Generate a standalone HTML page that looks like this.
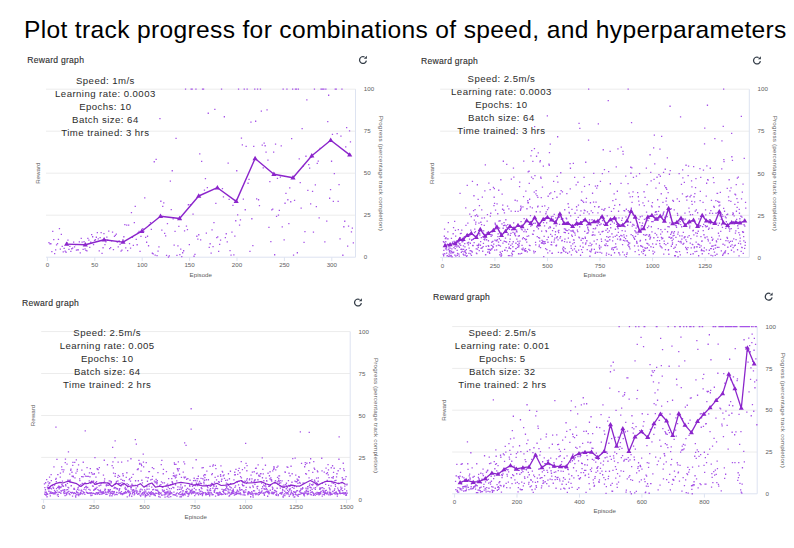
<!DOCTYPE html>
<html><head><meta charset="utf-8"><title>Plot track progress</title>
<style>
html,body{margin:0;padding:0;background:#fff;}
body{width:794px;height:548px;overflow:hidden;position:relative;}
svg{position:absolute;left:0;top:0;}
text{font-family:"Liberation Sans", Arial, sans-serif;}
.h1{font-size:24.6px;fill:#000;letter-spacing:0.33px;}
.ttl{font-size:8.6px;fill:#2f2f2f;letter-spacing:0.25px;stroke:#2f2f2f;stroke-width:0.12px;}
.tl{font-size:6.2px;fill:#606060;}
.ov{font-size:9.6px;fill:#2c2c2c;letter-spacing:0.45px;}
.grid{stroke:#ececec;stroke-width:1;fill:none;}
.axis{stroke:#dde3f1;stroke-width:1;fill:none;}
.dot{fill:#a653e8;}
.avg{fill:none;stroke:#8b25cb;stroke-linejoin:round;}
.tri{fill:#8b25cb;}
</style></head>
<body>
<svg width="794" height="548" viewBox="0 0 794 548">
<text x="24.0" y="37.7" class="h1">Plot track progress for combinations of speed, and hyperparameters</text>
<text x="27.2" y="63.1" class="ttl">Reward graph</text>
<path d="M366.40 60.60A3.45 3.45 0 1 1 364.62 56.95" fill="none" stroke="#333c47" stroke-width="1.25"/>
<path d="M366.90 55.70V58.80H363.80z" fill="#333c47"/>
<path d="M46 89.2H355.5" class="grid"/>
<path d="M46 131.2H355.5" class="grid"/>
<path d="M46 173.2H355.5" class="grid"/>
<path d="M46 215.2H355.5" class="grid"/>
<path d="M46 257.2H355.5M355.5 89.2V257.2" class="axis"/>
<text x="47.4" y="267.3" class="tl" text-anchor="middle">0</text>
<text x="94.8" y="267.3" class="tl" text-anchor="middle">50</text>
<text x="142.2" y="267.3" class="tl" text-anchor="middle">100</text>
<text x="189.6" y="267.3" class="tl" text-anchor="middle">150</text>
<text x="237.0" y="267.3" class="tl" text-anchor="middle">200</text>
<text x="284.4" y="267.3" class="tl" text-anchor="middle">250</text>
<text x="331.8" y="267.3" class="tl" text-anchor="middle">300</text>
<path d="M47.4 257.2v3.8M94.8 257.2v3.8M142.2 257.2v3.8M189.6 257.2v3.8M237.0 257.2v3.8M284.4 257.2v3.8M331.8 257.2v3.8" class="axis"/>
<text x="363.8" y="259.4" class="tl">0</text>
<text x="363.8" y="217.4" class="tl">25</text>
<text x="363.8" y="175.4" class="tl">50</text>
<text x="363.8" y="133.4" class="tl">75</text>
<text x="363.8" y="91.4" class="tl">100</text>
<text transform="translate(39.7 173.2) rotate(-90)" class="tl" text-anchor="middle">Reward</text>
<text transform="translate(379.3 173.2) rotate(90)" class="tl" text-anchor="middle" textLength="115" lengthAdjust="spacing">Progress (percentage track completion)</text>
<text x="200.8" y="276.8" class="tl" text-anchor="middle">Episode</text>
<path d="M48.3 241.9h1.3v1.3h-1.3zM49.3 243.2h1.3v1.3h-1.3zM50.2 243.1h1.3v1.3h-1.3zM51.2 250.9h1.3v1.3h-1.3zM52.1 230.8h1.3v1.3h-1.3zM53.1 239.0h1.3v1.3h-1.3zM54.0 252.9h1.3v1.3h-1.3zM55.0 249.2h1.3v1.3h-1.3zM55.9 244.2h1.3v1.3h-1.3zM56.9 243.0h1.3v1.3h-1.3zM57.8 238.7h1.3v1.3h-1.3zM58.8 228.0h1.3v1.3h-1.3zM59.7 248.5h1.3v1.3h-1.3zM60.7 233.8h1.3v1.3h-1.3zM61.6 245.7h1.3v1.3h-1.3zM62.6 251.3h1.3v1.3h-1.3zM63.5 247.8h1.3v1.3h-1.3zM64.5 250.4h1.3v1.3h-1.3zM65.4 251.6h1.3v1.3h-1.3zM66.4 241.9h1.3v1.3h-1.3zM67.3 239.4h1.3v1.3h-1.3zM68.3 248.8h1.3v1.3h-1.3zM69.2 245.7h1.3v1.3h-1.3zM70.2 250.8h1.3v1.3h-1.3zM71.1 248.1h1.3v1.3h-1.3zM72.0 247.5h1.3v1.3h-1.3zM73.0 241.5h1.3v1.3h-1.3zM73.9 246.2h1.3v1.3h-1.3zM74.9 244.0h1.3v1.3h-1.3zM75.8 249.4h1.3v1.3h-1.3zM76.8 249.3h1.3v1.3h-1.3zM77.7 249.2h1.3v1.3h-1.3zM78.7 241.2h1.3v1.3h-1.3zM79.6 252.2h1.3v1.3h-1.3zM80.6 237.7h1.3v1.3h-1.3zM81.5 241.5h1.3v1.3h-1.3zM82.5 248.8h1.3v1.3h-1.3zM83.4 241.1h1.3v1.3h-1.3zM84.4 248.2h1.3v1.3h-1.3zM85.3 249.7h1.3v1.3h-1.3zM86.3 250.3h1.3v1.3h-1.3zM87.2 237.8h1.3v1.3h-1.3zM88.2 239.5h1.3v1.3h-1.3zM89.1 246.7h1.3v1.3h-1.3zM90.1 241.6h1.3v1.3h-1.3zM91.0 233.9h1.3v1.3h-1.3zM92.0 236.1h1.3v1.3h-1.3zM92.9 244.0h1.3v1.3h-1.3zM93.9 239.7h1.3v1.3h-1.3zM94.8 239.1h1.3v1.3h-1.3zM95.7 236.6h1.3v1.3h-1.3zM96.7 231.9h1.3v1.3h-1.3zM97.6 238.2h1.3v1.3h-1.3zM98.6 250.3h1.3v1.3h-1.3zM99.5 236.9h1.3v1.3h-1.3zM100.5 232.0h1.3v1.3h-1.3zM101.4 252.7h1.3v1.3h-1.3zM102.4 247.1h1.3v1.3h-1.3zM103.3 232.9h1.3v1.3h-1.3zM104.3 243.9h1.3v1.3h-1.3zM105.2 241.3h1.3v1.3h-1.3zM106.2 236.4h1.3v1.3h-1.3zM107.1 239.6h1.3v1.3h-1.3zM108.1 230.5h1.3v1.3h-1.3zM109.0 248.0h1.3v1.3h-1.3zM110.0 247.0h1.3v1.3h-1.3zM110.9 240.1h1.3v1.3h-1.3zM111.9 231.4h1.3v1.3h-1.3zM112.8 248.9h1.3v1.3h-1.3zM113.8 235.7h1.3v1.3h-1.3zM114.7 234.7h1.3v1.3h-1.3zM115.7 233.5h1.3v1.3h-1.3zM116.6 241.4h1.3v1.3h-1.3zM117.6 246.2h1.3v1.3h-1.3zM118.5 240.3h1.3v1.3h-1.3zM119.4 243.7h1.3v1.3h-1.3zM120.4 250.4h1.3v1.3h-1.3zM121.3 249.4h1.3v1.3h-1.3zM122.3 239.3h1.3v1.3h-1.3zM123.2 236.1h1.3v1.3h-1.3zM124.2 224.0h1.3v1.3h-1.3zM125.1 247.2h1.3v1.3h-1.3zM126.1 224.4h1.3v1.3h-1.3zM127.0 249.9h1.3v1.3h-1.3zM128.0 224.4h1.3v1.3h-1.3zM128.9 242.9h1.3v1.3h-1.3zM129.9 247.5h1.3v1.3h-1.3zM130.8 211.9h1.3v1.3h-1.3zM131.8 236.6h1.3v1.3h-1.3zM132.7 244.8h1.3v1.3h-1.3zM133.7 221.9h1.3v1.3h-1.3zM134.6 205.8h1.3v1.3h-1.3zM135.6 238.7h1.3v1.3h-1.3zM136.5 244.1h1.3v1.3h-1.3zM137.5 231.9h1.3v1.3h-1.3zM138.4 230.7h1.3v1.3h-1.3zM139.4 250.8h1.3v1.3h-1.3zM140.3 235.8h1.3v1.3h-1.3zM141.3 231.3h1.3v1.3h-1.3zM142.2 228.1h1.3v1.3h-1.3zM143.1 230.8h1.3v1.3h-1.3zM144.1 197.3h1.3v1.3h-1.3zM145.0 236.8h1.3v1.3h-1.3zM146.0 241.6h1.3v1.3h-1.3zM146.9 235.6h1.3v1.3h-1.3zM147.9 245.1h1.3v1.3h-1.3zM148.8 224.2h1.3v1.3h-1.3zM149.8 222.1h1.3v1.3h-1.3zM150.7 228.7h1.3v1.3h-1.3zM151.7 252.6h1.3v1.3h-1.3zM152.6 253.3h1.3v1.3h-1.3zM153.6 161.1h1.3v1.3h-1.3zM154.5 254.4h1.3v1.3h-1.3zM155.5 158.8h1.3v1.3h-1.3zM156.4 255.0h1.3v1.3h-1.3zM157.4 250.4h1.3v1.3h-1.3zM158.3 246.3h1.3v1.3h-1.3zM159.3 117.9h1.3v1.3h-1.3zM160.2 200.6h1.3v1.3h-1.3zM161.2 229.4h1.3v1.3h-1.3zM162.1 205.7h1.3v1.3h-1.3zM163.1 202.2h1.3v1.3h-1.3zM164.0 232.7h1.3v1.3h-1.3zM165.0 235.2h1.3v1.3h-1.3zM165.9 254.7h1.3v1.3h-1.3zM166.8 223.0h1.3v1.3h-1.3zM167.8 256.4h1.3v1.3h-1.3zM168.7 255.2h1.3v1.3h-1.3zM169.7 180.4h1.3v1.3h-1.3zM170.6 208.9h1.3v1.3h-1.3zM171.6 170.1h1.3v1.3h-1.3zM172.5 218.3h1.3v1.3h-1.3zM173.5 244.4h1.3v1.3h-1.3zM174.4 230.7h1.3v1.3h-1.3zM175.4 137.8h1.3v1.3h-1.3zM176.3 254.7h1.3v1.3h-1.3zM177.3 245.2h1.3v1.3h-1.3zM178.2 225.7h1.3v1.3h-1.3zM179.2 253.9h1.3v1.3h-1.3zM180.1 248.4h1.3v1.3h-1.3zM181.1 255.9h1.3v1.3h-1.3zM182.0 252.1h1.3v1.3h-1.3zM183.0 250.1h1.3v1.3h-1.3zM183.9 230.3h1.3v1.3h-1.3zM184.9 88.5h1.3v1.3h-1.3zM185.8 225.5h1.3v1.3h-1.3zM186.8 229.0h1.3v1.3h-1.3zM187.7 204.1h1.3v1.3h-1.3zM188.7 243.9h1.3v1.3h-1.3zM189.6 204.0h1.3v1.3h-1.3zM190.5 88.5h1.3v1.3h-1.3zM191.5 88.5h1.3v1.3h-1.3zM192.4 213.4h1.3v1.3h-1.3zM193.4 255.6h1.3v1.3h-1.3zM194.3 253.8h1.3v1.3h-1.3zM195.3 88.5h1.3v1.3h-1.3zM196.2 235.6h1.3v1.3h-1.3zM197.2 238.4h1.3v1.3h-1.3zM198.1 234.1h1.3v1.3h-1.3zM199.1 153.2h1.3v1.3h-1.3zM200.0 239.2h1.3v1.3h-1.3zM201.0 160.7h1.3v1.3h-1.3zM201.9 88.5h1.3v1.3h-1.3zM202.9 88.5h1.3v1.3h-1.3zM203.8 189.5h1.3v1.3h-1.3zM204.8 178.0h1.3v1.3h-1.3zM205.7 232.5h1.3v1.3h-1.3zM206.7 187.0h1.3v1.3h-1.3zM207.6 112.6h1.3v1.3h-1.3zM208.6 246.8h1.3v1.3h-1.3zM209.5 243.1h1.3v1.3h-1.3zM210.5 252.5h1.3v1.3h-1.3zM211.4 229.3h1.3v1.3h-1.3zM212.4 245.9h1.3v1.3h-1.3zM213.3 222.0h1.3v1.3h-1.3zM214.2 108.8h1.3v1.3h-1.3zM215.2 202.8h1.3v1.3h-1.3zM216.1 237.0h1.3v1.3h-1.3zM217.1 236.2h1.3v1.3h-1.3zM218.0 250.7h1.3v1.3h-1.3zM219.0 243.7h1.3v1.3h-1.3zM219.9 239.5h1.3v1.3h-1.3zM220.9 88.5h1.3v1.3h-1.3zM221.8 187.9h1.3v1.3h-1.3zM222.8 196.2h1.3v1.3h-1.3zM223.7 116.1h1.3v1.3h-1.3zM224.7 237.0h1.3v1.3h-1.3zM225.6 233.1h1.3v1.3h-1.3zM226.6 241.2h1.3v1.3h-1.3zM227.5 162.5h1.3v1.3h-1.3zM228.5 198.7h1.3v1.3h-1.3zM229.4 249.9h1.3v1.3h-1.3zM230.4 254.5h1.3v1.3h-1.3zM231.3 231.4h1.3v1.3h-1.3zM232.3 204.7h1.3v1.3h-1.3zM233.2 254.3h1.3v1.3h-1.3zM234.2 235.4h1.3v1.3h-1.3zM235.1 220.1h1.3v1.3h-1.3zM236.1 170.1h1.3v1.3h-1.3zM237.0 214.2h1.3v1.3h-1.3zM237.9 88.5h1.3v1.3h-1.3zM238.9 224.5h1.3v1.3h-1.3zM239.8 219.3h1.3v1.3h-1.3zM240.8 137.4h1.3v1.3h-1.3zM241.7 144.3h1.3v1.3h-1.3zM242.7 198.4h1.3v1.3h-1.3zM243.6 88.5h1.3v1.3h-1.3zM244.6 209.1h1.3v1.3h-1.3zM245.5 145.8h1.3v1.3h-1.3zM246.5 88.5h1.3v1.3h-1.3zM247.4 182.6h1.3v1.3h-1.3zM248.4 178.8h1.3v1.3h-1.3zM249.3 250.8h1.3v1.3h-1.3zM250.3 121.5h1.3v1.3h-1.3zM251.2 218.1h1.3v1.3h-1.3zM252.2 245.0h1.3v1.3h-1.3zM253.1 145.8h1.3v1.3h-1.3zM254.1 88.5h1.3v1.3h-1.3zM255.0 120.6h1.3v1.3h-1.3zM256.0 198.2h1.3v1.3h-1.3zM256.9 88.5h1.3v1.3h-1.3zM257.9 199.1h1.3v1.3h-1.3zM258.8 204.9h1.3v1.3h-1.3zM259.8 88.5h1.3v1.3h-1.3zM260.7 110.4h1.3v1.3h-1.3zM261.6 144.5h1.3v1.3h-1.3zM262.6 167.2h1.3v1.3h-1.3zM263.5 142.4h1.3v1.3h-1.3zM264.5 145.1h1.3v1.3h-1.3zM265.4 151.5h1.3v1.3h-1.3zM266.4 109.3h1.3v1.3h-1.3zM267.3 159.5h1.3v1.3h-1.3zM268.3 226.8h1.3v1.3h-1.3zM269.2 181.0h1.3v1.3h-1.3zM270.2 240.9h1.3v1.3h-1.3zM271.1 209.3h1.3v1.3h-1.3zM272.1 208.5h1.3v1.3h-1.3zM273.0 151.5h1.3v1.3h-1.3zM274.0 254.1h1.3v1.3h-1.3zM274.9 143.5h1.3v1.3h-1.3zM275.9 215.8h1.3v1.3h-1.3zM276.8 177.7h1.3v1.3h-1.3zM277.8 214.4h1.3v1.3h-1.3zM278.7 209.7h1.3v1.3h-1.3zM279.7 176.5h1.3v1.3h-1.3zM280.6 145.3h1.3v1.3h-1.3zM281.6 226.2h1.3v1.3h-1.3zM282.5 88.5h1.3v1.3h-1.3zM283.5 239.3h1.3v1.3h-1.3zM284.4 202.6h1.3v1.3h-1.3zM285.3 192.7h1.3v1.3h-1.3zM286.3 88.5h1.3v1.3h-1.3zM287.2 199.1h1.3v1.3h-1.3zM288.2 223.0h1.3v1.3h-1.3zM289.1 187.2h1.3v1.3h-1.3zM290.1 201.1h1.3v1.3h-1.3zM291.0 137.9h1.3v1.3h-1.3zM292.0 88.5h1.3v1.3h-1.3zM292.9 254.4h1.3v1.3h-1.3zM293.9 199.8h1.3v1.3h-1.3zM294.8 88.5h1.3v1.3h-1.3zM295.8 88.5h1.3v1.3h-1.3zM296.7 252.1h1.3v1.3h-1.3zM297.7 88.5h1.3v1.3h-1.3zM298.6 158.3h1.3v1.3h-1.3zM299.6 182.0h1.3v1.3h-1.3zM300.5 207.5h1.3v1.3h-1.3zM301.5 127.9h1.3v1.3h-1.3zM302.4 165.8h1.3v1.3h-1.3zM303.4 241.7h1.3v1.3h-1.3zM304.3 231.0h1.3v1.3h-1.3zM305.3 155.6h1.3v1.3h-1.3zM306.2 99.2h1.3v1.3h-1.3zM307.2 189.7h1.3v1.3h-1.3zM308.1 163.9h1.3v1.3h-1.3zM309.0 167.5h1.3v1.3h-1.3zM310.0 203.3h1.3v1.3h-1.3zM310.9 156.4h1.3v1.3h-1.3zM311.9 190.7h1.3v1.3h-1.3zM312.8 231.5h1.3v1.3h-1.3zM313.8 88.5h1.3v1.3h-1.3zM314.7 184.2h1.3v1.3h-1.3zM315.7 205.9h1.3v1.3h-1.3zM316.6 162.7h1.3v1.3h-1.3zM317.6 160.5h1.3v1.3h-1.3zM318.5 217.3h1.3v1.3h-1.3zM319.5 147.7h1.3v1.3h-1.3zM320.4 88.5h1.3v1.3h-1.3zM321.4 88.5h1.3v1.3h-1.3zM322.3 88.5h1.3v1.3h-1.3zM323.3 88.5h1.3v1.3h-1.3zM324.2 241.3h1.3v1.3h-1.3zM325.2 88.5h1.3v1.3h-1.3zM326.1 220.5h1.3v1.3h-1.3zM327.1 121.0h1.3v1.3h-1.3zM328.0 94.6h1.3v1.3h-1.3zM329.0 197.6h1.3v1.3h-1.3zM329.9 189.0h1.3v1.3h-1.3zM330.9 160.6h1.3v1.3h-1.3zM331.8 133.8h1.3v1.3h-1.3zM332.7 200.7h1.3v1.3h-1.3zM333.7 173.0h1.3v1.3h-1.3zM334.6 88.5h1.3v1.3h-1.3zM335.6 88.5h1.3v1.3h-1.3zM336.5 133.0h1.3v1.3h-1.3zM337.5 200.8h1.3v1.3h-1.3zM338.4 183.9h1.3v1.3h-1.3zM339.4 238.3h1.3v1.3h-1.3zM340.3 135.5h1.3v1.3h-1.3zM341.3 88.5h1.3v1.3h-1.3zM342.2 254.6h1.3v1.3h-1.3zM343.2 226.1h1.3v1.3h-1.3zM344.1 220.6h1.3v1.3h-1.3zM345.1 146.3h1.3v1.3h-1.3zM346.0 127.0h1.3v1.3h-1.3zM347.0 245.4h1.3v1.3h-1.3zM347.9 225.4h1.3v1.3h-1.3zM348.9 130.3h1.3v1.3h-1.3zM349.8 141.2h1.3v1.3h-1.3zM350.8 231.2h1.3v1.3h-1.3zM351.7 227.4h1.3v1.3h-1.3zM352.7 242.2h1.3v1.3h-1.3z" class="dot"/>
<polyline points="66.6,244.1 85.3,244.7 104.1,239.8 123.0,242.1 141.8,231.2 160.5,216.3 179.6,218.5 198.7,196.0 217.4,187.7 236.2,201.4 255.1,158.5 273.9,174.2 293.0,177.8 311.8,155.8 330.7,140.3 349.7,154.9" class="avg" stroke-width="1.4"/>
<path d="M66.6 241.4l2.60 4.42h-5.20zM85.3 242.0l2.60 4.42h-5.20zM104.1 237.1l2.60 4.42h-5.20zM123.0 239.4l2.60 4.42h-5.20zM141.8 228.5l2.60 4.42h-5.20zM160.5 213.6l2.60 4.42h-5.20zM179.6 215.8l2.60 4.42h-5.20zM198.7 193.3l2.60 4.42h-5.20zM217.4 185.0l2.60 4.42h-5.20zM236.2 198.7l2.60 4.42h-5.20zM255.1 155.8l2.60 4.42h-5.20zM273.9 171.5l2.60 4.42h-5.20zM293.0 175.1l2.60 4.42h-5.20zM311.8 153.1l2.60 4.42h-5.20zM330.7 137.6l2.60 4.42h-5.20zM349.7 152.2l2.60 4.42h-5.20z" class="tri"/>
<text x="105.4" y="84.1" class="ov" text-anchor="middle">Speed: 1m/s</text>
<text x="105.4" y="97.0" class="ov" text-anchor="middle">Learning rate: 0.0003</text>
<text x="105.4" y="110.0" class="ov" text-anchor="middle">Epochs: 10</text>
<text x="105.4" y="122.9" class="ov" text-anchor="middle">Batch size: 64</text>
<text x="105.4" y="135.9" class="ov" text-anchor="middle">Time trained: 3 hrs</text>
<text x="421.1" y="63.5" class="ttl">Reward graph</text>
<path d="M760.40 61.10A3.45 3.45 0 1 1 758.62 57.45" fill="none" stroke="#333c47" stroke-width="1.25"/>
<path d="M760.90 56.20V59.30H757.80z" fill="#333c47"/>
<path d="M440.2 89.2H749.3" class="grid"/>
<path d="M440.2 131.2H749.3" class="grid"/>
<path d="M440.2 173.3H749.3" class="grid"/>
<path d="M440.2 215.3H749.3" class="grid"/>
<path d="M440.2 257.4H749.3M749.3 89.2V257.4" class="axis"/>
<text x="442.4" y="267.5" class="tl" text-anchor="middle">0</text>
<text x="494.9" y="267.5" class="tl" text-anchor="middle">250</text>
<text x="547.5" y="267.5" class="tl" text-anchor="middle">500</text>
<text x="600.0" y="267.5" class="tl" text-anchor="middle">750</text>
<text x="652.6" y="267.5" class="tl" text-anchor="middle">1000</text>
<text x="705.1" y="267.5" class="tl" text-anchor="middle">1250</text>
<path d="M442.4 257.4v3.8M494.9 257.4v3.8M547.5 257.4v3.8M600.0 257.4v3.8M652.6 257.4v3.8M705.1 257.4v3.8" class="axis"/>
<text x="757.6" y="259.6" class="tl">0</text>
<text x="757.6" y="217.5" class="tl">25</text>
<text x="757.6" y="175.5" class="tl">50</text>
<text x="757.6" y="133.4" class="tl">75</text>
<text x="757.6" y="91.4" class="tl">100</text>
<text transform="translate(433.9 173.3) rotate(-90)" class="tl" text-anchor="middle">Reward</text>
<text transform="translate(773.1 173.3) rotate(90)" class="tl" text-anchor="middle" textLength="115" lengthAdjust="spacing">Progress (percentage track completion)</text>
<text x="594.8" y="277" class="tl" text-anchor="middle">Episode</text>
<path d="M442.6 253.6h1.3v1.3h-1.3zM442.8 240.9h1.3v1.3h-1.3zM443.0 255.1h1.3v1.3h-1.3zM443.2 249.7h1.3v1.3h-1.3zM443.5 241.7h1.3v1.3h-1.3zM443.7 235.6h1.3v1.3h-1.3zM443.9 228.4h1.3v1.3h-1.3zM444.1 253.1h1.3v1.3h-1.3zM444.3 243.6h1.3v1.3h-1.3zM444.5 244.5h1.3v1.3h-1.3zM444.7 237.9h1.3v1.3h-1.3zM444.9 248.2h1.3v1.3h-1.3zM445.1 241.1h1.3v1.3h-1.3zM445.3 237.1h1.3v1.3h-1.3zM445.6 246.7h1.3v1.3h-1.3zM445.8 247.5h1.3v1.3h-1.3zM446.0 252.5h1.3v1.3h-1.3zM446.2 249.2h1.3v1.3h-1.3zM446.4 255.3h1.3v1.3h-1.3zM446.6 238.2h1.3v1.3h-1.3zM446.8 255.0h1.3v1.3h-1.3zM447.0 243.5h1.3v1.3h-1.3zM447.2 231.2h1.3v1.3h-1.3zM447.4 238.2h1.3v1.3h-1.3zM447.7 222.0h1.3v1.3h-1.3zM447.9 255.8h1.3v1.3h-1.3zM448.1 248.6h1.3v1.3h-1.3zM448.3 246.1h1.3v1.3h-1.3zM448.5 253.4h1.3v1.3h-1.3zM448.7 250.1h1.3v1.3h-1.3zM448.9 251.5h1.3v1.3h-1.3zM449.1 255.2h1.3v1.3h-1.3zM449.3 255.4h1.3v1.3h-1.3zM449.5 247.4h1.3v1.3h-1.3zM449.8 245.0h1.3v1.3h-1.3zM450.0 250.2h1.3v1.3h-1.3zM450.2 252.5h1.3v1.3h-1.3zM450.4 254.7h1.3v1.3h-1.3zM450.6 255.1h1.3v1.3h-1.3zM450.8 237.8h1.3v1.3h-1.3zM451.0 250.8h1.3v1.3h-1.3zM451.2 248.2h1.3v1.3h-1.3zM451.4 256.1h1.3v1.3h-1.3zM451.6 252.0h1.3v1.3h-1.3zM451.9 241.4h1.3v1.3h-1.3zM452.1 242.8h1.3v1.3h-1.3zM452.3 252.3h1.3v1.3h-1.3zM452.5 233.1h1.3v1.3h-1.3zM452.7 251.6h1.3v1.3h-1.3zM452.9 227.0h1.3v1.3h-1.3zM453.1 251.5h1.3v1.3h-1.3zM453.3 246.9h1.3v1.3h-1.3zM453.5 240.7h1.3v1.3h-1.3zM453.8 241.9h1.3v1.3h-1.3zM454.0 220.7h1.3v1.3h-1.3zM454.2 254.4h1.3v1.3h-1.3zM454.4 245.8h1.3v1.3h-1.3zM454.6 248.0h1.3v1.3h-1.3zM454.8 229.7h1.3v1.3h-1.3zM455.0 235.4h1.3v1.3h-1.3zM455.2 255.5h1.3v1.3h-1.3zM455.4 244.4h1.3v1.3h-1.3zM455.6 243.1h1.3v1.3h-1.3zM455.9 240.3h1.3v1.3h-1.3zM456.1 246.2h1.3v1.3h-1.3zM456.3 241.1h1.3v1.3h-1.3zM456.5 249.7h1.3v1.3h-1.3zM456.7 254.6h1.3v1.3h-1.3zM456.9 252.8h1.3v1.3h-1.3zM457.1 240.7h1.3v1.3h-1.3zM457.3 245.2h1.3v1.3h-1.3zM457.5 242.2h1.3v1.3h-1.3zM457.7 229.0h1.3v1.3h-1.3zM458.0 245.4h1.3v1.3h-1.3zM458.2 253.4h1.3v1.3h-1.3zM458.4 241.0h1.3v1.3h-1.3zM458.6 255.4h1.3v1.3h-1.3zM458.8 246.8h1.3v1.3h-1.3zM459.0 243.5h1.3v1.3h-1.3zM459.2 243.0h1.3v1.3h-1.3zM459.4 192.8h1.3v1.3h-1.3zM459.6 237.1h1.3v1.3h-1.3zM459.8 232.9h1.3v1.3h-1.3zM460.1 244.7h1.3v1.3h-1.3zM460.3 248.8h1.3v1.3h-1.3zM460.5 232.7h1.3v1.3h-1.3zM460.7 251.8h1.3v1.3h-1.3zM460.9 248.6h1.3v1.3h-1.3zM461.1 229.4h1.3v1.3h-1.3zM461.3 241.3h1.3v1.3h-1.3zM461.5 250.8h1.3v1.3h-1.3zM461.7 239.8h1.3v1.3h-1.3zM461.9 238.6h1.3v1.3h-1.3zM462.2 240.9h1.3v1.3h-1.3zM462.4 248.8h1.3v1.3h-1.3zM462.6 253.6h1.3v1.3h-1.3zM462.8 245.3h1.3v1.3h-1.3zM463.0 248.7h1.3v1.3h-1.3zM463.2 254.5h1.3v1.3h-1.3zM463.4 251.1h1.3v1.3h-1.3zM463.6 237.7h1.3v1.3h-1.3zM463.8 236.0h1.3v1.3h-1.3zM464.1 242.9h1.3v1.3h-1.3zM464.3 246.3h1.3v1.3h-1.3zM464.5 250.1h1.3v1.3h-1.3zM464.7 254.4h1.3v1.3h-1.3zM464.9 251.8h1.3v1.3h-1.3zM465.1 207.2h1.3v1.3h-1.3zM465.3 224.8h1.3v1.3h-1.3zM465.5 252.7h1.3v1.3h-1.3zM465.7 249.0h1.3v1.3h-1.3zM465.9 255.7h1.3v1.3h-1.3zM466.2 234.2h1.3v1.3h-1.3zM466.4 254.9h1.3v1.3h-1.3zM466.6 184.8h1.3v1.3h-1.3zM466.8 242.5h1.3v1.3h-1.3zM467.0 242.2h1.3v1.3h-1.3zM467.2 222.5h1.3v1.3h-1.3zM467.4 235.6h1.3v1.3h-1.3zM467.6 242.3h1.3v1.3h-1.3zM467.8 244.3h1.3v1.3h-1.3zM468.0 241.7h1.3v1.3h-1.3zM468.3 252.8h1.3v1.3h-1.3zM468.5 247.4h1.3v1.3h-1.3zM468.7 234.7h1.3v1.3h-1.3zM468.9 238.4h1.3v1.3h-1.3zM469.1 213.5h1.3v1.3h-1.3zM469.3 234.4h1.3v1.3h-1.3zM469.5 250.0h1.3v1.3h-1.3zM469.7 242.6h1.3v1.3h-1.3zM469.9 253.2h1.3v1.3h-1.3zM470.1 229.4h1.3v1.3h-1.3zM470.4 250.3h1.3v1.3h-1.3zM470.6 216.0h1.3v1.3h-1.3zM470.8 254.7h1.3v1.3h-1.3zM471.0 239.6h1.3v1.3h-1.3zM471.2 250.8h1.3v1.3h-1.3zM471.4 239.0h1.3v1.3h-1.3zM471.6 251.5h1.3v1.3h-1.3zM471.8 180.8h1.3v1.3h-1.3zM472.0 244.9h1.3v1.3h-1.3zM472.2 244.7h1.3v1.3h-1.3zM472.5 244.9h1.3v1.3h-1.3zM472.7 238.6h1.3v1.3h-1.3zM472.9 209.9h1.3v1.3h-1.3zM473.1 238.0h1.3v1.3h-1.3zM473.3 195.1h1.3v1.3h-1.3zM473.5 241.9h1.3v1.3h-1.3zM473.7 219.4h1.3v1.3h-1.3zM473.9 231.9h1.3v1.3h-1.3zM474.1 228.5h1.3v1.3h-1.3zM474.4 209.0h1.3v1.3h-1.3zM474.6 215.1h1.3v1.3h-1.3zM474.8 231.0h1.3v1.3h-1.3zM475.0 223.5h1.3v1.3h-1.3zM475.2 221.4h1.3v1.3h-1.3zM475.4 237.7h1.3v1.3h-1.3zM475.6 248.3h1.3v1.3h-1.3zM475.8 252.5h1.3v1.3h-1.3zM476.0 214.2h1.3v1.3h-1.3zM476.2 252.9h1.3v1.3h-1.3zM476.5 244.8h1.3v1.3h-1.3zM476.7 184.1h1.3v1.3h-1.3zM476.9 248.5h1.3v1.3h-1.3zM477.1 215.6h1.3v1.3h-1.3zM477.3 244.9h1.3v1.3h-1.3zM477.5 198.7h1.3v1.3h-1.3zM477.7 246.7h1.3v1.3h-1.3zM477.9 244.7h1.3v1.3h-1.3zM478.1 243.6h1.3v1.3h-1.3zM478.3 222.5h1.3v1.3h-1.3zM478.6 249.9h1.3v1.3h-1.3zM478.8 205.0h1.3v1.3h-1.3zM479.0 232.9h1.3v1.3h-1.3zM479.2 234.4h1.3v1.3h-1.3zM479.4 230.3h1.3v1.3h-1.3zM479.6 228.4h1.3v1.3h-1.3zM479.8 244.6h1.3v1.3h-1.3zM480.0 240.9h1.3v1.3h-1.3zM480.2 221.6h1.3v1.3h-1.3zM480.4 247.7h1.3v1.3h-1.3zM480.7 236.9h1.3v1.3h-1.3zM480.9 223.9h1.3v1.3h-1.3zM481.1 209.2h1.3v1.3h-1.3zM481.3 217.5h1.3v1.3h-1.3zM481.5 247.1h1.3v1.3h-1.3zM481.7 196.4h1.3v1.3h-1.3zM481.9 232.2h1.3v1.3h-1.3zM482.1 250.6h1.3v1.3h-1.3zM482.3 235.9h1.3v1.3h-1.3zM482.5 245.9h1.3v1.3h-1.3zM482.8 242.8h1.3v1.3h-1.3zM483.0 230.2h1.3v1.3h-1.3zM483.2 233.8h1.3v1.3h-1.3zM483.4 238.8h1.3v1.3h-1.3zM483.6 224.7h1.3v1.3h-1.3zM483.8 217.3h1.3v1.3h-1.3zM484.0 239.1h1.3v1.3h-1.3zM484.2 190.3h1.3v1.3h-1.3zM484.4 237.4h1.3v1.3h-1.3zM484.7 164.2h1.3v1.3h-1.3zM484.9 254.1h1.3v1.3h-1.3zM485.1 254.0h1.3v1.3h-1.3zM485.3 234.6h1.3v1.3h-1.3zM485.5 245.8h1.3v1.3h-1.3zM485.7 235.9h1.3v1.3h-1.3zM485.9 239.1h1.3v1.3h-1.3zM486.1 234.2h1.3v1.3h-1.3zM486.3 232.3h1.3v1.3h-1.3zM486.5 220.5h1.3v1.3h-1.3zM486.8 214.0h1.3v1.3h-1.3zM487.0 251.5h1.3v1.3h-1.3zM487.2 231.7h1.3v1.3h-1.3zM487.4 248.8h1.3v1.3h-1.3zM487.6 245.0h1.3v1.3h-1.3zM487.8 240.1h1.3v1.3h-1.3zM488.0 245.6h1.3v1.3h-1.3zM488.2 182.4h1.3v1.3h-1.3zM488.4 249.0h1.3v1.3h-1.3zM488.6 251.2h1.3v1.3h-1.3zM488.9 252.6h1.3v1.3h-1.3zM489.1 252.5h1.3v1.3h-1.3zM489.3 248.8h1.3v1.3h-1.3zM489.5 189.0h1.3v1.3h-1.3zM489.7 215.5h1.3v1.3h-1.3zM489.9 249.6h1.3v1.3h-1.3zM490.1 212.6h1.3v1.3h-1.3zM490.3 233.9h1.3v1.3h-1.3zM490.5 235.8h1.3v1.3h-1.3zM490.7 244.8h1.3v1.3h-1.3zM491.0 248.4h1.3v1.3h-1.3zM491.2 241.6h1.3v1.3h-1.3zM491.4 248.0h1.3v1.3h-1.3zM491.6 234.4h1.3v1.3h-1.3zM491.8 231.3h1.3v1.3h-1.3zM492.0 245.5h1.3v1.3h-1.3zM492.2 240.7h1.3v1.3h-1.3zM492.4 246.7h1.3v1.3h-1.3zM492.6 246.2h1.3v1.3h-1.3zM492.8 186.8h1.3v1.3h-1.3zM493.1 243.5h1.3v1.3h-1.3zM493.3 205.0h1.3v1.3h-1.3zM493.5 196.6h1.3v1.3h-1.3zM493.7 188.0h1.3v1.3h-1.3zM493.9 202.8h1.3v1.3h-1.3zM494.1 249.5h1.3v1.3h-1.3zM494.3 239.4h1.3v1.3h-1.3zM494.5 222.4h1.3v1.3h-1.3zM494.7 223.6h1.3v1.3h-1.3zM494.9 209.4h1.3v1.3h-1.3zM495.2 225.3h1.3v1.3h-1.3zM495.4 228.2h1.3v1.3h-1.3zM495.6 240.3h1.3v1.3h-1.3zM495.8 245.2h1.3v1.3h-1.3zM496.0 249.3h1.3v1.3h-1.3zM496.2 240.1h1.3v1.3h-1.3zM496.4 203.2h1.3v1.3h-1.3zM496.6 238.9h1.3v1.3h-1.3zM496.8 226.3h1.3v1.3h-1.3zM497.1 213.1h1.3v1.3h-1.3zM497.3 235.9h1.3v1.3h-1.3zM497.5 233.3h1.3v1.3h-1.3zM497.7 244.5h1.3v1.3h-1.3zM497.9 241.4h1.3v1.3h-1.3zM498.1 189.6h1.3v1.3h-1.3zM498.3 220.5h1.3v1.3h-1.3zM498.5 244.7h1.3v1.3h-1.3zM498.7 238.1h1.3v1.3h-1.3zM498.9 227.4h1.3v1.3h-1.3zM499.2 254.1h1.3v1.3h-1.3zM499.4 220.1h1.3v1.3h-1.3zM499.6 251.6h1.3v1.3h-1.3zM499.8 245.4h1.3v1.3h-1.3zM500.0 239.8h1.3v1.3h-1.3zM500.2 179.1h1.3v1.3h-1.3zM500.4 255.6h1.3v1.3h-1.3zM500.6 253.0h1.3v1.3h-1.3zM500.8 232.4h1.3v1.3h-1.3zM501.0 254.5h1.3v1.3h-1.3zM501.3 223.3h1.3v1.3h-1.3zM501.5 193.5h1.3v1.3h-1.3zM501.7 250.8h1.3v1.3h-1.3zM501.9 208.6h1.3v1.3h-1.3zM502.1 204.5h1.3v1.3h-1.3zM502.3 242.5h1.3v1.3h-1.3zM502.5 227.6h1.3v1.3h-1.3zM502.7 160.6h1.3v1.3h-1.3zM502.9 225.0h1.3v1.3h-1.3zM503.1 209.6h1.3v1.3h-1.3zM503.4 221.9h1.3v1.3h-1.3zM503.6 240.6h1.3v1.3h-1.3zM503.8 212.2h1.3v1.3h-1.3zM504.0 249.6h1.3v1.3h-1.3zM504.2 224.6h1.3v1.3h-1.3zM504.4 249.6h1.3v1.3h-1.3zM504.6 231.8h1.3v1.3h-1.3zM504.8 237.4h1.3v1.3h-1.3zM505.0 241.0h1.3v1.3h-1.3zM505.2 219.1h1.3v1.3h-1.3zM505.5 246.9h1.3v1.3h-1.3zM505.7 225.3h1.3v1.3h-1.3zM505.9 241.5h1.3v1.3h-1.3zM506.1 163.8h1.3v1.3h-1.3zM506.3 227.0h1.3v1.3h-1.3zM506.5 227.2h1.3v1.3h-1.3zM506.7 250.2h1.3v1.3h-1.3zM506.9 205.5h1.3v1.3h-1.3zM507.1 224.0h1.3v1.3h-1.3zM507.4 234.1h1.3v1.3h-1.3zM507.6 233.3h1.3v1.3h-1.3zM507.8 254.9h1.3v1.3h-1.3zM508.0 243.4h1.3v1.3h-1.3zM508.2 208.3h1.3v1.3h-1.3zM508.4 247.7h1.3v1.3h-1.3zM508.6 246.6h1.3v1.3h-1.3zM508.8 228.6h1.3v1.3h-1.3zM509.0 241.0h1.3v1.3h-1.3zM509.2 255.0h1.3v1.3h-1.3zM509.5 238.4h1.3v1.3h-1.3zM509.7 234.8h1.3v1.3h-1.3zM509.9 247.9h1.3v1.3h-1.3zM510.1 244.8h1.3v1.3h-1.3zM510.3 232.7h1.3v1.3h-1.3zM510.5 210.4h1.3v1.3h-1.3zM510.7 178.4h1.3v1.3h-1.3zM510.9 229.1h1.3v1.3h-1.3zM511.1 252.5h1.3v1.3h-1.3zM511.3 255.2h1.3v1.3h-1.3zM511.6 243.2h1.3v1.3h-1.3zM511.8 253.7h1.3v1.3h-1.3zM512.0 250.6h1.3v1.3h-1.3zM512.2 246.1h1.3v1.3h-1.3zM512.4 231.8h1.3v1.3h-1.3zM512.6 241.1h1.3v1.3h-1.3zM512.8 167.5h1.3v1.3h-1.3zM513.0 222.3h1.3v1.3h-1.3zM513.2 176.5h1.3v1.3h-1.3zM513.4 250.8h1.3v1.3h-1.3zM513.7 133.5h1.3v1.3h-1.3zM513.9 232.7h1.3v1.3h-1.3zM514.1 233.9h1.3v1.3h-1.3zM514.3 232.4h1.3v1.3h-1.3zM514.5 199.6h1.3v1.3h-1.3zM514.7 210.8h1.3v1.3h-1.3zM514.9 235.1h1.3v1.3h-1.3zM515.1 248.0h1.3v1.3h-1.3zM515.3 242.6h1.3v1.3h-1.3zM515.5 248.0h1.3v1.3h-1.3zM515.8 230.9h1.3v1.3h-1.3zM516.0 229.4h1.3v1.3h-1.3zM516.2 238.5h1.3v1.3h-1.3zM516.4 231.3h1.3v1.3h-1.3zM516.6 200.3h1.3v1.3h-1.3zM516.8 246.8h1.3v1.3h-1.3zM517.0 244.0h1.3v1.3h-1.3zM517.2 240.8h1.3v1.3h-1.3zM517.4 210.8h1.3v1.3h-1.3zM517.7 235.5h1.3v1.3h-1.3zM517.9 253.1h1.3v1.3h-1.3zM518.1 246.1h1.3v1.3h-1.3zM518.3 244.6h1.3v1.3h-1.3zM518.5 242.6h1.3v1.3h-1.3zM518.7 235.1h1.3v1.3h-1.3zM518.9 186.0h1.3v1.3h-1.3zM519.1 181.5h1.3v1.3h-1.3zM519.3 240.4h1.3v1.3h-1.3zM519.5 253.3h1.3v1.3h-1.3zM519.8 209.7h1.3v1.3h-1.3zM520.0 208.6h1.3v1.3h-1.3zM520.2 205.6h1.3v1.3h-1.3zM520.4 221.0h1.3v1.3h-1.3zM520.6 207.3h1.3v1.3h-1.3zM520.8 228.5h1.3v1.3h-1.3zM521.0 252.7h1.3v1.3h-1.3zM521.2 248.4h1.3v1.3h-1.3zM521.4 244.8h1.3v1.3h-1.3zM521.6 229.2h1.3v1.3h-1.3zM521.9 238.2h1.3v1.3h-1.3zM522.1 249.1h1.3v1.3h-1.3zM522.3 206.3h1.3v1.3h-1.3zM522.5 247.5h1.3v1.3h-1.3zM522.7 237.0h1.3v1.3h-1.3zM522.9 196.0h1.3v1.3h-1.3zM523.1 160.4h1.3v1.3h-1.3zM523.3 231.0h1.3v1.3h-1.3zM523.5 217.9h1.3v1.3h-1.3zM523.7 249.3h1.3v1.3h-1.3zM524.0 237.9h1.3v1.3h-1.3zM524.2 250.1h1.3v1.3h-1.3zM524.4 229.3h1.3v1.3h-1.3zM524.6 250.6h1.3v1.3h-1.3zM524.8 248.0h1.3v1.3h-1.3zM525.0 239.3h1.3v1.3h-1.3zM525.2 190.4h1.3v1.3h-1.3zM525.4 249.9h1.3v1.3h-1.3zM525.6 231.1h1.3v1.3h-1.3zM525.8 238.7h1.3v1.3h-1.3zM526.1 241.4h1.3v1.3h-1.3zM526.3 208.1h1.3v1.3h-1.3zM526.5 235.7h1.3v1.3h-1.3zM526.7 251.2h1.3v1.3h-1.3zM526.9 228.7h1.3v1.3h-1.3zM527.1 200.1h1.3v1.3h-1.3zM527.3 202.1h1.3v1.3h-1.3zM527.5 171.3h1.3v1.3h-1.3zM527.7 202.1h1.3v1.3h-1.3zM528.0 235.2h1.3v1.3h-1.3zM528.2 248.8h1.3v1.3h-1.3zM528.4 170.6h1.3v1.3h-1.3zM528.6 182.7h1.3v1.3h-1.3zM528.8 244.8h1.3v1.3h-1.3zM529.0 198.6h1.3v1.3h-1.3zM529.2 249.7h1.3v1.3h-1.3zM529.4 244.9h1.3v1.3h-1.3zM529.6 206.3h1.3v1.3h-1.3zM529.8 214.9h1.3v1.3h-1.3zM530.1 225.4h1.3v1.3h-1.3zM530.3 155.2h1.3v1.3h-1.3zM530.5 223.2h1.3v1.3h-1.3zM530.7 221.0h1.3v1.3h-1.3zM530.9 176.5h1.3v1.3h-1.3zM531.1 149.9h1.3v1.3h-1.3zM531.3 224.6h1.3v1.3h-1.3zM531.5 220.9h1.3v1.3h-1.3zM531.7 207.3h1.3v1.3h-1.3zM531.9 233.4h1.3v1.3h-1.3zM532.2 160.7h1.3v1.3h-1.3zM532.4 177.9h1.3v1.3h-1.3zM532.6 233.8h1.3v1.3h-1.3zM532.8 222.8h1.3v1.3h-1.3zM533.0 250.5h1.3v1.3h-1.3zM533.2 230.1h1.3v1.3h-1.3zM533.4 252.2h1.3v1.3h-1.3zM533.6 191.5h1.3v1.3h-1.3zM533.8 148.0h1.3v1.3h-1.3zM534.0 126.0h1.3v1.3h-1.3zM534.3 174.9h1.3v1.3h-1.3zM534.5 222.6h1.3v1.3h-1.3zM534.7 250.9h1.3v1.3h-1.3zM534.9 241.8h1.3v1.3h-1.3zM535.1 244.3h1.3v1.3h-1.3zM535.3 193.3h1.3v1.3h-1.3zM535.5 189.9h1.3v1.3h-1.3zM535.7 211.1h1.3v1.3h-1.3zM535.9 155.6h1.3v1.3h-1.3zM536.1 226.1h1.3v1.3h-1.3zM536.4 195.0h1.3v1.3h-1.3zM536.6 235.9h1.3v1.3h-1.3zM536.8 226.5h1.3v1.3h-1.3zM537.0 206.2h1.3v1.3h-1.3zM537.2 196.8h1.3v1.3h-1.3zM537.4 205.4h1.3v1.3h-1.3zM537.6 152.2h1.3v1.3h-1.3zM537.8 228.1h1.3v1.3h-1.3zM538.0 237.0h1.3v1.3h-1.3zM538.3 225.4h1.3v1.3h-1.3zM538.5 245.9h1.3v1.3h-1.3zM538.7 244.4h1.3v1.3h-1.3zM538.9 237.5h1.3v1.3h-1.3zM539.1 240.5h1.3v1.3h-1.3zM539.3 161.2h1.3v1.3h-1.3zM539.5 211.2h1.3v1.3h-1.3zM539.7 159.9h1.3v1.3h-1.3zM539.9 246.9h1.3v1.3h-1.3zM540.1 176.5h1.3v1.3h-1.3zM540.4 177.7h1.3v1.3h-1.3zM540.6 196.9h1.3v1.3h-1.3zM540.8 242.5h1.3v1.3h-1.3zM541.0 230.5h1.3v1.3h-1.3zM541.2 241.9h1.3v1.3h-1.3zM541.4 239.8h1.3v1.3h-1.3zM541.6 205.7h1.3v1.3h-1.3zM541.8 186.4h1.3v1.3h-1.3zM542.0 241.2h1.3v1.3h-1.3zM542.2 242.8h1.3v1.3h-1.3zM542.5 240.8h1.3v1.3h-1.3zM542.7 165.4h1.3v1.3h-1.3zM542.9 222.0h1.3v1.3h-1.3zM543.1 256.0h1.3v1.3h-1.3zM543.3 243.3h1.3v1.3h-1.3zM543.5 235.7h1.3v1.3h-1.3zM543.7 241.3h1.3v1.3h-1.3zM543.9 225.3h1.3v1.3h-1.3zM544.1 205.2h1.3v1.3h-1.3zM544.3 241.0h1.3v1.3h-1.3zM544.6 242.8h1.3v1.3h-1.3zM544.8 218.7h1.3v1.3h-1.3zM545.0 247.9h1.3v1.3h-1.3zM545.2 213.1h1.3v1.3h-1.3zM545.4 229.9h1.3v1.3h-1.3zM545.6 211.3h1.3v1.3h-1.3zM545.8 231.0h1.3v1.3h-1.3zM546.0 222.3h1.3v1.3h-1.3zM546.2 248.9h1.3v1.3h-1.3zM546.4 238.9h1.3v1.3h-1.3zM546.7 115.3h1.3v1.3h-1.3zM546.9 209.0h1.3v1.3h-1.3zM547.1 252.3h1.3v1.3h-1.3zM547.3 241.6h1.3v1.3h-1.3zM547.5 195.6h1.3v1.3h-1.3zM547.7 236.6h1.3v1.3h-1.3zM547.9 207.2h1.3v1.3h-1.3zM548.1 227.4h1.3v1.3h-1.3zM548.3 163.4h1.3v1.3h-1.3zM548.6 164.6h1.3v1.3h-1.3zM548.8 152.0h1.3v1.3h-1.3zM549.0 193.3h1.3v1.3h-1.3zM549.2 250.3h1.3v1.3h-1.3zM549.4 226.1h1.3v1.3h-1.3zM549.6 143.5h1.3v1.3h-1.3zM549.8 226.9h1.3v1.3h-1.3zM550.0 233.8h1.3v1.3h-1.3zM550.2 192.3h1.3v1.3h-1.3zM550.4 243.9h1.3v1.3h-1.3zM550.7 216.3h1.3v1.3h-1.3zM550.9 241.6h1.3v1.3h-1.3zM551.1 244.2h1.3v1.3h-1.3zM551.3 252.7h1.3v1.3h-1.3zM551.5 235.6h1.3v1.3h-1.3zM551.7 252.4h1.3v1.3h-1.3zM551.9 230.0h1.3v1.3h-1.3zM552.1 197.9h1.3v1.3h-1.3zM552.3 215.7h1.3v1.3h-1.3zM552.5 218.7h1.3v1.3h-1.3zM552.8 220.6h1.3v1.3h-1.3zM553.0 180.7h1.3v1.3h-1.3zM553.2 227.7h1.3v1.3h-1.3zM553.4 241.4h1.3v1.3h-1.3zM553.6 213.7h1.3v1.3h-1.3zM553.8 239.2h1.3v1.3h-1.3zM554.0 190.9h1.3v1.3h-1.3zM554.2 237.5h1.3v1.3h-1.3zM554.4 220.8h1.3v1.3h-1.3zM554.6 233.9h1.3v1.3h-1.3zM554.9 231.1h1.3v1.3h-1.3zM555.1 217.2h1.3v1.3h-1.3zM555.3 244.9h1.3v1.3h-1.3zM555.5 225.3h1.3v1.3h-1.3zM555.7 245.1h1.3v1.3h-1.3zM555.9 244.5h1.3v1.3h-1.3zM556.1 237.1h1.3v1.3h-1.3zM556.3 196.6h1.3v1.3h-1.3zM556.5 175.7h1.3v1.3h-1.3zM556.7 236.0h1.3v1.3h-1.3zM557.0 136.1h1.3v1.3h-1.3zM557.2 181.4h1.3v1.3h-1.3zM557.4 239.2h1.3v1.3h-1.3zM557.6 230.4h1.3v1.3h-1.3zM557.8 251.7h1.3v1.3h-1.3zM558.0 231.9h1.3v1.3h-1.3zM558.2 229.8h1.3v1.3h-1.3zM558.4 216.7h1.3v1.3h-1.3zM558.6 213.3h1.3v1.3h-1.3zM558.9 223.8h1.3v1.3h-1.3zM559.1 216.3h1.3v1.3h-1.3zM559.3 237.4h1.3v1.3h-1.3zM559.5 193.3h1.3v1.3h-1.3zM559.7 213.5h1.3v1.3h-1.3zM559.9 235.9h1.3v1.3h-1.3zM560.1 172.1h1.3v1.3h-1.3zM560.3 252.2h1.3v1.3h-1.3zM560.5 189.9h1.3v1.3h-1.3zM560.7 218.6h1.3v1.3h-1.3zM561.0 251.9h1.3v1.3h-1.3zM561.2 240.1h1.3v1.3h-1.3zM561.4 218.2h1.3v1.3h-1.3zM561.6 239.8h1.3v1.3h-1.3zM561.8 191.3h1.3v1.3h-1.3zM562.0 248.3h1.3v1.3h-1.3zM562.2 218.1h1.3v1.3h-1.3zM562.4 223.4h1.3v1.3h-1.3zM562.6 246.5h1.3v1.3h-1.3zM562.8 249.6h1.3v1.3h-1.3zM563.1 246.8h1.3v1.3h-1.3zM563.3 250.7h1.3v1.3h-1.3zM563.5 231.8h1.3v1.3h-1.3zM563.7 228.3h1.3v1.3h-1.3zM563.9 241.0h1.3v1.3h-1.3zM564.1 209.1h1.3v1.3h-1.3zM564.3 238.4h1.3v1.3h-1.3zM564.5 247.9h1.3v1.3h-1.3zM564.7 231.9h1.3v1.3h-1.3zM564.9 228.4h1.3v1.3h-1.3zM565.2 251.6h1.3v1.3h-1.3zM565.4 229.8h1.3v1.3h-1.3zM565.6 217.6h1.3v1.3h-1.3zM565.8 221.8h1.3v1.3h-1.3zM566.0 218.2h1.3v1.3h-1.3zM566.2 192.9h1.3v1.3h-1.3zM566.4 241.5h1.3v1.3h-1.3zM566.6 229.9h1.3v1.3h-1.3zM566.8 222.1h1.3v1.3h-1.3zM567.0 252.6h1.3v1.3h-1.3zM567.3 221.7h1.3v1.3h-1.3zM567.5 203.1h1.3v1.3h-1.3zM567.7 237.4h1.3v1.3h-1.3zM567.9 232.8h1.3v1.3h-1.3zM568.1 206.8h1.3v1.3h-1.3zM568.3 229.2h1.3v1.3h-1.3zM568.5 211.8h1.3v1.3h-1.3zM568.7 212.4h1.3v1.3h-1.3zM568.9 251.2h1.3v1.3h-1.3zM569.2 241.6h1.3v1.3h-1.3zM569.4 163.0h1.3v1.3h-1.3zM569.6 188.3h1.3v1.3h-1.3zM569.8 167.6h1.3v1.3h-1.3zM570.0 215.3h1.3v1.3h-1.3zM570.2 230.2h1.3v1.3h-1.3zM570.4 245.3h1.3v1.3h-1.3zM570.6 247.7h1.3v1.3h-1.3zM570.8 254.3h1.3v1.3h-1.3zM571.0 234.4h1.3v1.3h-1.3zM571.3 208.7h1.3v1.3h-1.3zM571.5 230.4h1.3v1.3h-1.3zM571.7 235.7h1.3v1.3h-1.3zM571.9 249.5h1.3v1.3h-1.3zM572.1 243.3h1.3v1.3h-1.3zM572.3 229.8h1.3v1.3h-1.3zM572.5 230.5h1.3v1.3h-1.3zM572.7 162.8h1.3v1.3h-1.3zM572.9 239.3h1.3v1.3h-1.3zM573.1 231.5h1.3v1.3h-1.3zM573.4 239.4h1.3v1.3h-1.3zM573.6 241.9h1.3v1.3h-1.3zM573.8 248.2h1.3v1.3h-1.3zM574.0 176.7h1.3v1.3h-1.3zM574.2 232.5h1.3v1.3h-1.3zM574.4 212.6h1.3v1.3h-1.3zM574.6 234.5h1.3v1.3h-1.3zM574.8 245.8h1.3v1.3h-1.3zM575.0 224.8h1.3v1.3h-1.3zM575.2 250.5h1.3v1.3h-1.3zM575.5 184.3h1.3v1.3h-1.3zM575.7 219.1h1.3v1.3h-1.3zM575.9 206.1h1.3v1.3h-1.3zM576.1 251.6h1.3v1.3h-1.3zM576.3 209.5h1.3v1.3h-1.3zM576.5 222.3h1.3v1.3h-1.3zM576.7 229.5h1.3v1.3h-1.3zM576.9 224.7h1.3v1.3h-1.3zM577.1 231.0h1.3v1.3h-1.3zM577.3 181.6h1.3v1.3h-1.3zM577.6 216.7h1.3v1.3h-1.3zM577.8 204.4h1.3v1.3h-1.3zM578.0 249.5h1.3v1.3h-1.3zM578.2 236.4h1.3v1.3h-1.3zM578.4 122.8h1.3v1.3h-1.3zM578.6 222.7h1.3v1.3h-1.3zM578.8 237.3h1.3v1.3h-1.3zM579.0 226.2h1.3v1.3h-1.3zM579.2 127.7h1.3v1.3h-1.3zM579.5 214.7h1.3v1.3h-1.3zM579.7 245.4h1.3v1.3h-1.3zM579.9 254.6h1.3v1.3h-1.3zM580.1 221.1h1.3v1.3h-1.3zM580.3 210.3h1.3v1.3h-1.3zM580.5 239.6h1.3v1.3h-1.3zM580.7 199.6h1.3v1.3h-1.3zM580.9 248.9h1.3v1.3h-1.3zM581.1 191.3h1.3v1.3h-1.3zM581.3 221.1h1.3v1.3h-1.3zM581.6 237.7h1.3v1.3h-1.3zM581.8 251.7h1.3v1.3h-1.3zM582.0 200.4h1.3v1.3h-1.3zM582.2 242.2h1.3v1.3h-1.3zM582.4 246.6h1.3v1.3h-1.3zM582.6 237.9h1.3v1.3h-1.3zM582.8 218.9h1.3v1.3h-1.3zM583.0 201.7h1.3v1.3h-1.3zM583.2 212.4h1.3v1.3h-1.3zM583.4 176.8h1.3v1.3h-1.3zM583.7 209.4h1.3v1.3h-1.3zM583.9 185.7h1.3v1.3h-1.3zM584.1 230.7h1.3v1.3h-1.3zM584.3 209.9h1.3v1.3h-1.3zM584.5 236.5h1.3v1.3h-1.3zM584.7 237.6h1.3v1.3h-1.3zM584.9 243.4h1.3v1.3h-1.3zM585.1 161.6h1.3v1.3h-1.3zM585.3 242.2h1.3v1.3h-1.3zM585.5 201.4h1.3v1.3h-1.3zM585.8 197.7h1.3v1.3h-1.3zM586.0 224.5h1.3v1.3h-1.3zM586.2 240.1h1.3v1.3h-1.3zM586.4 232.8h1.3v1.3h-1.3zM586.6 248.9h1.3v1.3h-1.3zM586.8 211.3h1.3v1.3h-1.3zM587.0 226.4h1.3v1.3h-1.3zM587.2 227.5h1.3v1.3h-1.3zM587.4 232.1h1.3v1.3h-1.3zM587.6 228.9h1.3v1.3h-1.3zM587.9 139.5h1.3v1.3h-1.3zM588.1 230.2h1.3v1.3h-1.3zM588.3 245.0h1.3v1.3h-1.3zM588.5 213.3h1.3v1.3h-1.3zM588.7 183.9h1.3v1.3h-1.3zM588.9 219.3h1.3v1.3h-1.3zM589.1 250.5h1.3v1.3h-1.3zM589.3 255.6h1.3v1.3h-1.3zM589.5 242.4h1.3v1.3h-1.3zM589.8 202.1h1.3v1.3h-1.3zM590.0 224.1h1.3v1.3h-1.3zM590.2 251.1h1.3v1.3h-1.3zM590.4 245.0h1.3v1.3h-1.3zM590.6 210.2h1.3v1.3h-1.3zM590.8 249.4h1.3v1.3h-1.3zM591.0 248.4h1.3v1.3h-1.3zM591.2 243.8h1.3v1.3h-1.3zM591.4 219.1h1.3v1.3h-1.3zM591.6 234.6h1.3v1.3h-1.3zM591.9 192.6h1.3v1.3h-1.3zM592.1 211.9h1.3v1.3h-1.3zM592.3 231.5h1.3v1.3h-1.3zM592.5 234.1h1.3v1.3h-1.3zM592.7 228.0h1.3v1.3h-1.3zM592.9 201.5h1.3v1.3h-1.3zM593.1 172.8h1.3v1.3h-1.3zM593.3 220.1h1.3v1.3h-1.3zM593.5 240.5h1.3v1.3h-1.3zM593.7 248.8h1.3v1.3h-1.3zM594.0 206.0h1.3v1.3h-1.3zM594.2 234.5h1.3v1.3h-1.3zM594.4 228.2h1.3v1.3h-1.3zM594.6 252.6h1.3v1.3h-1.3zM594.8 185.5h1.3v1.3h-1.3zM595.0 227.4h1.3v1.3h-1.3zM595.2 251.4h1.3v1.3h-1.3zM595.4 201.4h1.3v1.3h-1.3zM595.6 243.2h1.3v1.3h-1.3zM595.8 220.5h1.3v1.3h-1.3zM596.1 187.5h1.3v1.3h-1.3zM596.3 224.8h1.3v1.3h-1.3zM596.5 239.0h1.3v1.3h-1.3zM596.7 224.9h1.3v1.3h-1.3zM596.9 185.1h1.3v1.3h-1.3zM597.1 251.8h1.3v1.3h-1.3zM597.3 212.3h1.3v1.3h-1.3zM597.5 222.9h1.3v1.3h-1.3zM597.7 123.2h1.3v1.3h-1.3zM597.9 206.5h1.3v1.3h-1.3zM598.2 231.5h1.3v1.3h-1.3zM598.4 205.9h1.3v1.3h-1.3zM598.6 246.4h1.3v1.3h-1.3zM598.8 244.7h1.3v1.3h-1.3zM599.0 248.1h1.3v1.3h-1.3zM599.2 224.1h1.3v1.3h-1.3zM599.4 251.7h1.3v1.3h-1.3zM599.6 233.8h1.3v1.3h-1.3zM599.8 180.7h1.3v1.3h-1.3zM600.0 216.3h1.3v1.3h-1.3zM600.3 246.4h1.3v1.3h-1.3zM600.5 223.2h1.3v1.3h-1.3zM600.7 238.5h1.3v1.3h-1.3zM600.9 240.7h1.3v1.3h-1.3zM601.1 252.5h1.3v1.3h-1.3zM601.3 208.7h1.3v1.3h-1.3zM601.5 231.1h1.3v1.3h-1.3zM601.7 172.9h1.3v1.3h-1.3zM601.9 219.9h1.3v1.3h-1.3zM602.2 230.7h1.3v1.3h-1.3zM602.4 230.8h1.3v1.3h-1.3zM602.6 149.1h1.3v1.3h-1.3zM602.8 217.6h1.3v1.3h-1.3zM603.0 223.7h1.3v1.3h-1.3zM603.2 209.8h1.3v1.3h-1.3zM603.4 209.3h1.3v1.3h-1.3zM603.6 217.9h1.3v1.3h-1.3zM603.8 169.0h1.3v1.3h-1.3zM604.0 244.5h1.3v1.3h-1.3zM604.3 208.0h1.3v1.3h-1.3zM604.5 224.7h1.3v1.3h-1.3zM604.7 239.2h1.3v1.3h-1.3zM604.9 224.0h1.3v1.3h-1.3zM605.1 245.0h1.3v1.3h-1.3zM605.3 229.8h1.3v1.3h-1.3zM605.5 243.2h1.3v1.3h-1.3zM605.7 254.5h1.3v1.3h-1.3zM605.9 252.4h1.3v1.3h-1.3zM606.1 236.0h1.3v1.3h-1.3zM606.4 240.6h1.3v1.3h-1.3zM606.6 215.3h1.3v1.3h-1.3zM606.8 228.1h1.3v1.3h-1.3zM607.0 245.0h1.3v1.3h-1.3zM607.2 231.7h1.3v1.3h-1.3zM607.4 240.4h1.3v1.3h-1.3zM607.6 100.0h1.3v1.3h-1.3zM607.8 236.7h1.3v1.3h-1.3zM608.0 170.9h1.3v1.3h-1.3zM608.2 253.8h1.3v1.3h-1.3zM608.5 206.7h1.3v1.3h-1.3zM608.7 230.3h1.3v1.3h-1.3zM608.9 219.7h1.3v1.3h-1.3zM609.1 239.1h1.3v1.3h-1.3zM609.3 235.9h1.3v1.3h-1.3zM609.5 150.7h1.3v1.3h-1.3zM609.7 183.1h1.3v1.3h-1.3zM609.9 223.7h1.3v1.3h-1.3zM610.1 227.1h1.3v1.3h-1.3zM610.3 219.8h1.3v1.3h-1.3zM610.6 254.6h1.3v1.3h-1.3zM610.8 210.8h1.3v1.3h-1.3zM611.0 248.5h1.3v1.3h-1.3zM611.2 233.2h1.3v1.3h-1.3zM611.4 233.2h1.3v1.3h-1.3zM611.6 247.3h1.3v1.3h-1.3zM611.8 221.3h1.3v1.3h-1.3zM612.0 240.3h1.3v1.3h-1.3zM612.2 200.0h1.3v1.3h-1.3zM612.5 236.4h1.3v1.3h-1.3zM612.7 249.1h1.3v1.3h-1.3zM612.9 217.7h1.3v1.3h-1.3zM613.1 207.9h1.3v1.3h-1.3zM613.3 247.0h1.3v1.3h-1.3zM613.5 193.3h1.3v1.3h-1.3zM613.7 222.5h1.3v1.3h-1.3zM613.9 252.1h1.3v1.3h-1.3zM614.1 204.7h1.3v1.3h-1.3zM614.3 246.7h1.3v1.3h-1.3zM614.6 235.7h1.3v1.3h-1.3zM614.8 228.6h1.3v1.3h-1.3zM615.0 243.2h1.3v1.3h-1.3zM615.2 198.7h1.3v1.3h-1.3zM615.4 246.2h1.3v1.3h-1.3zM615.6 166.3h1.3v1.3h-1.3zM615.8 217.4h1.3v1.3h-1.3zM616.0 223.8h1.3v1.3h-1.3zM616.2 234.6h1.3v1.3h-1.3zM616.4 248.4h1.3v1.3h-1.3zM616.7 190.6h1.3v1.3h-1.3zM616.9 238.5h1.3v1.3h-1.3zM617.1 226.8h1.3v1.3h-1.3zM617.3 148.2h1.3v1.3h-1.3zM617.5 228.0h1.3v1.3h-1.3zM617.7 231.8h1.3v1.3h-1.3zM617.9 210.6h1.3v1.3h-1.3zM618.1 252.0h1.3v1.3h-1.3zM618.3 217.3h1.3v1.3h-1.3zM618.5 252.4h1.3v1.3h-1.3zM618.8 236.0h1.3v1.3h-1.3zM619.0 204.1h1.3v1.3h-1.3zM619.2 254.2h1.3v1.3h-1.3zM619.4 239.3h1.3v1.3h-1.3zM619.6 225.7h1.3v1.3h-1.3zM619.8 238.3h1.3v1.3h-1.3zM620.0 239.1h1.3v1.3h-1.3zM620.2 234.8h1.3v1.3h-1.3zM620.4 182.7h1.3v1.3h-1.3zM620.6 146.5h1.3v1.3h-1.3zM620.9 224.4h1.3v1.3h-1.3zM621.1 219.7h1.3v1.3h-1.3zM621.3 235.2h1.3v1.3h-1.3zM621.5 229.9h1.3v1.3h-1.3zM621.7 217.5h1.3v1.3h-1.3zM621.9 244.0h1.3v1.3h-1.3zM622.1 251.5h1.3v1.3h-1.3zM622.3 150.8h1.3v1.3h-1.3zM622.5 153.4h1.3v1.3h-1.3zM622.8 239.8h1.3v1.3h-1.3zM623.0 225.2h1.3v1.3h-1.3zM623.2 234.3h1.3v1.3h-1.3zM623.4 209.9h1.3v1.3h-1.3zM623.6 236.6h1.3v1.3h-1.3zM623.8 254.3h1.3v1.3h-1.3zM624.0 210.2h1.3v1.3h-1.3zM624.2 240.2h1.3v1.3h-1.3zM624.4 225.9h1.3v1.3h-1.3zM624.6 230.4h1.3v1.3h-1.3zM624.9 238.0h1.3v1.3h-1.3zM625.1 175.5h1.3v1.3h-1.3zM625.3 216.3h1.3v1.3h-1.3zM625.5 256.0h1.3v1.3h-1.3zM625.7 208.6h1.3v1.3h-1.3zM625.9 235.2h1.3v1.3h-1.3zM626.1 253.8h1.3v1.3h-1.3zM626.3 240.1h1.3v1.3h-1.3zM626.5 252.3h1.3v1.3h-1.3zM626.7 240.5h1.3v1.3h-1.3zM627.0 224.6h1.3v1.3h-1.3zM627.2 244.4h1.3v1.3h-1.3zM627.4 183.0h1.3v1.3h-1.3zM627.6 209.9h1.3v1.3h-1.3zM627.8 241.7h1.3v1.3h-1.3zM628.0 243.4h1.3v1.3h-1.3zM628.2 245.7h1.3v1.3h-1.3zM628.4 192.4h1.3v1.3h-1.3zM628.6 211.3h1.3v1.3h-1.3zM628.8 246.4h1.3v1.3h-1.3zM629.1 242.5h1.3v1.3h-1.3zM629.3 248.3h1.3v1.3h-1.3zM629.5 196.3h1.3v1.3h-1.3zM629.7 211.8h1.3v1.3h-1.3zM629.9 221.6h1.3v1.3h-1.3zM630.1 166.6h1.3v1.3h-1.3zM630.3 172.6h1.3v1.3h-1.3zM630.5 233.9h1.3v1.3h-1.3zM630.7 207.6h1.3v1.3h-1.3zM630.9 121.9h1.3v1.3h-1.3zM631.2 167.3h1.3v1.3h-1.3zM631.4 201.8h1.3v1.3h-1.3zM631.6 225.5h1.3v1.3h-1.3zM631.8 196.0h1.3v1.3h-1.3zM632.0 234.9h1.3v1.3h-1.3zM632.2 223.7h1.3v1.3h-1.3zM632.4 191.3h1.3v1.3h-1.3zM632.6 214.1h1.3v1.3h-1.3zM632.8 176.7h1.3v1.3h-1.3zM633.1 236.6h1.3v1.3h-1.3zM633.3 224.6h1.3v1.3h-1.3zM633.5 216.8h1.3v1.3h-1.3zM633.7 238.0h1.3v1.3h-1.3zM633.9 245.3h1.3v1.3h-1.3zM634.1 238.8h1.3v1.3h-1.3zM634.3 230.1h1.3v1.3h-1.3zM634.5 251.0h1.3v1.3h-1.3zM634.7 215.6h1.3v1.3h-1.3zM634.9 235.8h1.3v1.3h-1.3zM635.2 231.2h1.3v1.3h-1.3zM635.4 227.5h1.3v1.3h-1.3zM635.6 232.2h1.3v1.3h-1.3zM635.8 175.4h1.3v1.3h-1.3zM636.0 240.8h1.3v1.3h-1.3zM636.2 242.1h1.3v1.3h-1.3zM636.4 242.7h1.3v1.3h-1.3zM636.6 225.0h1.3v1.3h-1.3zM636.8 226.1h1.3v1.3h-1.3zM637.0 192.0h1.3v1.3h-1.3zM637.3 233.4h1.3v1.3h-1.3zM637.5 245.4h1.3v1.3h-1.3zM637.7 196.1h1.3v1.3h-1.3zM637.9 249.5h1.3v1.3h-1.3zM638.1 200.4h1.3v1.3h-1.3zM638.3 218.8h1.3v1.3h-1.3zM638.5 254.0h1.3v1.3h-1.3zM638.7 204.3h1.3v1.3h-1.3zM638.9 172.9h1.3v1.3h-1.3zM639.1 222.0h1.3v1.3h-1.3zM639.4 240.4h1.3v1.3h-1.3zM639.6 216.1h1.3v1.3h-1.3zM639.8 239.8h1.3v1.3h-1.3zM640.0 245.3h1.3v1.3h-1.3zM640.2 244.9h1.3v1.3h-1.3zM640.4 231.1h1.3v1.3h-1.3zM640.6 227.6h1.3v1.3h-1.3zM640.8 225.3h1.3v1.3h-1.3zM641.0 251.3h1.3v1.3h-1.3zM641.2 245.7h1.3v1.3h-1.3zM641.5 215.4h1.3v1.3h-1.3zM641.7 225.0h1.3v1.3h-1.3zM641.9 222.5h1.3v1.3h-1.3zM642.1 246.5h1.3v1.3h-1.3zM642.3 202.2h1.3v1.3h-1.3zM642.5 253.0h1.3v1.3h-1.3zM642.7 249.3h1.3v1.3h-1.3zM642.9 234.0h1.3v1.3h-1.3zM643.1 250.7h1.3v1.3h-1.3zM643.4 191.1h1.3v1.3h-1.3zM643.6 205.0h1.3v1.3h-1.3zM643.8 218.8h1.3v1.3h-1.3zM644.0 249.7h1.3v1.3h-1.3zM644.2 247.2h1.3v1.3h-1.3zM644.4 196.8h1.3v1.3h-1.3zM644.6 234.6h1.3v1.3h-1.3zM644.8 254.6h1.3v1.3h-1.3zM645.0 239.1h1.3v1.3h-1.3zM645.2 247.8h1.3v1.3h-1.3zM645.5 218.5h1.3v1.3h-1.3zM645.7 167.5h1.3v1.3h-1.3zM645.9 211.4h1.3v1.3h-1.3zM646.1 234.1h1.3v1.3h-1.3zM646.3 242.7h1.3v1.3h-1.3zM646.5 184.0h1.3v1.3h-1.3zM646.7 247.1h1.3v1.3h-1.3zM646.9 227.0h1.3v1.3h-1.3zM647.1 243.1h1.3v1.3h-1.3zM647.3 220.0h1.3v1.3h-1.3zM647.6 215.6h1.3v1.3h-1.3zM647.8 200.4h1.3v1.3h-1.3zM648.0 225.4h1.3v1.3h-1.3zM648.2 235.6h1.3v1.3h-1.3zM648.4 244.4h1.3v1.3h-1.3zM648.6 249.8h1.3v1.3h-1.3zM648.8 233.9h1.3v1.3h-1.3zM649.0 234.5h1.3v1.3h-1.3zM649.2 238.4h1.3v1.3h-1.3zM649.4 154.1h1.3v1.3h-1.3zM649.7 237.1h1.3v1.3h-1.3zM649.9 236.4h1.3v1.3h-1.3zM650.1 171.8h1.3v1.3h-1.3zM650.3 246.1h1.3v1.3h-1.3zM650.5 180.3h1.3v1.3h-1.3zM650.7 226.1h1.3v1.3h-1.3zM650.9 205.3h1.3v1.3h-1.3zM651.1 220.9h1.3v1.3h-1.3zM651.3 231.3h1.3v1.3h-1.3zM651.5 206.2h1.3v1.3h-1.3zM651.8 202.0h1.3v1.3h-1.3zM652.0 243.2h1.3v1.3h-1.3zM652.2 250.4h1.3v1.3h-1.3zM652.4 220.9h1.3v1.3h-1.3zM652.6 253.1h1.3v1.3h-1.3zM652.8 246.7h1.3v1.3h-1.3zM653.0 147.2h1.3v1.3h-1.3zM653.2 237.1h1.3v1.3h-1.3zM653.4 178.8h1.3v1.3h-1.3zM653.7 134.5h1.3v1.3h-1.3zM653.9 251.4h1.3v1.3h-1.3zM654.1 163.3h1.3v1.3h-1.3zM654.3 214.2h1.3v1.3h-1.3zM654.5 232.8h1.3v1.3h-1.3zM654.7 211.7h1.3v1.3h-1.3zM654.9 218.5h1.3v1.3h-1.3zM655.1 211.1h1.3v1.3h-1.3zM655.3 187.5h1.3v1.3h-1.3zM655.5 243.6h1.3v1.3h-1.3zM655.8 211.1h1.3v1.3h-1.3zM656.0 234.2h1.3v1.3h-1.3zM656.2 213.7h1.3v1.3h-1.3zM656.4 176.6h1.3v1.3h-1.3zM656.6 239.9h1.3v1.3h-1.3zM656.8 218.6h1.3v1.3h-1.3zM657.0 199.1h1.3v1.3h-1.3zM657.2 236.8h1.3v1.3h-1.3zM657.4 219.5h1.3v1.3h-1.3zM657.6 227.9h1.3v1.3h-1.3zM657.9 210.7h1.3v1.3h-1.3zM658.1 218.1h1.3v1.3h-1.3zM658.3 173.9h1.3v1.3h-1.3zM658.5 206.1h1.3v1.3h-1.3zM658.7 182.5h1.3v1.3h-1.3zM658.9 239.9h1.3v1.3h-1.3zM659.1 242.9h1.3v1.3h-1.3zM659.3 148.4h1.3v1.3h-1.3zM659.5 245.3h1.3v1.3h-1.3zM659.7 175.6h1.3v1.3h-1.3zM660.0 233.5h1.3v1.3h-1.3zM660.2 228.9h1.3v1.3h-1.3zM660.4 246.1h1.3v1.3h-1.3zM660.6 193.1h1.3v1.3h-1.3zM660.8 236.7h1.3v1.3h-1.3zM661.0 135.7h1.3v1.3h-1.3zM661.2 238.3h1.3v1.3h-1.3zM661.4 247.2h1.3v1.3h-1.3zM661.6 231.2h1.3v1.3h-1.3zM661.8 215.3h1.3v1.3h-1.3zM662.1 237.6h1.3v1.3h-1.3zM662.3 201.8h1.3v1.3h-1.3zM662.5 214.0h1.3v1.3h-1.3zM662.7 212.6h1.3v1.3h-1.3zM662.9 171.8h1.3v1.3h-1.3zM663.1 253.5h1.3v1.3h-1.3zM663.3 211.3h1.3v1.3h-1.3zM663.5 240.4h1.3v1.3h-1.3zM663.7 243.0h1.3v1.3h-1.3zM664.0 185.3h1.3v1.3h-1.3zM664.2 216.6h1.3v1.3h-1.3zM664.4 228.7h1.3v1.3h-1.3zM664.6 168.6h1.3v1.3h-1.3zM664.8 249.0h1.3v1.3h-1.3zM665.0 186.9h1.3v1.3h-1.3zM665.2 244.0h1.3v1.3h-1.3zM665.4 200.5h1.3v1.3h-1.3zM665.6 187.3h1.3v1.3h-1.3zM665.8 197.6h1.3v1.3h-1.3zM666.1 188.7h1.3v1.3h-1.3zM666.3 204.2h1.3v1.3h-1.3zM666.5 216.0h1.3v1.3h-1.3zM666.7 157.2h1.3v1.3h-1.3zM666.9 231.1h1.3v1.3h-1.3zM667.1 242.7h1.3v1.3h-1.3zM667.3 226.0h1.3v1.3h-1.3zM667.5 191.9h1.3v1.3h-1.3zM667.7 249.4h1.3v1.3h-1.3zM667.9 249.0h1.3v1.3h-1.3zM668.2 253.6h1.3v1.3h-1.3zM668.4 236.6h1.3v1.3h-1.3zM668.6 226.3h1.3v1.3h-1.3zM668.8 173.6h1.3v1.3h-1.3zM669.0 236.6h1.3v1.3h-1.3zM669.2 222.3h1.3v1.3h-1.3zM669.4 105.6h1.3v1.3h-1.3zM669.6 170.0h1.3v1.3h-1.3zM669.8 216.4h1.3v1.3h-1.3zM670.0 233.7h1.3v1.3h-1.3zM670.3 237.8h1.3v1.3h-1.3zM670.5 208.1h1.3v1.3h-1.3zM670.7 245.6h1.3v1.3h-1.3zM670.9 232.2h1.3v1.3h-1.3zM671.1 236.9h1.3v1.3h-1.3zM671.3 231.1h1.3v1.3h-1.3zM671.5 239.9h1.3v1.3h-1.3zM671.7 243.8h1.3v1.3h-1.3zM671.9 242.2h1.3v1.3h-1.3zM672.1 199.8h1.3v1.3h-1.3zM672.4 235.3h1.3v1.3h-1.3zM672.6 238.5h1.3v1.3h-1.3zM672.8 200.6h1.3v1.3h-1.3zM673.0 232.5h1.3v1.3h-1.3zM673.2 247.7h1.3v1.3h-1.3zM673.4 234.8h1.3v1.3h-1.3zM673.6 209.2h1.3v1.3h-1.3zM673.8 230.9h1.3v1.3h-1.3zM674.0 255.0h1.3v1.3h-1.3zM674.3 255.1h1.3v1.3h-1.3zM674.5 246.6h1.3v1.3h-1.3zM674.7 255.1h1.3v1.3h-1.3zM674.9 224.4h1.3v1.3h-1.3zM675.1 250.9h1.3v1.3h-1.3zM675.3 236.7h1.3v1.3h-1.3zM675.5 225.1h1.3v1.3h-1.3zM675.7 244.2h1.3v1.3h-1.3zM675.9 226.7h1.3v1.3h-1.3zM676.1 222.6h1.3v1.3h-1.3zM676.4 251.4h1.3v1.3h-1.3zM676.6 198.2h1.3v1.3h-1.3zM676.8 212.8h1.3v1.3h-1.3zM677.0 214.6h1.3v1.3h-1.3zM677.2 233.4h1.3v1.3h-1.3zM677.4 256.1h1.3v1.3h-1.3zM677.6 231.5h1.3v1.3h-1.3zM677.8 240.7h1.3v1.3h-1.3zM678.0 222.4h1.3v1.3h-1.3zM678.2 223.5h1.3v1.3h-1.3zM678.5 172.9h1.3v1.3h-1.3zM678.7 200.7h1.3v1.3h-1.3zM678.9 251.0h1.3v1.3h-1.3zM679.1 235.3h1.3v1.3h-1.3zM679.3 241.2h1.3v1.3h-1.3zM679.5 221.0h1.3v1.3h-1.3zM679.7 254.2h1.3v1.3h-1.3zM679.9 116.2h1.3v1.3h-1.3zM680.1 224.0h1.3v1.3h-1.3zM680.3 240.7h1.3v1.3h-1.3zM680.6 242.2h1.3v1.3h-1.3zM680.8 183.8h1.3v1.3h-1.3zM681.0 226.1h1.3v1.3h-1.3zM681.2 238.5h1.3v1.3h-1.3zM681.4 235.3h1.3v1.3h-1.3zM681.6 219.6h1.3v1.3h-1.3zM681.8 193.3h1.3v1.3h-1.3zM682.0 169.2h1.3v1.3h-1.3zM682.2 177.2h1.3v1.3h-1.3zM682.4 243.6h1.3v1.3h-1.3zM682.7 231.7h1.3v1.3h-1.3zM682.9 218.2h1.3v1.3h-1.3zM683.1 242.7h1.3v1.3h-1.3zM683.3 219.5h1.3v1.3h-1.3zM683.5 237.3h1.3v1.3h-1.3zM683.7 181.8h1.3v1.3h-1.3zM683.9 236.2h1.3v1.3h-1.3zM684.1 223.5h1.3v1.3h-1.3zM684.3 212.5h1.3v1.3h-1.3zM684.6 236.2h1.3v1.3h-1.3zM684.8 218.4h1.3v1.3h-1.3zM685.0 246.8h1.3v1.3h-1.3zM685.2 239.3h1.3v1.3h-1.3zM685.4 164.6h1.3v1.3h-1.3zM685.6 196.1h1.3v1.3h-1.3zM685.8 248.1h1.3v1.3h-1.3zM686.0 240.9h1.3v1.3h-1.3zM686.2 199.4h1.3v1.3h-1.3zM686.4 248.9h1.3v1.3h-1.3zM686.7 251.9h1.3v1.3h-1.3zM686.9 195.5h1.3v1.3h-1.3zM687.1 236.4h1.3v1.3h-1.3zM687.3 247.0h1.3v1.3h-1.3zM687.5 174.9h1.3v1.3h-1.3zM687.7 221.2h1.3v1.3h-1.3zM687.9 165.5h1.3v1.3h-1.3zM688.1 223.1h1.3v1.3h-1.3zM688.3 207.5h1.3v1.3h-1.3zM688.5 235.0h1.3v1.3h-1.3zM688.8 211.2h1.3v1.3h-1.3zM689.0 227.2h1.3v1.3h-1.3zM689.2 225.4h1.3v1.3h-1.3zM689.4 196.1h1.3v1.3h-1.3zM689.6 242.5h1.3v1.3h-1.3zM689.8 214.1h1.3v1.3h-1.3zM690.0 253.7h1.3v1.3h-1.3zM690.2 237.9h1.3v1.3h-1.3zM690.4 194.7h1.3v1.3h-1.3zM690.6 247.2h1.3v1.3h-1.3zM690.9 180.3h1.3v1.3h-1.3zM691.1 200.8h1.3v1.3h-1.3zM691.3 186.3h1.3v1.3h-1.3zM691.5 203.8h1.3v1.3h-1.3zM691.7 243.8h1.3v1.3h-1.3zM691.9 213.9h1.3v1.3h-1.3zM692.1 243.9h1.3v1.3h-1.3zM692.3 230.1h1.3v1.3h-1.3zM692.5 253.1h1.3v1.3h-1.3zM692.7 229.8h1.3v1.3h-1.3zM693.0 165.9h1.3v1.3h-1.3zM693.2 234.3h1.3v1.3h-1.3zM693.4 196.1h1.3v1.3h-1.3zM693.6 247.2h1.3v1.3h-1.3zM693.8 246.2h1.3v1.3h-1.3zM694.0 201.2h1.3v1.3h-1.3zM694.2 192.9h1.3v1.3h-1.3zM694.4 250.9h1.3v1.3h-1.3zM694.6 210.5h1.3v1.3h-1.3zM694.9 187.0h1.3v1.3h-1.3zM695.1 232.2h1.3v1.3h-1.3zM695.3 178.0h1.3v1.3h-1.3zM695.5 241.5h1.3v1.3h-1.3zM695.7 209.2h1.3v1.3h-1.3zM695.9 246.3h1.3v1.3h-1.3zM696.1 250.8h1.3v1.3h-1.3zM696.3 235.4h1.3v1.3h-1.3zM696.5 246.2h1.3v1.3h-1.3zM696.7 232.8h1.3v1.3h-1.3zM697.0 212.1h1.3v1.3h-1.3zM697.2 224.7h1.3v1.3h-1.3zM697.4 243.6h1.3v1.3h-1.3zM697.6 230.6h1.3v1.3h-1.3zM697.8 243.6h1.3v1.3h-1.3zM698.0 255.1h1.3v1.3h-1.3zM698.2 218.2h1.3v1.3h-1.3zM698.4 224.6h1.3v1.3h-1.3zM698.6 225.4h1.3v1.3h-1.3zM698.8 244.3h1.3v1.3h-1.3zM699.1 246.8h1.3v1.3h-1.3zM699.3 168.0h1.3v1.3h-1.3zM699.5 200.0h1.3v1.3h-1.3zM699.7 190.7h1.3v1.3h-1.3zM699.9 225.1h1.3v1.3h-1.3zM700.1 176.7h1.3v1.3h-1.3zM700.3 235.9h1.3v1.3h-1.3zM700.5 245.2h1.3v1.3h-1.3zM700.7 249.9h1.3v1.3h-1.3zM700.9 248.8h1.3v1.3h-1.3zM701.2 240.6h1.3v1.3h-1.3zM701.4 240.3h1.3v1.3h-1.3zM701.6 253.1h1.3v1.3h-1.3zM701.8 214.9h1.3v1.3h-1.3zM702.0 226.0h1.3v1.3h-1.3zM702.2 249.9h1.3v1.3h-1.3zM702.4 201.7h1.3v1.3h-1.3zM702.6 229.9h1.3v1.3h-1.3zM702.8 169.4h1.3v1.3h-1.3zM703.0 223.8h1.3v1.3h-1.3zM703.3 234.1h1.3v1.3h-1.3zM703.5 250.4h1.3v1.3h-1.3zM703.7 247.2h1.3v1.3h-1.3zM703.9 143.3h1.3v1.3h-1.3zM704.1 127.4h1.3v1.3h-1.3zM704.3 236.8h1.3v1.3h-1.3zM704.5 237.3h1.3v1.3h-1.3zM704.7 225.0h1.3v1.3h-1.3zM704.9 209.3h1.3v1.3h-1.3zM705.1 214.2h1.3v1.3h-1.3zM705.4 226.1h1.3v1.3h-1.3zM705.6 195.4h1.3v1.3h-1.3zM705.8 249.2h1.3v1.3h-1.3zM706.0 182.6h1.3v1.3h-1.3zM706.2 165.3h1.3v1.3h-1.3zM706.4 236.2h1.3v1.3h-1.3zM706.6 225.6h1.3v1.3h-1.3zM706.8 104.6h1.3v1.3h-1.3zM707.0 179.0h1.3v1.3h-1.3zM707.3 238.8h1.3v1.3h-1.3zM707.5 179.4h1.3v1.3h-1.3zM707.7 240.2h1.3v1.3h-1.3zM707.9 228.8h1.3v1.3h-1.3zM708.1 252.9h1.3v1.3h-1.3zM708.3 220.7h1.3v1.3h-1.3zM708.5 227.5h1.3v1.3h-1.3zM708.7 249.6h1.3v1.3h-1.3zM708.9 219.0h1.3v1.3h-1.3zM709.1 212.6h1.3v1.3h-1.3zM709.4 242.4h1.3v1.3h-1.3zM709.6 167.6h1.3v1.3h-1.3zM709.8 222.9h1.3v1.3h-1.3zM710.0 248.0h1.3v1.3h-1.3zM710.2 209.9h1.3v1.3h-1.3zM710.4 254.7h1.3v1.3h-1.3zM710.6 247.9h1.3v1.3h-1.3zM710.8 199.7h1.3v1.3h-1.3zM711.0 236.8h1.3v1.3h-1.3zM711.2 245.6h1.3v1.3h-1.3zM711.5 227.7h1.3v1.3h-1.3zM711.7 239.6h1.3v1.3h-1.3zM711.9 212.7h1.3v1.3h-1.3zM712.1 255.3h1.3v1.3h-1.3zM712.3 238.5h1.3v1.3h-1.3zM712.5 245.2h1.3v1.3h-1.3zM712.7 176.9h1.3v1.3h-1.3zM712.9 248.6h1.3v1.3h-1.3zM713.1 205.7h1.3v1.3h-1.3zM713.3 182.0h1.3v1.3h-1.3zM713.6 206.6h1.3v1.3h-1.3zM713.8 251.5h1.3v1.3h-1.3zM714.0 223.7h1.3v1.3h-1.3zM714.2 137.9h1.3v1.3h-1.3zM714.4 244.8h1.3v1.3h-1.3zM714.6 254.8h1.3v1.3h-1.3zM714.8 247.5h1.3v1.3h-1.3zM715.0 244.5h1.3v1.3h-1.3zM715.2 199.9h1.3v1.3h-1.3zM715.4 212.6h1.3v1.3h-1.3zM715.7 240.2h1.3v1.3h-1.3zM715.9 241.1h1.3v1.3h-1.3zM716.1 222.4h1.3v1.3h-1.3zM716.3 253.6h1.3v1.3h-1.3zM716.5 192.7h1.3v1.3h-1.3zM716.7 246.7h1.3v1.3h-1.3zM716.9 192.7h1.3v1.3h-1.3zM717.1 200.8h1.3v1.3h-1.3zM717.3 238.5h1.3v1.3h-1.3zM717.6 224.8h1.3v1.3h-1.3zM717.8 232.6h1.3v1.3h-1.3zM718.0 201.4h1.3v1.3h-1.3zM718.2 246.7h1.3v1.3h-1.3zM718.4 205.2h1.3v1.3h-1.3zM718.6 235.2h1.3v1.3h-1.3zM718.8 222.6h1.3v1.3h-1.3zM719.0 201.4h1.3v1.3h-1.3zM719.2 204.5h1.3v1.3h-1.3zM719.4 215.1h1.3v1.3h-1.3zM719.7 191.8h1.3v1.3h-1.3zM719.9 238.7h1.3v1.3h-1.3zM720.1 230.8h1.3v1.3h-1.3zM720.3 213.0h1.3v1.3h-1.3zM720.5 218.7h1.3v1.3h-1.3zM720.7 250.3h1.3v1.3h-1.3zM720.9 224.2h1.3v1.3h-1.3zM721.1 168.2h1.3v1.3h-1.3zM721.3 140.2h1.3v1.3h-1.3zM721.5 214.0h1.3v1.3h-1.3zM721.8 226.8h1.3v1.3h-1.3zM722.0 254.6h1.3v1.3h-1.3zM722.2 215.7h1.3v1.3h-1.3zM722.4 243.6h1.3v1.3h-1.3zM722.6 125.7h1.3v1.3h-1.3zM722.8 253.2h1.3v1.3h-1.3zM723.0 207.8h1.3v1.3h-1.3zM723.2 158.9h1.3v1.3h-1.3zM723.4 160.9h1.3v1.3h-1.3zM723.6 252.2h1.3v1.3h-1.3zM723.9 210.6h1.3v1.3h-1.3zM724.1 244.4h1.3v1.3h-1.3zM724.3 251.2h1.3v1.3h-1.3zM724.5 252.2h1.3v1.3h-1.3zM724.7 216.3h1.3v1.3h-1.3zM724.9 250.2h1.3v1.3h-1.3zM725.1 227.7h1.3v1.3h-1.3zM725.3 240.0h1.3v1.3h-1.3zM725.5 217.2h1.3v1.3h-1.3zM725.7 221.1h1.3v1.3h-1.3zM726.0 226.0h1.3v1.3h-1.3zM726.2 213.9h1.3v1.3h-1.3zM726.4 236.7h1.3v1.3h-1.3zM726.6 187.8h1.3v1.3h-1.3zM726.8 237.6h1.3v1.3h-1.3zM727.0 213.6h1.3v1.3h-1.3zM727.2 246.6h1.3v1.3h-1.3zM727.4 240.3h1.3v1.3h-1.3zM727.6 253.0h1.3v1.3h-1.3zM727.9 196.2h1.3v1.3h-1.3zM728.1 227.1h1.3v1.3h-1.3zM728.3 199.9h1.3v1.3h-1.3zM728.5 179.1h1.3v1.3h-1.3zM728.7 241.9h1.3v1.3h-1.3zM728.9 230.5h1.3v1.3h-1.3zM729.1 228.4h1.3v1.3h-1.3zM729.3 190.3h1.3v1.3h-1.3zM729.5 222.2h1.3v1.3h-1.3zM729.7 240.8h1.3v1.3h-1.3zM730.0 245.6h1.3v1.3h-1.3zM730.2 200.7h1.3v1.3h-1.3zM730.4 187.3h1.3v1.3h-1.3zM730.6 228.0h1.3v1.3h-1.3zM730.8 249.6h1.3v1.3h-1.3zM731.0 132.8h1.3v1.3h-1.3zM731.2 156.1h1.3v1.3h-1.3zM731.4 244.3h1.3v1.3h-1.3zM731.6 240.6h1.3v1.3h-1.3zM731.8 159.8h1.3v1.3h-1.3zM732.1 214.0h1.3v1.3h-1.3zM732.3 212.2h1.3v1.3h-1.3zM732.5 246.9h1.3v1.3h-1.3zM732.7 213.3h1.3v1.3h-1.3zM732.9 221.3h1.3v1.3h-1.3zM733.1 238.2h1.3v1.3h-1.3zM733.3 251.2h1.3v1.3h-1.3zM733.5 215.3h1.3v1.3h-1.3zM733.7 245.2h1.3v1.3h-1.3zM733.9 223.2h1.3v1.3h-1.3zM734.2 203.8h1.3v1.3h-1.3zM734.4 193.6h1.3v1.3h-1.3zM734.6 244.6h1.3v1.3h-1.3zM734.8 232.5h1.3v1.3h-1.3zM735.0 194.2h1.3v1.3h-1.3zM735.2 230.2h1.3v1.3h-1.3zM735.4 239.0h1.3v1.3h-1.3zM735.6 183.9h1.3v1.3h-1.3zM735.8 210.6h1.3v1.3h-1.3zM736.0 218.7h1.3v1.3h-1.3zM736.3 197.9h1.3v1.3h-1.3zM736.5 206.8h1.3v1.3h-1.3zM736.7 177.5h1.3v1.3h-1.3zM736.9 249.1h1.3v1.3h-1.3zM737.1 225.1h1.3v1.3h-1.3zM737.3 201.8h1.3v1.3h-1.3zM737.5 227.8h1.3v1.3h-1.3zM737.7 176.4h1.3v1.3h-1.3zM737.9 242.7h1.3v1.3h-1.3zM738.2 231.9h1.3v1.3h-1.3zM738.4 255.2h1.3v1.3h-1.3zM738.6 208.8h1.3v1.3h-1.3zM738.8 212.6h1.3v1.3h-1.3zM739.0 234.2h1.3v1.3h-1.3zM739.2 218.1h1.3v1.3h-1.3zM739.4 240.5h1.3v1.3h-1.3zM739.6 237.4h1.3v1.3h-1.3zM739.8 222.4h1.3v1.3h-1.3zM740.0 243.3h1.3v1.3h-1.3zM740.3 215.6h1.3v1.3h-1.3zM740.5 250.7h1.3v1.3h-1.3zM740.7 115.7h1.3v1.3h-1.3zM740.9 198.3h1.3v1.3h-1.3zM741.1 246.8h1.3v1.3h-1.3zM741.3 216.4h1.3v1.3h-1.3zM741.5 246.9h1.3v1.3h-1.3zM741.7 191.5h1.3v1.3h-1.3zM741.9 230.9h1.3v1.3h-1.3zM742.1 231.5h1.3v1.3h-1.3zM742.4 183.5h1.3v1.3h-1.3zM742.6 252.7h1.3v1.3h-1.3zM742.8 231.6h1.3v1.3h-1.3zM743.0 236.0h1.3v1.3h-1.3zM743.2 240.2h1.3v1.3h-1.3zM743.4 224.1h1.3v1.3h-1.3zM743.6 157.8h1.3v1.3h-1.3zM743.8 218.8h1.3v1.3h-1.3zM744.0 247.7h1.3v1.3h-1.3zM744.2 225.5h1.3v1.3h-1.3zM744.5 244.7h1.3v1.3h-1.3zM744.7 241.8h1.3v1.3h-1.3zM744.9 201.7h1.3v1.3h-1.3zM745.1 207.5h1.3v1.3h-1.3zM627.5 88.5h1.3v1.3h-1.3zM723.0 88.5h1.3v1.3h-1.3zM588.0 88.5h1.3v1.3h-1.3z" class="dot"/>
<polyline points="445.1,245.4 450.1,244.4 455.2,243.4 459.6,239.4 463.2,239.4 467.2,235.3 471.3,233.3 476.3,237.4 480.3,229.3 485.0,235.9 488.4,233.3 493.4,230.3 496.9,226.9 501.5,235.3 505.5,231.3 510.0,226.3 514.0,228.7 518.0,225.3 522.1,226.7 526.7,220.6 530.7,223.2 534.7,217.6 538.8,224.7 543.2,219.2 547.4,217.2 551.5,219.8 555.5,222.6 559.9,213.8 564.0,223.2 568.0,223.2 572.6,226.3 576.7,223.2 580.7,223.2 585.1,219.8 589.2,223.7 594.2,221.6 597.9,221.2 602.1,216.6 606.2,224.3 610.4,219.5 614.5,218.1 618.7,225.3 622.8,224.9 627.0,220.8 631.1,211.2 635.3,217.0 639.5,230.9 643.6,228.4 647.8,217.0 651.9,215.4 656.1,219.1 660.2,216.0 664.4,221.2 668.6,208.3 672.7,223.7 676.9,222.2 681.0,218.1 685.2,225.3 689.3,221.6 693.5,220.1 697.6,226.4 702.2,215.4 706.4,220.8 710.5,221.6 714.7,223.3 719.3,211.4 723.4,222.8 727.6,225.3 731.7,222.4 735.9,222.2 740.0,222.8 744.8,220.8" class="avg" stroke-width="1.4"/>
<path d="M445.1 242.9l2.50 4.25h-5.00zM450.1 241.9l2.50 4.25h-5.00zM455.2 240.9l2.50 4.25h-5.00zM459.6 236.8l2.50 4.25h-5.00zM463.2 236.8l2.50 4.25h-5.00zM467.2 232.8l2.50 4.25h-5.00zM471.3 230.8l2.50 4.25h-5.00zM476.3 234.8l2.50 4.25h-5.00zM480.3 226.7l2.50 4.25h-5.00zM485.0 233.4l2.50 4.25h-5.00zM488.4 230.8l2.50 4.25h-5.00zM493.4 227.8l2.50 4.25h-5.00zM496.9 224.3l2.50 4.25h-5.00zM501.5 232.8l2.50 4.25h-5.00zM505.5 228.8l2.50 4.25h-5.00zM510.0 223.7l2.50 4.25h-5.00zM514.0 226.1l2.50 4.25h-5.00zM518.0 222.7l2.50 4.25h-5.00zM522.1 224.1l2.50 4.25h-5.00zM526.7 218.1l2.50 4.25h-5.00zM530.7 220.7l2.50 4.25h-5.00zM534.7 215.1l2.50 4.25h-5.00zM538.8 222.1l2.50 4.25h-5.00zM543.2 216.7l2.50 4.25h-5.00zM547.4 214.7l2.50 4.25h-5.00zM551.5 217.3l2.50 4.25h-5.00zM555.5 220.1l2.50 4.25h-5.00zM559.9 211.2l2.50 4.25h-5.00zM564.0 220.7l2.50 4.25h-5.00zM568.0 220.7l2.50 4.25h-5.00zM572.6 223.7l2.50 4.25h-5.00zM576.7 220.7l2.50 4.25h-5.00zM580.7 220.7l2.50 4.25h-5.00zM585.1 217.3l2.50 4.25h-5.00zM589.2 221.1l2.50 4.25h-5.00zM594.2 219.0l2.50 4.25h-5.00zM597.9 218.6l2.50 4.25h-5.00zM602.1 214.1l2.50 4.25h-5.00zM606.2 221.7l2.50 4.25h-5.00zM610.4 217.0l2.50 4.25h-5.00zM614.5 215.5l2.50 4.25h-5.00zM618.7 222.8l2.50 4.25h-5.00zM622.8 222.4l2.50 4.25h-5.00zM627.0 218.2l2.50 4.25h-5.00zM631.1 208.6l2.50 4.25h-5.00zM635.3 214.5l2.50 4.25h-5.00zM639.5 228.4l2.50 4.25h-5.00zM643.6 225.9l2.50 4.25h-5.00zM647.8 214.5l2.50 4.25h-5.00zM651.9 212.8l2.50 4.25h-5.00zM656.1 216.5l2.50 4.25h-5.00zM660.2 213.4l2.50 4.25h-5.00zM664.4 218.6l2.50 4.25h-5.00zM668.6 205.7l2.50 4.25h-5.00zM672.7 221.1l2.50 4.25h-5.00zM676.9 219.7l2.50 4.25h-5.00zM681.0 215.5l2.50 4.25h-5.00zM685.2 222.8l2.50 4.25h-5.00zM689.3 219.0l2.50 4.25h-5.00zM693.5 217.6l2.50 4.25h-5.00zM697.6 223.8l2.50 4.25h-5.00zM702.2 212.8l2.50 4.25h-5.00zM706.4 218.2l2.50 4.25h-5.00zM710.5 219.0l2.50 4.25h-5.00zM714.7 220.7l2.50 4.25h-5.00zM719.3 208.9l2.50 4.25h-5.00zM723.4 220.3l2.50 4.25h-5.00zM727.6 222.8l2.50 4.25h-5.00zM731.7 219.9l2.50 4.25h-5.00zM735.9 219.7l2.50 4.25h-5.00zM740.0 220.3l2.50 4.25h-5.00zM744.8 218.2l2.50 4.25h-5.00z" class="tri"/>
<text x="501.4" y="81.9" class="ov" text-anchor="middle">Speed: 2.5m/s</text>
<text x="501.4" y="94.9" class="ov" text-anchor="middle">Learning rate: 0.0003</text>
<text x="501.4" y="107.8" class="ov" text-anchor="middle">Epochs: 10</text>
<text x="501.4" y="120.8" class="ov" text-anchor="middle">Batch size: 64</text>
<text x="501.4" y="133.7" class="ov" text-anchor="middle">Time trained: 3 hrs</text>
<text x="22.1" y="305.8" class="ttl">Reward graph</text>
<path d="M361.40 303.10A3.45 3.45 0 1 1 359.62 299.45" fill="none" stroke="#333c47" stroke-width="1.25"/>
<path d="M361.90 298.20V301.30H358.80z" fill="#333c47"/>
<path d="M41.2 331.6H350.2" class="grid"/>
<path d="M41.2 373.5H350.2" class="grid"/>
<path d="M41.2 415.5H350.2" class="grid"/>
<path d="M41.2 457.4H350.2" class="grid"/>
<path d="M41.2 499.3H350.2M350.2 331.6V499.3" class="axis"/>
<text x="43.6" y="509.4" class="tl" text-anchor="middle">0</text>
<text x="94.1" y="509.4" class="tl" text-anchor="middle">250</text>
<text x="144.6" y="509.4" class="tl" text-anchor="middle">500</text>
<text x="195.1" y="509.4" class="tl" text-anchor="middle">750</text>
<text x="245.6" y="509.4" class="tl" text-anchor="middle">1000</text>
<text x="296.1" y="509.4" class="tl" text-anchor="middle">1250</text>
<text x="346.6" y="509.4" class="tl" text-anchor="middle">1500</text>
<path d="M43.6 499.3v3.8M94.1 499.3v3.8M144.6 499.3v3.8M195.1 499.3v3.8M245.6 499.3v3.8M296.1 499.3v3.8M346.6 499.3v3.8" class="axis"/>
<text x="358.5" y="501.5" class="tl">0</text>
<text x="358.5" y="459.6" class="tl">25</text>
<text x="358.5" y="417.7" class="tl">50</text>
<text x="358.5" y="375.7" class="tl">75</text>
<text x="358.5" y="333.8" class="tl">100</text>
<text transform="translate(34.9 415.5) rotate(-90)" class="tl" text-anchor="middle">Reward</text>
<text transform="translate(374 415.5) rotate(90)" class="tl" text-anchor="middle" textLength="115" lengthAdjust="spacing">Progress (percentage track completion)</text>
<text x="195.7" y="518.9" class="tl" text-anchor="middle">Episode</text>
<path d="M43.8 483.2h1.3v1.3h-1.3zM44.0 493.5h1.3v1.3h-1.3zM44.2 486.9h1.3v1.3h-1.3zM44.4 491.5h1.3v1.3h-1.3zM44.6 493.8h1.3v1.3h-1.3zM44.8 489.1h1.3v1.3h-1.3zM45.0 482.1h1.3v1.3h-1.3zM45.2 491.8h1.3v1.3h-1.3zM45.4 494.7h1.3v1.3h-1.3zM45.6 491.6h1.3v1.3h-1.3zM45.8 493.5h1.3v1.3h-1.3zM46.0 479.0h1.3v1.3h-1.3zM46.2 492.7h1.3v1.3h-1.3zM46.4 496.1h1.3v1.3h-1.3zM46.6 493.3h1.3v1.3h-1.3zM46.8 486.6h1.3v1.3h-1.3zM47.0 493.6h1.3v1.3h-1.3zM47.2 486.5h1.3v1.3h-1.3zM47.4 481.2h1.3v1.3h-1.3zM47.6 484.8h1.3v1.3h-1.3zM47.8 487.1h1.3v1.3h-1.3zM48.0 487.5h1.3v1.3h-1.3zM48.2 490.6h1.3v1.3h-1.3zM48.4 483.0h1.3v1.3h-1.3zM48.7 488.0h1.3v1.3h-1.3zM48.9 476.4h1.3v1.3h-1.3zM49.1 482.1h1.3v1.3h-1.3zM49.3 492.9h1.3v1.3h-1.3zM49.5 491.5h1.3v1.3h-1.3zM49.7 495.2h1.3v1.3h-1.3zM49.9 487.4h1.3v1.3h-1.3zM50.1 492.5h1.3v1.3h-1.3zM50.3 491.3h1.3v1.3h-1.3zM50.5 473.9h1.3v1.3h-1.3zM50.7 480.0h1.3v1.3h-1.3zM50.9 488.3h1.3v1.3h-1.3zM51.1 492.7h1.3v1.3h-1.3zM51.3 492.4h1.3v1.3h-1.3zM51.5 492.4h1.3v1.3h-1.3zM51.7 484.6h1.3v1.3h-1.3zM51.9 492.0h1.3v1.3h-1.3zM52.1 492.3h1.3v1.3h-1.3zM52.3 486.5h1.3v1.3h-1.3zM52.5 492.2h1.3v1.3h-1.3zM52.7 493.2h1.3v1.3h-1.3zM52.9 487.6h1.3v1.3h-1.3zM53.1 492.6h1.3v1.3h-1.3zM53.3 466.3h1.3v1.3h-1.3zM53.5 493.2h1.3v1.3h-1.3zM53.7 484.5h1.3v1.3h-1.3zM53.9 489.8h1.3v1.3h-1.3zM54.1 483.9h1.3v1.3h-1.3zM54.3 491.7h1.3v1.3h-1.3zM54.5 493.1h1.3v1.3h-1.3zM54.7 491.1h1.3v1.3h-1.3zM54.9 492.0h1.3v1.3h-1.3zM55.1 478.8h1.3v1.3h-1.3zM55.3 426.5h1.3v1.3h-1.3zM55.5 477.8h1.3v1.3h-1.3zM55.7 481.0h1.3v1.3h-1.3zM55.9 488.0h1.3v1.3h-1.3zM56.1 491.9h1.3v1.3h-1.3zM56.3 458.7h1.3v1.3h-1.3zM56.5 490.3h1.3v1.3h-1.3zM56.7 494.2h1.3v1.3h-1.3zM56.9 486.8h1.3v1.3h-1.3zM57.1 474.0h1.3v1.3h-1.3zM57.3 473.9h1.3v1.3h-1.3zM57.5 493.8h1.3v1.3h-1.3zM57.7 495.7h1.3v1.3h-1.3zM57.9 486.6h1.3v1.3h-1.3zM58.1 485.4h1.3v1.3h-1.3zM58.3 491.6h1.3v1.3h-1.3zM58.5 488.1h1.3v1.3h-1.3zM58.8 485.9h1.3v1.3h-1.3zM59.0 491.8h1.3v1.3h-1.3zM59.2 486.8h1.3v1.3h-1.3zM59.4 486.4h1.3v1.3h-1.3zM59.6 476.5h1.3v1.3h-1.3zM59.8 472.4h1.3v1.3h-1.3zM60.0 487.0h1.3v1.3h-1.3zM60.2 492.6h1.3v1.3h-1.3zM60.4 489.9h1.3v1.3h-1.3zM60.6 486.3h1.3v1.3h-1.3zM60.8 490.5h1.3v1.3h-1.3zM61.0 466.3h1.3v1.3h-1.3zM61.2 483.8h1.3v1.3h-1.3zM61.4 468.9h1.3v1.3h-1.3zM61.6 484.5h1.3v1.3h-1.3zM61.8 480.5h1.3v1.3h-1.3zM62.0 485.2h1.3v1.3h-1.3zM62.2 489.7h1.3v1.3h-1.3zM62.4 489.6h1.3v1.3h-1.3zM62.6 471.3h1.3v1.3h-1.3zM62.8 485.6h1.3v1.3h-1.3zM63.0 491.4h1.3v1.3h-1.3zM63.2 469.3h1.3v1.3h-1.3zM63.4 493.0h1.3v1.3h-1.3zM63.6 492.8h1.3v1.3h-1.3zM63.8 489.1h1.3v1.3h-1.3zM64.0 490.7h1.3v1.3h-1.3zM64.2 492.4h1.3v1.3h-1.3zM64.4 494.9h1.3v1.3h-1.3zM64.6 462.0h1.3v1.3h-1.3zM64.8 458.4h1.3v1.3h-1.3zM65.0 484.1h1.3v1.3h-1.3zM65.2 485.3h1.3v1.3h-1.3zM65.4 492.5h1.3v1.3h-1.3zM65.6 489.3h1.3v1.3h-1.3zM65.8 494.2h1.3v1.3h-1.3zM66.0 492.9h1.3v1.3h-1.3zM66.2 493.1h1.3v1.3h-1.3zM66.4 463.5h1.3v1.3h-1.3zM66.6 491.8h1.3v1.3h-1.3zM66.8 482.7h1.3v1.3h-1.3zM67.0 489.0h1.3v1.3h-1.3zM67.2 479.4h1.3v1.3h-1.3zM67.4 486.8h1.3v1.3h-1.3zM67.6 491.2h1.3v1.3h-1.3zM67.8 451.3h1.3v1.3h-1.3zM68.0 487.3h1.3v1.3h-1.3zM68.2 490.8h1.3v1.3h-1.3zM68.4 492.9h1.3v1.3h-1.3zM68.6 479.8h1.3v1.3h-1.3zM68.8 493.2h1.3v1.3h-1.3zM69.1 473.5h1.3v1.3h-1.3zM69.3 493.9h1.3v1.3h-1.3zM69.5 481.4h1.3v1.3h-1.3zM69.7 479.4h1.3v1.3h-1.3zM69.9 491.8h1.3v1.3h-1.3zM70.1 469.7h1.3v1.3h-1.3zM70.3 468.5h1.3v1.3h-1.3zM70.5 485.2h1.3v1.3h-1.3zM70.7 485.0h1.3v1.3h-1.3zM70.9 492.1h1.3v1.3h-1.3zM71.1 492.5h1.3v1.3h-1.3zM71.3 471.6h1.3v1.3h-1.3zM71.5 475.6h1.3v1.3h-1.3zM71.7 491.7h1.3v1.3h-1.3zM71.9 495.5h1.3v1.3h-1.3zM72.1 464.8h1.3v1.3h-1.3zM72.3 461.8h1.3v1.3h-1.3zM72.5 475.6h1.3v1.3h-1.3zM72.7 476.1h1.3v1.3h-1.3zM72.9 492.9h1.3v1.3h-1.3zM73.1 488.5h1.3v1.3h-1.3zM73.3 491.9h1.3v1.3h-1.3zM73.5 487.7h1.3v1.3h-1.3zM73.7 492.3h1.3v1.3h-1.3zM73.9 488.8h1.3v1.3h-1.3zM74.1 461.8h1.3v1.3h-1.3zM74.3 477.2h1.3v1.3h-1.3zM74.5 492.7h1.3v1.3h-1.3zM74.7 492.7h1.3v1.3h-1.3zM74.9 495.2h1.3v1.3h-1.3zM75.1 496.5h1.3v1.3h-1.3zM75.3 472.5h1.3v1.3h-1.3zM75.5 493.5h1.3v1.3h-1.3zM75.7 459.2h1.3v1.3h-1.3zM75.9 490.4h1.3v1.3h-1.3zM76.1 491.6h1.3v1.3h-1.3zM76.3 494.2h1.3v1.3h-1.3zM76.5 470.4h1.3v1.3h-1.3zM76.7 468.7h1.3v1.3h-1.3zM76.9 488.7h1.3v1.3h-1.3zM77.1 492.3h1.3v1.3h-1.3zM77.3 492.1h1.3v1.3h-1.3zM77.5 487.1h1.3v1.3h-1.3zM77.7 493.8h1.3v1.3h-1.3zM77.9 464.3h1.3v1.3h-1.3zM78.1 494.9h1.3v1.3h-1.3zM78.3 489.4h1.3v1.3h-1.3zM78.5 485.6h1.3v1.3h-1.3zM78.7 493.4h1.3v1.3h-1.3zM79.0 478.3h1.3v1.3h-1.3zM79.2 480.0h1.3v1.3h-1.3zM79.4 493.6h1.3v1.3h-1.3zM79.6 493.3h1.3v1.3h-1.3zM79.8 492.1h1.3v1.3h-1.3zM80.0 492.9h1.3v1.3h-1.3zM80.2 484.0h1.3v1.3h-1.3zM80.4 490.3h1.3v1.3h-1.3zM80.6 492.4h1.3v1.3h-1.3zM80.8 489.6h1.3v1.3h-1.3zM81.0 476.0h1.3v1.3h-1.3zM81.2 469.4h1.3v1.3h-1.3zM81.4 490.5h1.3v1.3h-1.3zM81.6 482.7h1.3v1.3h-1.3zM81.8 493.2h1.3v1.3h-1.3zM82.0 493.2h1.3v1.3h-1.3zM82.2 482.9h1.3v1.3h-1.3zM82.4 476.1h1.3v1.3h-1.3zM82.6 461.6h1.3v1.3h-1.3zM82.8 491.2h1.3v1.3h-1.3zM83.0 492.1h1.3v1.3h-1.3zM83.2 492.0h1.3v1.3h-1.3zM83.4 488.7h1.3v1.3h-1.3zM83.6 492.0h1.3v1.3h-1.3zM83.8 473.6h1.3v1.3h-1.3zM84.0 486.9h1.3v1.3h-1.3zM84.2 493.7h1.3v1.3h-1.3zM84.4 482.3h1.3v1.3h-1.3zM84.6 430.3h1.3v1.3h-1.3zM84.8 475.5h1.3v1.3h-1.3zM85.0 486.3h1.3v1.3h-1.3zM85.2 489.3h1.3v1.3h-1.3zM85.4 482.9h1.3v1.3h-1.3zM85.6 485.8h1.3v1.3h-1.3zM85.8 491.6h1.3v1.3h-1.3zM86.0 487.2h1.3v1.3h-1.3zM86.2 475.7h1.3v1.3h-1.3zM86.4 466.9h1.3v1.3h-1.3zM86.6 492.0h1.3v1.3h-1.3zM86.8 492.8h1.3v1.3h-1.3zM87.0 486.7h1.3v1.3h-1.3zM87.2 492.7h1.3v1.3h-1.3zM87.4 492.6h1.3v1.3h-1.3zM87.6 475.7h1.3v1.3h-1.3zM87.8 492.5h1.3v1.3h-1.3zM88.0 492.5h1.3v1.3h-1.3zM88.2 488.8h1.3v1.3h-1.3zM88.4 492.6h1.3v1.3h-1.3zM88.6 480.2h1.3v1.3h-1.3zM88.8 472.3h1.3v1.3h-1.3zM89.1 492.2h1.3v1.3h-1.3zM89.3 476.1h1.3v1.3h-1.3zM89.5 489.5h1.3v1.3h-1.3zM89.7 467.9h1.3v1.3h-1.3zM89.9 493.1h1.3v1.3h-1.3zM90.1 482.7h1.3v1.3h-1.3zM90.3 494.9h1.3v1.3h-1.3zM90.5 492.0h1.3v1.3h-1.3zM90.7 492.5h1.3v1.3h-1.3zM90.9 472.0h1.3v1.3h-1.3zM91.1 480.5h1.3v1.3h-1.3zM91.3 482.0h1.3v1.3h-1.3zM91.5 494.5h1.3v1.3h-1.3zM91.7 473.5h1.3v1.3h-1.3zM91.9 485.2h1.3v1.3h-1.3zM92.1 492.8h1.3v1.3h-1.3zM92.3 492.6h1.3v1.3h-1.3zM92.5 485.6h1.3v1.3h-1.3zM92.7 492.8h1.3v1.3h-1.3zM92.9 480.6h1.3v1.3h-1.3zM93.1 489.8h1.3v1.3h-1.3zM93.3 473.6h1.3v1.3h-1.3zM93.5 489.1h1.3v1.3h-1.3zM93.7 472.9h1.3v1.3h-1.3zM93.9 483.7h1.3v1.3h-1.3zM94.1 493.1h1.3v1.3h-1.3zM94.3 456.9h1.3v1.3h-1.3zM94.5 487.8h1.3v1.3h-1.3zM94.7 488.6h1.3v1.3h-1.3zM94.9 481.9h1.3v1.3h-1.3zM95.1 493.6h1.3v1.3h-1.3zM95.3 476.4h1.3v1.3h-1.3zM95.5 487.9h1.3v1.3h-1.3zM95.7 492.1h1.3v1.3h-1.3zM95.9 481.1h1.3v1.3h-1.3zM96.1 483.1h1.3v1.3h-1.3zM96.3 486.7h1.3v1.3h-1.3zM96.5 468.1h1.3v1.3h-1.3zM96.7 492.2h1.3v1.3h-1.3zM96.9 493.5h1.3v1.3h-1.3zM97.1 468.8h1.3v1.3h-1.3zM97.3 489.0h1.3v1.3h-1.3zM97.5 469.0h1.3v1.3h-1.3zM97.7 492.0h1.3v1.3h-1.3zM97.9 492.8h1.3v1.3h-1.3zM98.1 472.2h1.3v1.3h-1.3zM98.3 490.0h1.3v1.3h-1.3zM98.5 485.1h1.3v1.3h-1.3zM98.7 467.0h1.3v1.3h-1.3zM98.9 493.7h1.3v1.3h-1.3zM99.2 482.5h1.3v1.3h-1.3zM99.4 491.8h1.3v1.3h-1.3zM99.6 491.1h1.3v1.3h-1.3zM99.8 489.6h1.3v1.3h-1.3zM100.0 484.5h1.3v1.3h-1.3zM100.2 484.4h1.3v1.3h-1.3zM100.4 493.4h1.3v1.3h-1.3zM100.6 482.2h1.3v1.3h-1.3zM100.8 482.5h1.3v1.3h-1.3zM101.0 491.6h1.3v1.3h-1.3zM101.2 491.2h1.3v1.3h-1.3zM101.4 493.3h1.3v1.3h-1.3zM101.6 493.3h1.3v1.3h-1.3zM101.8 492.2h1.3v1.3h-1.3zM102.0 492.9h1.3v1.3h-1.3zM102.2 491.9h1.3v1.3h-1.3zM102.4 492.4h1.3v1.3h-1.3zM102.6 490.9h1.3v1.3h-1.3zM102.8 474.5h1.3v1.3h-1.3zM103.0 492.3h1.3v1.3h-1.3zM103.2 492.4h1.3v1.3h-1.3zM103.4 492.8h1.3v1.3h-1.3zM103.6 459.6h1.3v1.3h-1.3zM103.8 480.4h1.3v1.3h-1.3zM104.0 478.2h1.3v1.3h-1.3zM104.2 489.7h1.3v1.3h-1.3zM104.4 488.5h1.3v1.3h-1.3zM104.6 491.2h1.3v1.3h-1.3zM104.8 488.7h1.3v1.3h-1.3zM105.0 491.5h1.3v1.3h-1.3zM105.2 493.6h1.3v1.3h-1.3zM105.4 491.7h1.3v1.3h-1.3zM105.6 484.6h1.3v1.3h-1.3zM105.8 485.2h1.3v1.3h-1.3zM106.0 493.6h1.3v1.3h-1.3zM106.2 484.0h1.3v1.3h-1.3zM106.4 493.7h1.3v1.3h-1.3zM106.6 484.7h1.3v1.3h-1.3zM106.8 464.1h1.3v1.3h-1.3zM107.0 491.5h1.3v1.3h-1.3zM107.2 482.3h1.3v1.3h-1.3zM107.4 491.2h1.3v1.3h-1.3zM107.6 489.0h1.3v1.3h-1.3zM107.8 490.2h1.3v1.3h-1.3zM108.0 484.7h1.3v1.3h-1.3zM108.2 492.2h1.3v1.3h-1.3zM108.4 489.5h1.3v1.3h-1.3zM108.6 480.2h1.3v1.3h-1.3zM108.8 490.8h1.3v1.3h-1.3zM109.0 482.8h1.3v1.3h-1.3zM109.2 495.1h1.3v1.3h-1.3zM109.5 493.5h1.3v1.3h-1.3zM109.7 489.1h1.3v1.3h-1.3zM109.9 480.5h1.3v1.3h-1.3zM110.1 492.1h1.3v1.3h-1.3zM110.3 491.2h1.3v1.3h-1.3zM110.5 482.2h1.3v1.3h-1.3zM110.7 481.1h1.3v1.3h-1.3zM110.9 492.8h1.3v1.3h-1.3zM111.1 492.8h1.3v1.3h-1.3zM111.3 495.1h1.3v1.3h-1.3zM111.5 465.0h1.3v1.3h-1.3zM111.7 490.8h1.3v1.3h-1.3zM111.9 492.6h1.3v1.3h-1.3zM112.1 493.6h1.3v1.3h-1.3zM112.3 461.2h1.3v1.3h-1.3zM112.5 492.6h1.3v1.3h-1.3zM112.7 467.2h1.3v1.3h-1.3zM112.9 472.5h1.3v1.3h-1.3zM113.1 491.0h1.3v1.3h-1.3zM113.3 492.4h1.3v1.3h-1.3zM113.5 487.6h1.3v1.3h-1.3zM113.7 491.1h1.3v1.3h-1.3zM113.9 486.8h1.3v1.3h-1.3zM114.1 494.3h1.3v1.3h-1.3zM114.3 456.9h1.3v1.3h-1.3zM114.5 475.6h1.3v1.3h-1.3zM114.7 472.9h1.3v1.3h-1.3zM114.9 483.6h1.3v1.3h-1.3zM115.1 487.0h1.3v1.3h-1.3zM115.3 493.7h1.3v1.3h-1.3zM115.5 487.9h1.3v1.3h-1.3zM115.7 481.2h1.3v1.3h-1.3zM115.9 491.8h1.3v1.3h-1.3zM116.1 480.7h1.3v1.3h-1.3zM116.3 491.9h1.3v1.3h-1.3zM116.5 493.9h1.3v1.3h-1.3zM116.7 488.5h1.3v1.3h-1.3zM116.9 487.9h1.3v1.3h-1.3zM117.1 476.8h1.3v1.3h-1.3zM117.3 480.3h1.3v1.3h-1.3zM117.5 461.5h1.3v1.3h-1.3zM117.7 474.7h1.3v1.3h-1.3zM117.9 482.7h1.3v1.3h-1.3zM118.1 492.5h1.3v1.3h-1.3zM118.3 490.3h1.3v1.3h-1.3zM118.5 483.0h1.3v1.3h-1.3zM118.7 489.1h1.3v1.3h-1.3zM118.9 475.8h1.3v1.3h-1.3zM119.1 488.0h1.3v1.3h-1.3zM119.3 492.1h1.3v1.3h-1.3zM119.6 492.2h1.3v1.3h-1.3zM119.8 482.7h1.3v1.3h-1.3zM120.0 492.8h1.3v1.3h-1.3zM120.2 493.5h1.3v1.3h-1.3zM120.4 478.8h1.3v1.3h-1.3zM120.6 485.3h1.3v1.3h-1.3zM120.8 491.0h1.3v1.3h-1.3zM121.0 461.5h1.3v1.3h-1.3zM121.2 492.9h1.3v1.3h-1.3zM121.4 481.9h1.3v1.3h-1.3zM121.6 493.0h1.3v1.3h-1.3zM121.8 494.0h1.3v1.3h-1.3zM122.0 479.8h1.3v1.3h-1.3zM122.2 473.1h1.3v1.3h-1.3zM122.4 484.3h1.3v1.3h-1.3zM122.6 475.1h1.3v1.3h-1.3zM122.8 492.8h1.3v1.3h-1.3zM123.0 493.3h1.3v1.3h-1.3zM123.2 483.3h1.3v1.3h-1.3zM123.4 492.0h1.3v1.3h-1.3zM123.6 480.1h1.3v1.3h-1.3zM123.8 491.9h1.3v1.3h-1.3zM124.0 491.9h1.3v1.3h-1.3zM124.2 492.7h1.3v1.3h-1.3zM124.4 488.0h1.3v1.3h-1.3zM124.6 486.7h1.3v1.3h-1.3zM124.8 490.9h1.3v1.3h-1.3zM125.0 489.0h1.3v1.3h-1.3zM125.2 488.8h1.3v1.3h-1.3zM125.4 492.3h1.3v1.3h-1.3zM125.6 476.8h1.3v1.3h-1.3zM125.8 488.5h1.3v1.3h-1.3zM126.0 492.1h1.3v1.3h-1.3zM126.2 472.1h1.3v1.3h-1.3zM126.4 482.9h1.3v1.3h-1.3zM126.6 496.3h1.3v1.3h-1.3zM126.8 490.7h1.3v1.3h-1.3zM127.0 486.3h1.3v1.3h-1.3zM127.2 460.2h1.3v1.3h-1.3zM127.4 489.8h1.3v1.3h-1.3zM127.6 491.2h1.3v1.3h-1.3zM127.8 484.1h1.3v1.3h-1.3zM128.0 490.3h1.3v1.3h-1.3zM128.2 492.0h1.3v1.3h-1.3zM128.4 491.1h1.3v1.3h-1.3zM128.6 478.9h1.3v1.3h-1.3zM128.8 495.1h1.3v1.3h-1.3zM129.0 493.7h1.3v1.3h-1.3zM129.2 478.0h1.3v1.3h-1.3zM129.5 491.5h1.3v1.3h-1.3zM129.7 492.9h1.3v1.3h-1.3zM129.9 480.5h1.3v1.3h-1.3zM130.1 487.0h1.3v1.3h-1.3zM130.3 458.1h1.3v1.3h-1.3zM130.5 488.4h1.3v1.3h-1.3zM130.7 486.8h1.3v1.3h-1.3zM130.9 476.8h1.3v1.3h-1.3zM131.1 495.6h1.3v1.3h-1.3zM131.3 483.6h1.3v1.3h-1.3zM131.5 490.5h1.3v1.3h-1.3zM131.7 493.2h1.3v1.3h-1.3zM131.9 489.5h1.3v1.3h-1.3zM132.1 491.9h1.3v1.3h-1.3zM132.3 484.7h1.3v1.3h-1.3zM132.5 473.7h1.3v1.3h-1.3zM132.7 489.1h1.3v1.3h-1.3zM132.9 491.5h1.3v1.3h-1.3zM133.1 491.8h1.3v1.3h-1.3zM133.3 489.6h1.3v1.3h-1.3zM133.5 494.3h1.3v1.3h-1.3zM133.7 491.0h1.3v1.3h-1.3zM133.9 492.6h1.3v1.3h-1.3zM134.1 493.3h1.3v1.3h-1.3zM134.3 490.7h1.3v1.3h-1.3zM134.5 484.8h1.3v1.3h-1.3zM134.7 439.0h1.3v1.3h-1.3zM134.9 480.1h1.3v1.3h-1.3zM135.1 484.7h1.3v1.3h-1.3zM135.3 489.5h1.3v1.3h-1.3zM135.5 487.5h1.3v1.3h-1.3zM135.7 443.5h1.3v1.3h-1.3zM135.9 492.4h1.3v1.3h-1.3zM136.1 491.5h1.3v1.3h-1.3zM136.3 490.3h1.3v1.3h-1.3zM136.5 491.2h1.3v1.3h-1.3zM136.7 468.9h1.3v1.3h-1.3zM136.9 485.9h1.3v1.3h-1.3zM137.1 493.6h1.3v1.3h-1.3zM137.3 468.9h1.3v1.3h-1.3zM137.5 468.0h1.3v1.3h-1.3zM137.7 480.1h1.3v1.3h-1.3zM137.9 493.0h1.3v1.3h-1.3zM138.1 492.9h1.3v1.3h-1.3zM138.3 459.7h1.3v1.3h-1.3zM138.5 493.2h1.3v1.3h-1.3zM138.7 491.2h1.3v1.3h-1.3zM138.9 463.4h1.3v1.3h-1.3zM139.1 462.8h1.3v1.3h-1.3zM139.3 489.4h1.3v1.3h-1.3zM139.6 494.8h1.3v1.3h-1.3zM139.8 491.1h1.3v1.3h-1.3zM140.0 495.4h1.3v1.3h-1.3zM140.2 488.5h1.3v1.3h-1.3zM140.4 470.5h1.3v1.3h-1.3zM140.6 463.6h1.3v1.3h-1.3zM140.8 493.3h1.3v1.3h-1.3zM141.0 464.9h1.3v1.3h-1.3zM141.2 479.6h1.3v1.3h-1.3zM141.4 494.1h1.3v1.3h-1.3zM141.6 489.2h1.3v1.3h-1.3zM141.8 482.3h1.3v1.3h-1.3zM142.0 492.6h1.3v1.3h-1.3zM142.2 492.1h1.3v1.3h-1.3zM142.4 492.3h1.3v1.3h-1.3zM142.6 453.4h1.3v1.3h-1.3zM142.8 461.5h1.3v1.3h-1.3zM143.0 466.3h1.3v1.3h-1.3zM143.2 494.1h1.3v1.3h-1.3zM143.4 491.2h1.3v1.3h-1.3zM143.6 491.3h1.3v1.3h-1.3zM143.8 492.8h1.3v1.3h-1.3zM144.0 489.2h1.3v1.3h-1.3zM144.2 491.6h1.3v1.3h-1.3zM144.4 485.7h1.3v1.3h-1.3zM144.6 496.2h1.3v1.3h-1.3zM144.8 495.0h1.3v1.3h-1.3zM145.0 493.9h1.3v1.3h-1.3zM145.2 490.5h1.3v1.3h-1.3zM145.4 476.8h1.3v1.3h-1.3zM145.6 462.0h1.3v1.3h-1.3zM145.8 492.5h1.3v1.3h-1.3zM146.0 495.0h1.3v1.3h-1.3zM146.2 486.0h1.3v1.3h-1.3zM146.4 488.6h1.3v1.3h-1.3zM146.6 492.4h1.3v1.3h-1.3zM146.8 480.6h1.3v1.3h-1.3zM147.0 493.0h1.3v1.3h-1.3zM147.2 494.1h1.3v1.3h-1.3zM147.4 477.1h1.3v1.3h-1.3zM147.6 477.1h1.3v1.3h-1.3zM147.8 493.9h1.3v1.3h-1.3zM148.0 491.4h1.3v1.3h-1.3zM148.2 471.0h1.3v1.3h-1.3zM148.4 488.4h1.3v1.3h-1.3zM148.6 485.4h1.3v1.3h-1.3zM148.8 470.9h1.3v1.3h-1.3zM149.0 492.6h1.3v1.3h-1.3zM149.2 495.5h1.3v1.3h-1.3zM149.4 492.2h1.3v1.3h-1.3zM149.7 492.0h1.3v1.3h-1.3zM149.9 493.8h1.3v1.3h-1.3zM150.1 479.2h1.3v1.3h-1.3zM150.3 493.9h1.3v1.3h-1.3zM150.5 493.0h1.3v1.3h-1.3zM150.7 491.0h1.3v1.3h-1.3zM150.9 493.4h1.3v1.3h-1.3zM151.1 486.4h1.3v1.3h-1.3zM151.3 492.0h1.3v1.3h-1.3zM151.5 478.7h1.3v1.3h-1.3zM151.7 467.0h1.3v1.3h-1.3zM151.9 475.7h1.3v1.3h-1.3zM152.1 489.1h1.3v1.3h-1.3zM152.3 493.4h1.3v1.3h-1.3zM152.5 492.2h1.3v1.3h-1.3zM152.7 492.9h1.3v1.3h-1.3zM152.9 488.7h1.3v1.3h-1.3zM153.1 468.0h1.3v1.3h-1.3zM153.3 494.2h1.3v1.3h-1.3zM153.5 493.4h1.3v1.3h-1.3zM153.7 480.4h1.3v1.3h-1.3zM153.9 493.3h1.3v1.3h-1.3zM154.1 494.4h1.3v1.3h-1.3zM154.3 493.2h1.3v1.3h-1.3zM154.5 481.9h1.3v1.3h-1.3zM154.7 495.0h1.3v1.3h-1.3zM154.9 489.2h1.3v1.3h-1.3zM155.1 492.4h1.3v1.3h-1.3zM155.3 480.8h1.3v1.3h-1.3zM155.5 478.7h1.3v1.3h-1.3zM155.7 489.6h1.3v1.3h-1.3zM155.9 482.3h1.3v1.3h-1.3zM156.1 492.8h1.3v1.3h-1.3zM156.3 483.1h1.3v1.3h-1.3zM156.5 481.9h1.3v1.3h-1.3zM156.7 480.1h1.3v1.3h-1.3zM156.9 489.6h1.3v1.3h-1.3zM157.1 485.8h1.3v1.3h-1.3zM157.3 472.0h1.3v1.3h-1.3zM157.5 490.8h1.3v1.3h-1.3zM157.7 492.9h1.3v1.3h-1.3zM157.9 491.8h1.3v1.3h-1.3zM158.1 496.0h1.3v1.3h-1.3zM158.3 494.0h1.3v1.3h-1.3zM158.5 493.5h1.3v1.3h-1.3zM158.7 491.8h1.3v1.3h-1.3zM158.9 484.8h1.3v1.3h-1.3zM159.1 484.8h1.3v1.3h-1.3zM159.3 493.2h1.3v1.3h-1.3zM159.5 496.5h1.3v1.3h-1.3zM159.8 492.8h1.3v1.3h-1.3zM160.0 492.8h1.3v1.3h-1.3zM160.2 484.1h1.3v1.3h-1.3zM160.4 492.2h1.3v1.3h-1.3zM160.6 464.0h1.3v1.3h-1.3zM160.8 481.3h1.3v1.3h-1.3zM161.0 494.3h1.3v1.3h-1.3zM161.2 459.7h1.3v1.3h-1.3zM161.4 494.6h1.3v1.3h-1.3zM161.6 486.6h1.3v1.3h-1.3zM161.8 489.3h1.3v1.3h-1.3zM162.0 482.2h1.3v1.3h-1.3zM162.2 486.8h1.3v1.3h-1.3zM162.4 490.6h1.3v1.3h-1.3zM162.6 473.1h1.3v1.3h-1.3zM162.8 468.8h1.3v1.3h-1.3zM163.0 490.7h1.3v1.3h-1.3zM163.2 490.9h1.3v1.3h-1.3zM163.4 494.3h1.3v1.3h-1.3zM163.6 489.8h1.3v1.3h-1.3zM163.8 482.2h1.3v1.3h-1.3zM164.0 491.9h1.3v1.3h-1.3zM164.2 494.2h1.3v1.3h-1.3zM164.4 496.4h1.3v1.3h-1.3zM164.6 492.9h1.3v1.3h-1.3zM164.8 491.7h1.3v1.3h-1.3zM165.0 492.5h1.3v1.3h-1.3zM165.2 485.5h1.3v1.3h-1.3zM165.4 493.5h1.3v1.3h-1.3zM165.6 491.6h1.3v1.3h-1.3zM165.8 471.0h1.3v1.3h-1.3zM166.0 484.6h1.3v1.3h-1.3zM166.2 488.7h1.3v1.3h-1.3zM166.4 492.4h1.3v1.3h-1.3zM166.6 496.0h1.3v1.3h-1.3zM166.8 491.2h1.3v1.3h-1.3zM167.0 483.4h1.3v1.3h-1.3zM167.2 494.4h1.3v1.3h-1.3zM167.4 490.6h1.3v1.3h-1.3zM167.6 486.4h1.3v1.3h-1.3zM167.8 492.2h1.3v1.3h-1.3zM168.0 477.9h1.3v1.3h-1.3zM168.2 496.4h1.3v1.3h-1.3zM168.4 494.3h1.3v1.3h-1.3zM168.6 493.0h1.3v1.3h-1.3zM168.8 487.9h1.3v1.3h-1.3zM169.0 492.6h1.3v1.3h-1.3zM169.2 493.6h1.3v1.3h-1.3zM169.4 490.4h1.3v1.3h-1.3zM169.6 491.2h1.3v1.3h-1.3zM169.9 483.9h1.3v1.3h-1.3zM170.1 495.9h1.3v1.3h-1.3zM170.3 493.0h1.3v1.3h-1.3zM170.5 491.9h1.3v1.3h-1.3zM170.7 488.0h1.3v1.3h-1.3zM170.9 492.4h1.3v1.3h-1.3zM171.1 477.9h1.3v1.3h-1.3zM171.3 492.4h1.3v1.3h-1.3zM171.5 481.0h1.3v1.3h-1.3zM171.7 482.1h1.3v1.3h-1.3zM171.9 482.1h1.3v1.3h-1.3zM172.1 483.1h1.3v1.3h-1.3zM172.3 486.8h1.3v1.3h-1.3zM172.5 494.1h1.3v1.3h-1.3zM172.7 475.1h1.3v1.3h-1.3zM172.9 472.5h1.3v1.3h-1.3zM173.1 487.1h1.3v1.3h-1.3zM173.3 491.4h1.3v1.3h-1.3zM173.5 494.0h1.3v1.3h-1.3zM173.7 462.2h1.3v1.3h-1.3zM173.9 463.8h1.3v1.3h-1.3zM174.1 475.7h1.3v1.3h-1.3zM174.3 474.8h1.3v1.3h-1.3zM174.5 494.6h1.3v1.3h-1.3zM174.7 477.3h1.3v1.3h-1.3zM174.9 484.1h1.3v1.3h-1.3zM175.1 494.3h1.3v1.3h-1.3zM175.3 463.8h1.3v1.3h-1.3zM175.5 476.5h1.3v1.3h-1.3zM175.7 493.0h1.3v1.3h-1.3zM175.9 474.4h1.3v1.3h-1.3zM176.1 480.3h1.3v1.3h-1.3zM176.3 495.5h1.3v1.3h-1.3zM176.5 492.2h1.3v1.3h-1.3zM176.7 467.9h1.3v1.3h-1.3zM176.9 489.0h1.3v1.3h-1.3zM177.1 468.8h1.3v1.3h-1.3zM177.3 486.2h1.3v1.3h-1.3zM177.5 470.1h1.3v1.3h-1.3zM177.7 461.2h1.3v1.3h-1.3zM177.9 492.9h1.3v1.3h-1.3zM178.1 493.2h1.3v1.3h-1.3zM178.3 493.5h1.3v1.3h-1.3zM178.5 468.0h1.3v1.3h-1.3zM178.7 488.7h1.3v1.3h-1.3zM178.9 473.6h1.3v1.3h-1.3zM179.1 492.0h1.3v1.3h-1.3zM179.3 496.2h1.3v1.3h-1.3zM179.5 486.4h1.3v1.3h-1.3zM179.7 494.0h1.3v1.3h-1.3zM180.0 491.3h1.3v1.3h-1.3zM180.2 484.1h1.3v1.3h-1.3zM180.4 488.6h1.3v1.3h-1.3zM180.6 496.1h1.3v1.3h-1.3zM180.8 476.8h1.3v1.3h-1.3zM181.0 493.4h1.3v1.3h-1.3zM181.2 494.3h1.3v1.3h-1.3zM181.4 487.4h1.3v1.3h-1.3zM181.6 486.6h1.3v1.3h-1.3zM181.8 490.2h1.3v1.3h-1.3zM182.0 492.5h1.3v1.3h-1.3zM182.2 493.8h1.3v1.3h-1.3zM182.4 495.0h1.3v1.3h-1.3zM182.6 471.4h1.3v1.3h-1.3zM182.8 490.2h1.3v1.3h-1.3zM183.0 494.2h1.3v1.3h-1.3zM183.2 461.2h1.3v1.3h-1.3zM183.4 476.4h1.3v1.3h-1.3zM183.6 493.6h1.3v1.3h-1.3zM183.8 477.1h1.3v1.3h-1.3zM184.0 463.2h1.3v1.3h-1.3zM184.2 492.7h1.3v1.3h-1.3zM184.4 485.1h1.3v1.3h-1.3zM184.6 494.2h1.3v1.3h-1.3zM184.8 476.5h1.3v1.3h-1.3zM185.0 490.9h1.3v1.3h-1.3zM185.2 491.2h1.3v1.3h-1.3zM185.4 444.7h1.3v1.3h-1.3zM185.6 492.0h1.3v1.3h-1.3zM185.8 488.9h1.3v1.3h-1.3zM186.0 478.6h1.3v1.3h-1.3zM186.2 492.2h1.3v1.3h-1.3zM186.4 490.8h1.3v1.3h-1.3zM186.6 492.7h1.3v1.3h-1.3zM186.8 487.8h1.3v1.3h-1.3zM187.0 487.7h1.3v1.3h-1.3zM187.2 477.9h1.3v1.3h-1.3zM187.4 495.7h1.3v1.3h-1.3zM187.6 493.4h1.3v1.3h-1.3zM187.8 493.1h1.3v1.3h-1.3zM188.0 492.8h1.3v1.3h-1.3zM188.2 494.3h1.3v1.3h-1.3zM188.4 488.8h1.3v1.3h-1.3zM188.6 493.0h1.3v1.3h-1.3zM188.8 492.2h1.3v1.3h-1.3zM189.0 484.6h1.3v1.3h-1.3zM189.2 485.8h1.3v1.3h-1.3zM189.4 479.6h1.3v1.3h-1.3zM189.6 490.6h1.3v1.3h-1.3zM189.8 489.7h1.3v1.3h-1.3zM190.1 491.9h1.3v1.3h-1.3zM190.3 490.6h1.3v1.3h-1.3zM190.5 428.4h1.3v1.3h-1.3zM190.7 492.7h1.3v1.3h-1.3zM190.9 493.1h1.3v1.3h-1.3zM191.1 489.7h1.3v1.3h-1.3zM191.3 482.6h1.3v1.3h-1.3zM191.5 488.8h1.3v1.3h-1.3zM191.7 491.6h1.3v1.3h-1.3zM191.9 485.7h1.3v1.3h-1.3zM192.1 467.3h1.3v1.3h-1.3zM192.3 492.5h1.3v1.3h-1.3zM192.5 490.8h1.3v1.3h-1.3zM192.7 491.5h1.3v1.3h-1.3zM192.9 479.9h1.3v1.3h-1.3zM193.1 492.4h1.3v1.3h-1.3zM193.3 484.8h1.3v1.3h-1.3zM193.5 477.6h1.3v1.3h-1.3zM193.7 487.8h1.3v1.3h-1.3zM193.9 490.9h1.3v1.3h-1.3zM194.1 494.9h1.3v1.3h-1.3zM194.3 492.0h1.3v1.3h-1.3zM194.5 479.7h1.3v1.3h-1.3zM194.7 480.0h1.3v1.3h-1.3zM194.9 484.9h1.3v1.3h-1.3zM195.1 493.4h1.3v1.3h-1.3zM195.3 489.1h1.3v1.3h-1.3zM195.5 459.1h1.3v1.3h-1.3zM195.7 482.5h1.3v1.3h-1.3zM195.9 492.5h1.3v1.3h-1.3zM196.1 483.4h1.3v1.3h-1.3zM196.3 478.0h1.3v1.3h-1.3zM196.5 480.3h1.3v1.3h-1.3zM196.7 492.3h1.3v1.3h-1.3zM196.9 484.9h1.3v1.3h-1.3zM197.1 493.0h1.3v1.3h-1.3zM197.3 478.0h1.3v1.3h-1.3zM197.5 492.2h1.3v1.3h-1.3zM197.7 475.6h1.3v1.3h-1.3zM197.9 494.1h1.3v1.3h-1.3zM198.1 482.9h1.3v1.3h-1.3zM198.3 482.6h1.3v1.3h-1.3zM198.5 484.8h1.3v1.3h-1.3zM198.7 489.1h1.3v1.3h-1.3zM198.9 480.8h1.3v1.3h-1.3zM199.1 492.5h1.3v1.3h-1.3zM199.3 492.7h1.3v1.3h-1.3zM199.5 490.7h1.3v1.3h-1.3zM199.7 493.8h1.3v1.3h-1.3zM199.9 482.6h1.3v1.3h-1.3zM200.2 490.5h1.3v1.3h-1.3zM200.4 477.8h1.3v1.3h-1.3zM200.6 487.1h1.3v1.3h-1.3zM200.8 482.9h1.3v1.3h-1.3zM201.0 493.1h1.3v1.3h-1.3zM201.2 488.0h1.3v1.3h-1.3zM201.4 467.3h1.3v1.3h-1.3zM201.6 491.3h1.3v1.3h-1.3zM201.8 495.0h1.3v1.3h-1.3zM202.0 493.6h1.3v1.3h-1.3zM202.2 478.1h1.3v1.3h-1.3zM202.4 492.6h1.3v1.3h-1.3zM202.6 467.0h1.3v1.3h-1.3zM202.8 492.1h1.3v1.3h-1.3zM203.0 475.2h1.3v1.3h-1.3zM203.2 481.6h1.3v1.3h-1.3zM203.4 483.3h1.3v1.3h-1.3zM203.6 479.5h1.3v1.3h-1.3zM203.8 473.9h1.3v1.3h-1.3zM204.0 479.8h1.3v1.3h-1.3zM204.2 476.9h1.3v1.3h-1.3zM204.4 492.2h1.3v1.3h-1.3zM204.6 492.0h1.3v1.3h-1.3zM204.8 474.2h1.3v1.3h-1.3zM205.0 493.5h1.3v1.3h-1.3zM205.2 494.1h1.3v1.3h-1.3zM205.4 484.4h1.3v1.3h-1.3zM205.6 494.0h1.3v1.3h-1.3zM205.8 479.1h1.3v1.3h-1.3zM206.0 492.8h1.3v1.3h-1.3zM206.2 470.4h1.3v1.3h-1.3zM206.4 493.7h1.3v1.3h-1.3zM206.6 489.3h1.3v1.3h-1.3zM206.8 485.7h1.3v1.3h-1.3zM207.0 489.8h1.3v1.3h-1.3zM207.2 486.9h1.3v1.3h-1.3zM207.4 491.6h1.3v1.3h-1.3zM207.6 493.6h1.3v1.3h-1.3zM207.8 479.1h1.3v1.3h-1.3zM208.0 492.9h1.3v1.3h-1.3zM208.2 491.5h1.3v1.3h-1.3zM208.4 491.9h1.3v1.3h-1.3zM208.6 492.3h1.3v1.3h-1.3zM208.8 489.4h1.3v1.3h-1.3zM209.0 495.1h1.3v1.3h-1.3zM209.2 493.7h1.3v1.3h-1.3zM209.4 465.7h1.3v1.3h-1.3zM209.6 485.7h1.3v1.3h-1.3zM209.8 488.1h1.3v1.3h-1.3zM210.0 490.0h1.3v1.3h-1.3zM210.2 492.3h1.3v1.3h-1.3zM210.5 492.0h1.3v1.3h-1.3zM210.7 485.0h1.3v1.3h-1.3zM210.9 482.7h1.3v1.3h-1.3zM211.1 474.0h1.3v1.3h-1.3zM211.3 493.2h1.3v1.3h-1.3zM211.5 494.3h1.3v1.3h-1.3zM211.7 473.0h1.3v1.3h-1.3zM211.9 483.1h1.3v1.3h-1.3zM212.1 465.5h1.3v1.3h-1.3zM212.3 487.6h1.3v1.3h-1.3zM212.5 494.0h1.3v1.3h-1.3zM212.7 464.2h1.3v1.3h-1.3zM212.9 484.5h1.3v1.3h-1.3zM213.1 484.4h1.3v1.3h-1.3zM213.3 485.6h1.3v1.3h-1.3zM213.5 490.2h1.3v1.3h-1.3zM213.7 491.6h1.3v1.3h-1.3zM213.9 481.4h1.3v1.3h-1.3zM214.1 489.9h1.3v1.3h-1.3zM214.3 488.6h1.3v1.3h-1.3zM214.5 476.7h1.3v1.3h-1.3zM214.7 464.8h1.3v1.3h-1.3zM214.9 495.5h1.3v1.3h-1.3zM215.1 487.7h1.3v1.3h-1.3zM215.3 468.0h1.3v1.3h-1.3zM215.5 492.4h1.3v1.3h-1.3zM215.7 485.6h1.3v1.3h-1.3zM215.9 479.2h1.3v1.3h-1.3zM216.1 487.7h1.3v1.3h-1.3zM216.3 492.2h1.3v1.3h-1.3zM216.5 491.9h1.3v1.3h-1.3zM216.7 492.7h1.3v1.3h-1.3zM216.9 487.9h1.3v1.3h-1.3zM217.1 493.1h1.3v1.3h-1.3zM217.3 475.6h1.3v1.3h-1.3zM217.5 494.6h1.3v1.3h-1.3zM217.7 493.9h1.3v1.3h-1.3zM217.9 481.1h1.3v1.3h-1.3zM218.1 492.3h1.3v1.3h-1.3zM218.3 492.5h1.3v1.3h-1.3zM218.5 494.2h1.3v1.3h-1.3zM218.7 481.6h1.3v1.3h-1.3zM218.9 492.0h1.3v1.3h-1.3zM219.1 491.5h1.3v1.3h-1.3zM219.3 491.8h1.3v1.3h-1.3zM219.5 493.8h1.3v1.3h-1.3zM219.7 492.3h1.3v1.3h-1.3zM219.9 474.1h1.3v1.3h-1.3zM220.1 475.8h1.3v1.3h-1.3zM220.3 465.2h1.3v1.3h-1.3zM220.6 493.0h1.3v1.3h-1.3zM220.8 480.6h1.3v1.3h-1.3zM221.0 493.9h1.3v1.3h-1.3zM221.2 478.6h1.3v1.3h-1.3zM221.4 488.7h1.3v1.3h-1.3zM221.6 470.8h1.3v1.3h-1.3zM221.8 493.8h1.3v1.3h-1.3zM222.0 471.5h1.3v1.3h-1.3zM222.2 490.8h1.3v1.3h-1.3zM222.4 493.8h1.3v1.3h-1.3zM222.6 475.1h1.3v1.3h-1.3zM222.8 490.6h1.3v1.3h-1.3zM223.0 492.0h1.3v1.3h-1.3zM223.2 489.1h1.3v1.3h-1.3zM223.4 474.2h1.3v1.3h-1.3zM223.6 489.5h1.3v1.3h-1.3zM223.8 477.7h1.3v1.3h-1.3zM224.0 489.3h1.3v1.3h-1.3zM224.2 492.8h1.3v1.3h-1.3zM224.4 489.3h1.3v1.3h-1.3zM224.6 493.2h1.3v1.3h-1.3zM224.8 493.8h1.3v1.3h-1.3zM225.0 479.8h1.3v1.3h-1.3zM225.2 488.0h1.3v1.3h-1.3zM225.4 489.8h1.3v1.3h-1.3zM225.6 485.5h1.3v1.3h-1.3zM225.8 482.4h1.3v1.3h-1.3zM226.0 487.0h1.3v1.3h-1.3zM226.2 485.7h1.3v1.3h-1.3zM226.4 493.3h1.3v1.3h-1.3zM226.6 493.3h1.3v1.3h-1.3zM226.8 479.5h1.3v1.3h-1.3zM227.0 483.3h1.3v1.3h-1.3zM227.2 487.9h1.3v1.3h-1.3zM227.4 491.2h1.3v1.3h-1.3zM227.6 489.1h1.3v1.3h-1.3zM227.8 473.1h1.3v1.3h-1.3zM228.0 484.6h1.3v1.3h-1.3zM228.2 492.5h1.3v1.3h-1.3zM228.4 495.5h1.3v1.3h-1.3zM228.6 491.7h1.3v1.3h-1.3zM228.8 478.1h1.3v1.3h-1.3zM229.0 494.9h1.3v1.3h-1.3zM229.2 486.1h1.3v1.3h-1.3zM229.4 489.1h1.3v1.3h-1.3zM229.6 493.4h1.3v1.3h-1.3zM229.8 470.6h1.3v1.3h-1.3zM230.0 483.1h1.3v1.3h-1.3zM230.2 493.6h1.3v1.3h-1.3zM230.5 487.1h1.3v1.3h-1.3zM230.7 491.9h1.3v1.3h-1.3zM230.9 493.2h1.3v1.3h-1.3zM231.1 493.1h1.3v1.3h-1.3zM231.3 492.5h1.3v1.3h-1.3zM231.5 490.1h1.3v1.3h-1.3zM231.7 491.4h1.3v1.3h-1.3zM231.9 492.7h1.3v1.3h-1.3zM232.1 492.8h1.3v1.3h-1.3zM232.3 490.8h1.3v1.3h-1.3zM232.5 488.6h1.3v1.3h-1.3zM232.7 489.6h1.3v1.3h-1.3zM232.9 492.6h1.3v1.3h-1.3zM233.1 491.0h1.3v1.3h-1.3zM233.3 479.2h1.3v1.3h-1.3zM233.5 492.5h1.3v1.3h-1.3zM233.7 494.4h1.3v1.3h-1.3zM233.9 474.2h1.3v1.3h-1.3zM234.1 471.6h1.3v1.3h-1.3zM234.3 486.8h1.3v1.3h-1.3zM234.5 494.0h1.3v1.3h-1.3zM234.7 474.1h1.3v1.3h-1.3zM234.9 485.3h1.3v1.3h-1.3zM235.1 492.1h1.3v1.3h-1.3zM235.3 468.7h1.3v1.3h-1.3zM235.5 493.7h1.3v1.3h-1.3zM235.7 493.3h1.3v1.3h-1.3zM235.9 491.3h1.3v1.3h-1.3zM236.1 491.7h1.3v1.3h-1.3zM236.3 492.4h1.3v1.3h-1.3zM236.5 481.7h1.3v1.3h-1.3zM236.7 489.6h1.3v1.3h-1.3zM236.9 493.0h1.3v1.3h-1.3zM237.1 473.7h1.3v1.3h-1.3zM237.3 490.5h1.3v1.3h-1.3zM237.5 492.9h1.3v1.3h-1.3zM237.7 470.0h1.3v1.3h-1.3zM237.9 484.2h1.3v1.3h-1.3zM238.1 491.3h1.3v1.3h-1.3zM238.3 480.7h1.3v1.3h-1.3zM238.5 467.7h1.3v1.3h-1.3zM238.7 493.1h1.3v1.3h-1.3zM238.9 486.9h1.3v1.3h-1.3zM239.1 488.5h1.3v1.3h-1.3zM239.3 472.1h1.3v1.3h-1.3zM239.5 489.6h1.3v1.3h-1.3zM239.7 492.3h1.3v1.3h-1.3zM239.9 476.0h1.3v1.3h-1.3zM240.1 493.2h1.3v1.3h-1.3zM240.3 493.9h1.3v1.3h-1.3zM240.6 460.9h1.3v1.3h-1.3zM240.8 477.3h1.3v1.3h-1.3zM241.0 489.0h1.3v1.3h-1.3zM241.2 480.7h1.3v1.3h-1.3zM241.4 489.3h1.3v1.3h-1.3zM241.6 483.8h1.3v1.3h-1.3zM241.8 469.0h1.3v1.3h-1.3zM242.0 484.7h1.3v1.3h-1.3zM242.2 481.9h1.3v1.3h-1.3zM242.4 494.2h1.3v1.3h-1.3zM242.6 485.1h1.3v1.3h-1.3zM242.8 490.8h1.3v1.3h-1.3zM243.0 491.9h1.3v1.3h-1.3zM243.2 484.9h1.3v1.3h-1.3zM243.4 490.2h1.3v1.3h-1.3zM243.6 492.1h1.3v1.3h-1.3zM243.8 494.2h1.3v1.3h-1.3zM244.0 467.2h1.3v1.3h-1.3zM244.2 480.4h1.3v1.3h-1.3zM244.4 494.5h1.3v1.3h-1.3zM244.6 491.5h1.3v1.3h-1.3zM244.8 480.9h1.3v1.3h-1.3zM245.0 491.5h1.3v1.3h-1.3zM245.2 489.1h1.3v1.3h-1.3zM245.4 462.8h1.3v1.3h-1.3zM245.6 486.8h1.3v1.3h-1.3zM245.8 482.7h1.3v1.3h-1.3zM246.0 479.5h1.3v1.3h-1.3zM246.2 470.1h1.3v1.3h-1.3zM246.4 465.0h1.3v1.3h-1.3zM246.6 477.9h1.3v1.3h-1.3zM246.8 481.6h1.3v1.3h-1.3zM247.0 492.4h1.3v1.3h-1.3zM247.2 494.0h1.3v1.3h-1.3zM247.4 493.3h1.3v1.3h-1.3zM247.6 492.8h1.3v1.3h-1.3zM247.8 490.9h1.3v1.3h-1.3zM248.0 493.3h1.3v1.3h-1.3zM248.2 492.2h1.3v1.3h-1.3zM248.4 493.0h1.3v1.3h-1.3zM248.6 491.5h1.3v1.3h-1.3zM248.8 479.2h1.3v1.3h-1.3zM249.0 478.3h1.3v1.3h-1.3zM249.2 486.4h1.3v1.3h-1.3zM249.4 492.2h1.3v1.3h-1.3zM249.6 486.9h1.3v1.3h-1.3zM249.8 492.2h1.3v1.3h-1.3zM250.0 496.1h1.3v1.3h-1.3zM250.2 493.6h1.3v1.3h-1.3zM250.4 474.5h1.3v1.3h-1.3zM250.7 493.4h1.3v1.3h-1.3zM250.9 480.8h1.3v1.3h-1.3zM251.1 491.0h1.3v1.3h-1.3zM251.3 478.2h1.3v1.3h-1.3zM251.5 492.3h1.3v1.3h-1.3zM251.7 471.4h1.3v1.3h-1.3zM251.9 493.4h1.3v1.3h-1.3zM252.1 485.3h1.3v1.3h-1.3zM252.3 494.9h1.3v1.3h-1.3zM252.5 496.5h1.3v1.3h-1.3zM252.7 486.5h1.3v1.3h-1.3zM252.9 490.1h1.3v1.3h-1.3zM253.1 493.2h1.3v1.3h-1.3zM253.3 481.6h1.3v1.3h-1.3zM253.5 471.1h1.3v1.3h-1.3zM253.7 480.2h1.3v1.3h-1.3zM253.9 490.3h1.3v1.3h-1.3zM254.1 479.2h1.3v1.3h-1.3zM254.3 483.7h1.3v1.3h-1.3zM254.5 492.7h1.3v1.3h-1.3zM254.7 479.3h1.3v1.3h-1.3zM254.9 467.8h1.3v1.3h-1.3zM255.1 493.9h1.3v1.3h-1.3zM255.3 493.5h1.3v1.3h-1.3zM255.5 467.6h1.3v1.3h-1.3zM255.7 492.7h1.3v1.3h-1.3zM255.9 473.0h1.3v1.3h-1.3zM256.1 493.2h1.3v1.3h-1.3zM256.3 486.2h1.3v1.3h-1.3zM256.5 472.4h1.3v1.3h-1.3zM256.7 488.0h1.3v1.3h-1.3zM256.9 493.2h1.3v1.3h-1.3zM257.1 485.7h1.3v1.3h-1.3zM257.3 479.1h1.3v1.3h-1.3zM257.5 464.3h1.3v1.3h-1.3zM257.7 494.3h1.3v1.3h-1.3zM257.9 492.0h1.3v1.3h-1.3zM258.1 475.1h1.3v1.3h-1.3zM258.3 474.6h1.3v1.3h-1.3zM258.5 489.5h1.3v1.3h-1.3zM258.7 493.8h1.3v1.3h-1.3zM258.9 491.6h1.3v1.3h-1.3zM259.1 492.0h1.3v1.3h-1.3zM259.3 475.6h1.3v1.3h-1.3zM259.5 492.8h1.3v1.3h-1.3zM259.7 492.2h1.3v1.3h-1.3zM259.9 473.1h1.3v1.3h-1.3zM260.1 492.2h1.3v1.3h-1.3zM260.3 472.9h1.3v1.3h-1.3zM260.5 492.2h1.3v1.3h-1.3zM260.8 491.3h1.3v1.3h-1.3zM261.0 482.4h1.3v1.3h-1.3zM261.2 487.9h1.3v1.3h-1.3zM261.4 490.3h1.3v1.3h-1.3zM261.6 457.2h1.3v1.3h-1.3zM261.8 477.1h1.3v1.3h-1.3zM262.0 486.1h1.3v1.3h-1.3zM262.2 468.7h1.3v1.3h-1.3zM262.4 492.6h1.3v1.3h-1.3zM262.6 473.3h1.3v1.3h-1.3zM262.8 492.2h1.3v1.3h-1.3zM263.0 484.4h1.3v1.3h-1.3zM263.2 480.1h1.3v1.3h-1.3zM263.4 488.1h1.3v1.3h-1.3zM263.6 493.7h1.3v1.3h-1.3zM263.8 494.8h1.3v1.3h-1.3zM264.0 485.3h1.3v1.3h-1.3zM264.2 492.2h1.3v1.3h-1.3zM264.4 488.6h1.3v1.3h-1.3zM264.6 491.7h1.3v1.3h-1.3zM264.8 464.6h1.3v1.3h-1.3zM265.0 484.1h1.3v1.3h-1.3zM265.2 486.2h1.3v1.3h-1.3zM265.4 477.4h1.3v1.3h-1.3zM265.6 490.9h1.3v1.3h-1.3zM265.8 488.1h1.3v1.3h-1.3zM266.0 480.0h1.3v1.3h-1.3zM266.2 480.4h1.3v1.3h-1.3zM266.4 489.1h1.3v1.3h-1.3zM266.6 491.4h1.3v1.3h-1.3zM266.8 491.1h1.3v1.3h-1.3zM267.0 495.6h1.3v1.3h-1.3zM267.2 491.7h1.3v1.3h-1.3zM267.4 472.6h1.3v1.3h-1.3zM267.6 490.5h1.3v1.3h-1.3zM267.8 492.4h1.3v1.3h-1.3zM268.0 485.7h1.3v1.3h-1.3zM268.2 491.3h1.3v1.3h-1.3zM268.4 493.3h1.3v1.3h-1.3zM268.6 492.1h1.3v1.3h-1.3zM268.8 475.1h1.3v1.3h-1.3zM269.0 485.6h1.3v1.3h-1.3zM269.2 478.2h1.3v1.3h-1.3zM269.4 471.1h1.3v1.3h-1.3zM269.6 489.6h1.3v1.3h-1.3zM269.8 484.7h1.3v1.3h-1.3zM270.0 484.0h1.3v1.3h-1.3zM270.2 477.2h1.3v1.3h-1.3zM270.4 479.1h1.3v1.3h-1.3zM270.6 492.5h1.3v1.3h-1.3zM270.9 479.1h1.3v1.3h-1.3zM271.1 480.5h1.3v1.3h-1.3zM271.3 491.5h1.3v1.3h-1.3zM271.5 493.0h1.3v1.3h-1.3zM271.7 486.5h1.3v1.3h-1.3zM271.9 488.8h1.3v1.3h-1.3zM272.1 470.3h1.3v1.3h-1.3zM272.3 487.4h1.3v1.3h-1.3zM272.5 491.7h1.3v1.3h-1.3zM272.7 493.1h1.3v1.3h-1.3zM272.9 468.7h1.3v1.3h-1.3zM273.1 468.6h1.3v1.3h-1.3zM273.3 466.1h1.3v1.3h-1.3zM273.5 467.5h1.3v1.3h-1.3zM273.7 492.2h1.3v1.3h-1.3zM273.9 489.8h1.3v1.3h-1.3zM274.1 491.7h1.3v1.3h-1.3zM274.3 482.6h1.3v1.3h-1.3zM274.5 490.0h1.3v1.3h-1.3zM274.7 480.3h1.3v1.3h-1.3zM274.9 479.9h1.3v1.3h-1.3zM275.1 469.2h1.3v1.3h-1.3zM275.3 493.9h1.3v1.3h-1.3zM275.5 490.7h1.3v1.3h-1.3zM275.7 494.8h1.3v1.3h-1.3zM275.9 491.1h1.3v1.3h-1.3zM276.1 493.2h1.3v1.3h-1.3zM276.3 466.7h1.3v1.3h-1.3zM276.5 487.6h1.3v1.3h-1.3zM276.7 481.2h1.3v1.3h-1.3zM276.9 476.8h1.3v1.3h-1.3zM277.1 483.4h1.3v1.3h-1.3zM277.3 465.4h1.3v1.3h-1.3zM277.5 495.0h1.3v1.3h-1.3zM277.7 494.1h1.3v1.3h-1.3zM277.9 480.1h1.3v1.3h-1.3zM278.1 478.1h1.3v1.3h-1.3zM278.3 475.3h1.3v1.3h-1.3zM278.5 481.2h1.3v1.3h-1.3zM278.7 482.8h1.3v1.3h-1.3zM278.9 475.2h1.3v1.3h-1.3zM279.1 492.7h1.3v1.3h-1.3zM279.3 485.1h1.3v1.3h-1.3zM279.5 479.9h1.3v1.3h-1.3zM279.7 487.5h1.3v1.3h-1.3zM279.9 492.7h1.3v1.3h-1.3zM280.1 482.2h1.3v1.3h-1.3zM280.3 492.1h1.3v1.3h-1.3zM280.5 492.7h1.3v1.3h-1.3zM280.7 493.4h1.3v1.3h-1.3zM281.0 493.3h1.3v1.3h-1.3zM281.2 492.6h1.3v1.3h-1.3zM281.4 480.2h1.3v1.3h-1.3zM281.6 485.4h1.3v1.3h-1.3zM281.8 491.6h1.3v1.3h-1.3zM282.0 488.8h1.3v1.3h-1.3zM282.2 489.8h1.3v1.3h-1.3zM282.4 496.1h1.3v1.3h-1.3zM282.6 496.5h1.3v1.3h-1.3zM282.8 494.4h1.3v1.3h-1.3zM283.0 486.5h1.3v1.3h-1.3zM283.2 484.5h1.3v1.3h-1.3zM283.4 486.8h1.3v1.3h-1.3zM283.6 486.7h1.3v1.3h-1.3zM283.8 493.2h1.3v1.3h-1.3zM284.0 490.4h1.3v1.3h-1.3zM284.2 495.0h1.3v1.3h-1.3zM284.4 471.3h1.3v1.3h-1.3zM284.6 471.7h1.3v1.3h-1.3zM284.8 484.2h1.3v1.3h-1.3zM285.0 484.1h1.3v1.3h-1.3zM285.2 491.7h1.3v1.3h-1.3zM285.4 493.2h1.3v1.3h-1.3zM285.6 488.1h1.3v1.3h-1.3zM285.8 482.6h1.3v1.3h-1.3zM286.0 485.3h1.3v1.3h-1.3zM286.2 492.4h1.3v1.3h-1.3zM286.4 466.3h1.3v1.3h-1.3zM286.6 487.0h1.3v1.3h-1.3zM286.8 492.0h1.3v1.3h-1.3zM287.0 489.8h1.3v1.3h-1.3zM287.2 466.8h1.3v1.3h-1.3zM287.4 493.3h1.3v1.3h-1.3zM287.6 493.5h1.3v1.3h-1.3zM287.8 479.9h1.3v1.3h-1.3zM288.0 491.1h1.3v1.3h-1.3zM288.2 484.7h1.3v1.3h-1.3zM288.4 472.6h1.3v1.3h-1.3zM288.6 495.6h1.3v1.3h-1.3zM288.8 488.5h1.3v1.3h-1.3zM289.0 489.5h1.3v1.3h-1.3zM289.2 485.8h1.3v1.3h-1.3zM289.4 475.1h1.3v1.3h-1.3zM289.6 494.0h1.3v1.3h-1.3zM289.8 488.2h1.3v1.3h-1.3zM290.0 484.6h1.3v1.3h-1.3zM290.2 493.1h1.3v1.3h-1.3zM290.4 465.6h1.3v1.3h-1.3zM290.6 491.7h1.3v1.3h-1.3zM290.8 490.2h1.3v1.3h-1.3zM291.1 491.9h1.3v1.3h-1.3zM291.3 481.6h1.3v1.3h-1.3zM291.5 473.1h1.3v1.3h-1.3zM291.7 486.7h1.3v1.3h-1.3zM291.9 492.9h1.3v1.3h-1.3zM292.1 458.0h1.3v1.3h-1.3zM292.3 493.4h1.3v1.3h-1.3zM292.5 495.0h1.3v1.3h-1.3zM292.7 493.5h1.3v1.3h-1.3zM292.9 493.9h1.3v1.3h-1.3zM293.1 491.1h1.3v1.3h-1.3zM293.3 487.6h1.3v1.3h-1.3zM293.5 496.4h1.3v1.3h-1.3zM293.7 485.4h1.3v1.3h-1.3zM293.9 491.6h1.3v1.3h-1.3zM294.1 496.3h1.3v1.3h-1.3zM294.3 480.4h1.3v1.3h-1.3zM294.5 457.5h1.3v1.3h-1.3zM294.7 493.8h1.3v1.3h-1.3zM294.9 492.3h1.3v1.3h-1.3zM295.1 474.4h1.3v1.3h-1.3zM295.3 491.3h1.3v1.3h-1.3zM295.5 481.1h1.3v1.3h-1.3zM295.7 494.2h1.3v1.3h-1.3zM295.9 485.9h1.3v1.3h-1.3zM296.1 490.2h1.3v1.3h-1.3zM296.3 481.0h1.3v1.3h-1.3zM296.5 478.5h1.3v1.3h-1.3zM296.7 489.9h1.3v1.3h-1.3zM296.9 494.5h1.3v1.3h-1.3zM297.1 479.8h1.3v1.3h-1.3zM297.3 482.8h1.3v1.3h-1.3zM297.5 495.6h1.3v1.3h-1.3zM297.7 493.7h1.3v1.3h-1.3zM297.9 479.5h1.3v1.3h-1.3zM298.1 476.0h1.3v1.3h-1.3zM298.3 493.7h1.3v1.3h-1.3zM298.5 476.6h1.3v1.3h-1.3zM298.7 490.5h1.3v1.3h-1.3zM298.9 481.7h1.3v1.3h-1.3zM299.1 491.2h1.3v1.3h-1.3zM299.3 493.8h1.3v1.3h-1.3zM299.5 482.6h1.3v1.3h-1.3zM299.7 431.2h1.3v1.3h-1.3zM299.9 489.9h1.3v1.3h-1.3zM300.1 488.5h1.3v1.3h-1.3zM300.3 492.1h1.3v1.3h-1.3zM300.5 488.3h1.3v1.3h-1.3zM300.7 493.0h1.3v1.3h-1.3zM300.9 462.7h1.3v1.3h-1.3zM301.2 492.7h1.3v1.3h-1.3zM301.4 488.5h1.3v1.3h-1.3zM301.6 488.2h1.3v1.3h-1.3zM301.8 492.6h1.3v1.3h-1.3zM302.0 487.1h1.3v1.3h-1.3zM302.2 487.8h1.3v1.3h-1.3zM302.4 482.5h1.3v1.3h-1.3zM302.6 492.6h1.3v1.3h-1.3zM302.8 492.9h1.3v1.3h-1.3zM303.0 494.3h1.3v1.3h-1.3zM303.2 493.2h1.3v1.3h-1.3zM303.4 482.6h1.3v1.3h-1.3zM303.6 493.8h1.3v1.3h-1.3zM303.8 495.2h1.3v1.3h-1.3zM304.0 466.1h1.3v1.3h-1.3zM304.2 492.5h1.3v1.3h-1.3zM304.4 491.1h1.3v1.3h-1.3zM304.6 462.0h1.3v1.3h-1.3zM304.8 463.9h1.3v1.3h-1.3zM305.0 472.9h1.3v1.3h-1.3zM305.2 492.4h1.3v1.3h-1.3zM305.4 487.6h1.3v1.3h-1.3zM305.6 489.6h1.3v1.3h-1.3zM305.8 473.4h1.3v1.3h-1.3zM306.0 490.2h1.3v1.3h-1.3zM306.2 462.6h1.3v1.3h-1.3zM306.4 491.1h1.3v1.3h-1.3zM306.6 493.1h1.3v1.3h-1.3zM306.8 494.0h1.3v1.3h-1.3zM307.0 486.1h1.3v1.3h-1.3zM307.2 488.1h1.3v1.3h-1.3zM307.4 486.1h1.3v1.3h-1.3zM307.6 493.5h1.3v1.3h-1.3zM307.8 490.7h1.3v1.3h-1.3zM308.0 492.5h1.3v1.3h-1.3zM308.2 469.9h1.3v1.3h-1.3zM308.4 477.2h1.3v1.3h-1.3zM308.6 431.8h1.3v1.3h-1.3zM308.8 484.8h1.3v1.3h-1.3zM309.0 462.1h1.3v1.3h-1.3zM309.2 483.2h1.3v1.3h-1.3zM309.4 486.6h1.3v1.3h-1.3zM309.6 493.5h1.3v1.3h-1.3zM309.8 489.7h1.3v1.3h-1.3zM310.0 458.1h1.3v1.3h-1.3zM310.2 491.8h1.3v1.3h-1.3zM310.4 487.1h1.3v1.3h-1.3zM310.6 494.1h1.3v1.3h-1.3zM310.8 491.4h1.3v1.3h-1.3zM311.0 483.9h1.3v1.3h-1.3zM311.3 479.0h1.3v1.3h-1.3zM311.5 488.7h1.3v1.3h-1.3zM311.7 491.3h1.3v1.3h-1.3zM311.9 484.4h1.3v1.3h-1.3zM312.1 471.8h1.3v1.3h-1.3zM312.3 492.1h1.3v1.3h-1.3zM312.5 483.4h1.3v1.3h-1.3zM312.7 494.8h1.3v1.3h-1.3zM312.9 493.1h1.3v1.3h-1.3zM313.1 461.0h1.3v1.3h-1.3zM313.3 487.4h1.3v1.3h-1.3zM313.5 467.4h1.3v1.3h-1.3zM313.7 493.4h1.3v1.3h-1.3zM313.9 479.5h1.3v1.3h-1.3zM314.1 468.8h1.3v1.3h-1.3zM314.3 480.8h1.3v1.3h-1.3zM314.5 494.7h1.3v1.3h-1.3zM314.7 488.8h1.3v1.3h-1.3zM314.9 486.9h1.3v1.3h-1.3zM315.1 492.9h1.3v1.3h-1.3zM315.3 492.6h1.3v1.3h-1.3zM315.5 481.9h1.3v1.3h-1.3zM315.7 483.4h1.3v1.3h-1.3zM315.9 477.4h1.3v1.3h-1.3zM316.1 493.8h1.3v1.3h-1.3zM316.3 485.3h1.3v1.3h-1.3zM316.5 491.8h1.3v1.3h-1.3zM316.7 470.3h1.3v1.3h-1.3zM316.9 482.7h1.3v1.3h-1.3zM317.1 471.1h1.3v1.3h-1.3zM317.3 493.1h1.3v1.3h-1.3zM317.5 480.6h1.3v1.3h-1.3zM317.7 477.3h1.3v1.3h-1.3zM317.9 491.9h1.3v1.3h-1.3zM318.1 491.9h1.3v1.3h-1.3zM318.3 494.1h1.3v1.3h-1.3zM318.5 492.7h1.3v1.3h-1.3zM318.7 491.9h1.3v1.3h-1.3zM318.9 493.6h1.3v1.3h-1.3zM319.1 488.6h1.3v1.3h-1.3zM319.3 487.3h1.3v1.3h-1.3zM319.5 492.3h1.3v1.3h-1.3zM319.7 488.2h1.3v1.3h-1.3zM319.9 492.1h1.3v1.3h-1.3zM320.1 493.3h1.3v1.3h-1.3zM320.3 491.0h1.3v1.3h-1.3zM320.5 490.7h1.3v1.3h-1.3zM320.7 487.2h1.3v1.3h-1.3zM320.9 487.2h1.3v1.3h-1.3zM321.1 457.6h1.3v1.3h-1.3zM321.4 470.3h1.3v1.3h-1.3zM321.6 495.5h1.3v1.3h-1.3zM321.8 482.6h1.3v1.3h-1.3zM322.0 487.0h1.3v1.3h-1.3zM322.2 489.8h1.3v1.3h-1.3zM322.4 493.7h1.3v1.3h-1.3zM322.6 491.6h1.3v1.3h-1.3zM322.8 490.9h1.3v1.3h-1.3zM323.0 490.4h1.3v1.3h-1.3zM323.2 491.3h1.3v1.3h-1.3zM323.4 487.9h1.3v1.3h-1.3zM323.6 471.5h1.3v1.3h-1.3zM323.8 494.1h1.3v1.3h-1.3zM324.0 492.7h1.3v1.3h-1.3zM324.2 492.3h1.3v1.3h-1.3zM324.4 481.0h1.3v1.3h-1.3zM324.6 491.4h1.3v1.3h-1.3zM324.8 490.0h1.3v1.3h-1.3zM325.0 483.7h1.3v1.3h-1.3zM325.2 492.8h1.3v1.3h-1.3zM325.4 467.5h1.3v1.3h-1.3zM325.6 489.7h1.3v1.3h-1.3zM325.8 472.9h1.3v1.3h-1.3zM326.0 493.1h1.3v1.3h-1.3zM326.2 492.8h1.3v1.3h-1.3zM326.4 492.2h1.3v1.3h-1.3zM326.6 479.7h1.3v1.3h-1.3zM326.8 472.1h1.3v1.3h-1.3zM327.0 491.5h1.3v1.3h-1.3zM327.2 493.2h1.3v1.3h-1.3zM327.4 463.9h1.3v1.3h-1.3zM327.6 474.3h1.3v1.3h-1.3zM327.8 469.2h1.3v1.3h-1.3zM328.0 484.7h1.3v1.3h-1.3zM328.2 494.2h1.3v1.3h-1.3zM328.4 476.9h1.3v1.3h-1.3zM328.6 487.3h1.3v1.3h-1.3zM328.8 491.5h1.3v1.3h-1.3zM329.0 492.5h1.3v1.3h-1.3zM329.2 488.2h1.3v1.3h-1.3zM329.4 489.3h1.3v1.3h-1.3zM329.6 493.1h1.3v1.3h-1.3zM329.8 494.3h1.3v1.3h-1.3zM330.0 491.7h1.3v1.3h-1.3zM330.2 493.0h1.3v1.3h-1.3zM330.4 485.3h1.3v1.3h-1.3zM330.6 467.1h1.3v1.3h-1.3zM330.8 493.6h1.3v1.3h-1.3zM331.0 480.8h1.3v1.3h-1.3zM331.2 476.9h1.3v1.3h-1.3zM331.5 482.3h1.3v1.3h-1.3zM331.7 493.4h1.3v1.3h-1.3zM331.9 465.1h1.3v1.3h-1.3zM332.1 490.7h1.3v1.3h-1.3zM332.3 490.9h1.3v1.3h-1.3zM332.5 477.4h1.3v1.3h-1.3zM332.7 475.9h1.3v1.3h-1.3zM332.9 471.8h1.3v1.3h-1.3zM333.1 482.6h1.3v1.3h-1.3zM333.3 492.7h1.3v1.3h-1.3zM333.5 467.6h1.3v1.3h-1.3zM333.7 489.8h1.3v1.3h-1.3zM333.9 492.2h1.3v1.3h-1.3zM334.1 488.3h1.3v1.3h-1.3zM334.3 479.9h1.3v1.3h-1.3zM334.5 493.5h1.3v1.3h-1.3zM334.7 483.9h1.3v1.3h-1.3zM334.9 485.7h1.3v1.3h-1.3zM335.1 492.0h1.3v1.3h-1.3zM335.3 479.8h1.3v1.3h-1.3zM335.5 491.3h1.3v1.3h-1.3zM335.7 492.3h1.3v1.3h-1.3zM335.9 476.2h1.3v1.3h-1.3zM336.1 492.6h1.3v1.3h-1.3zM336.3 473.1h1.3v1.3h-1.3zM336.5 493.8h1.3v1.3h-1.3zM336.7 495.4h1.3v1.3h-1.3zM336.9 493.1h1.3v1.3h-1.3zM337.1 487.5h1.3v1.3h-1.3zM337.3 493.3h1.3v1.3h-1.3zM337.5 470.1h1.3v1.3h-1.3zM337.7 489.2h1.3v1.3h-1.3zM337.9 482.6h1.3v1.3h-1.3zM338.1 490.1h1.3v1.3h-1.3zM338.3 458.6h1.3v1.3h-1.3zM338.5 436.3h1.3v1.3h-1.3zM338.7 489.9h1.3v1.3h-1.3zM338.9 492.5h1.3v1.3h-1.3zM339.1 491.1h1.3v1.3h-1.3zM339.3 492.8h1.3v1.3h-1.3zM339.5 467.9h1.3v1.3h-1.3zM339.7 493.0h1.3v1.3h-1.3zM339.9 492.6h1.3v1.3h-1.3zM340.1 486.5h1.3v1.3h-1.3zM340.3 489.1h1.3v1.3h-1.3zM340.5 488.3h1.3v1.3h-1.3zM340.7 492.7h1.3v1.3h-1.3zM340.9 492.8h1.3v1.3h-1.3zM341.1 482.3h1.3v1.3h-1.3zM341.3 487.5h1.3v1.3h-1.3zM341.6 477.1h1.3v1.3h-1.3zM341.8 492.8h1.3v1.3h-1.3zM342.0 489.9h1.3v1.3h-1.3zM342.2 479.3h1.3v1.3h-1.3zM342.4 491.9h1.3v1.3h-1.3zM342.6 462.6h1.3v1.3h-1.3zM342.8 478.8h1.3v1.3h-1.3zM343.0 468.3h1.3v1.3h-1.3zM343.2 493.0h1.3v1.3h-1.3zM343.4 493.5h1.3v1.3h-1.3zM343.6 470.0h1.3v1.3h-1.3zM343.8 492.2h1.3v1.3h-1.3zM344.0 488.4h1.3v1.3h-1.3zM344.2 485.4h1.3v1.3h-1.3zM344.4 492.2h1.3v1.3h-1.3zM344.6 478.5h1.3v1.3h-1.3zM344.8 493.0h1.3v1.3h-1.3zM345.0 491.9h1.3v1.3h-1.3zM345.2 494.7h1.3v1.3h-1.3zM345.4 475.9h1.3v1.3h-1.3zM345.6 493.5h1.3v1.3h-1.3zM345.8 494.5h1.3v1.3h-1.3zM346.0 490.2h1.3v1.3h-1.3zM346.2 484.1h1.3v1.3h-1.3zM346.4 483.4h1.3v1.3h-1.3zM346.6 492.5h1.3v1.3h-1.3zM190.5 408.1h1.3v1.3h-1.3zM114.5 440.3h1.3v1.3h-1.3zM112.0 446.8h1.3v1.3h-1.3zM184.0 442.3h1.3v1.3h-1.3zM245.0 442.8h1.3v1.3h-1.3z" class="dot"/>
<polyline points="47.6,489.2 51.1,485.8 55.2,483.7 60.1,482.3 62.9,483.0 67.7,481.2 71.9,482.3 76.7,483.7 80.9,486.5 84.3,483.7 88.5,483.3 92.0,481.6 95.4,484.4 99.6,483.0 103.7,482.7 107.9,483.0 112.0,486.5 116.2,483.0 120.4,485.8 123.8,483.3 128.0,486.5 132.1,485.8 137.0,485.5 140.4,483.7 143.9,487.2 148.1,484.4 151.9,483.0 155.4,487.2 158.9,486.5 163.0,486.5 167.2,485.8 172.7,484.4 176.9,483.0 181.0,482.3 185.2,483.0 189.3,483.7 193.5,485.1 197.6,484.4 201.8,485.8 206.0,485.8 210.1,485.1 213.6,484.4 217.0,483.3 221.2,485.5 225.4,485.1 229.5,484.4 233.7,483.7 237.1,481.6 241.3,480.5 244.8,483.0 248.9,483.0 254.4,482.7 261.1,481.6 265.9,483.7 270.1,485.1 274.9,482.3 278.4,484.4 282.6,487.2 286.7,486.5 291.6,485.1 295.7,485.8 299.9,486.1 304.0,483.7 306.8,482.3 310.3,480.5 313.7,482.3 317.9,485.1 322.0,483.0 326.2,481.3 330.4,481.3 334.5,482.3 338.7,483.7 342.1,482.3 345.6,484.4" class="avg" stroke-width="1.2"/>
<text x="107.2" y="335.8" class="ov" text-anchor="middle">Speed: 2.5m/s</text>
<text x="107.2" y="348.8" class="ov" text-anchor="middle">Learning rate: 0.005</text>
<text x="107.2" y="361.7" class="ov" text-anchor="middle">Epochs: 10</text>
<text x="107.2" y="374.6" class="ov" text-anchor="middle">Batch size: 64</text>
<text x="107.2" y="387.6" class="ov" text-anchor="middle">Time trained: 2 hrs</text>
<text x="433.1" y="300.2" class="ttl">Reward graph</text>
<path d="M772.10 297.30A3.45 3.45 0 1 1 770.32 293.65" fill="none" stroke="#333c47" stroke-width="1.25"/>
<path d="M772.60 292.40V295.50H769.50z" fill="#333c47"/>
<path d="M452.2 326.6H757.2" class="grid"/>
<path d="M452.2 368.4H757.2" class="grid"/>
<path d="M452.2 410.2H757.2" class="grid"/>
<path d="M452.2 452.0H757.2" class="grid"/>
<path d="M452.2 493.8H757.2M757.2 326.6V493.8" class="axis"/>
<text x="454.6" y="503.9" class="tl" text-anchor="middle">0</text>
<text x="517.0" y="503.9" class="tl" text-anchor="middle">200</text>
<text x="579.5" y="503.9" class="tl" text-anchor="middle">400</text>
<text x="641.9" y="503.9" class="tl" text-anchor="middle">600</text>
<text x="704.4" y="503.9" class="tl" text-anchor="middle">800</text>
<path d="M454.6 493.8v3.8M517.0 493.8v3.8M579.5 493.8v3.8M641.9 493.8v3.8M704.4 493.8v3.8" class="axis"/>
<text x="765.5" y="496.0" class="tl">0</text>
<text x="765.5" y="454.2" class="tl">25</text>
<text x="765.5" y="412.4" class="tl">50</text>
<text x="765.5" y="370.6" class="tl">75</text>
<text x="765.5" y="328.8" class="tl">100</text>
<text transform="translate(445.9 410.2) rotate(-90)" class="tl" text-anchor="middle">Reward</text>
<text transform="translate(781 410.2) rotate(90)" class="tl" text-anchor="middle" textLength="115" lengthAdjust="spacing">Progress (percentage track completion)</text>
<text x="604.7" y="513.4" class="tl" text-anchor="middle">Episode</text>
<path d="M454.9 480.8h1.3v1.3h-1.3zM455.2 488.9h1.3v1.3h-1.3zM455.5 475.2h1.3v1.3h-1.3zM455.8 475.3h1.3v1.3h-1.3zM456.2 463.8h1.3v1.3h-1.3zM456.5 490.6h1.3v1.3h-1.3zM456.8 489.8h1.3v1.3h-1.3zM457.1 491.5h1.3v1.3h-1.3zM457.4 487.0h1.3v1.3h-1.3zM457.7 476.1h1.3v1.3h-1.3zM458.0 491.4h1.3v1.3h-1.3zM458.3 477.0h1.3v1.3h-1.3zM458.7 477.9h1.3v1.3h-1.3zM459.0 487.5h1.3v1.3h-1.3zM459.3 475.6h1.3v1.3h-1.3zM459.6 488.9h1.3v1.3h-1.3zM459.9 471.8h1.3v1.3h-1.3zM460.2 488.1h1.3v1.3h-1.3zM460.5 463.7h1.3v1.3h-1.3zM460.8 483.3h1.3v1.3h-1.3zM461.2 489.4h1.3v1.3h-1.3zM461.5 463.1h1.3v1.3h-1.3zM461.8 476.3h1.3v1.3h-1.3zM462.1 486.3h1.3v1.3h-1.3zM462.4 487.8h1.3v1.3h-1.3zM462.7 486.0h1.3v1.3h-1.3zM463.0 490.5h1.3v1.3h-1.3zM463.3 477.3h1.3v1.3h-1.3zM463.7 485.7h1.3v1.3h-1.3zM464.0 478.9h1.3v1.3h-1.3zM464.3 486.2h1.3v1.3h-1.3zM464.6 490.1h1.3v1.3h-1.3zM464.9 485.5h1.3v1.3h-1.3zM465.2 486.2h1.3v1.3h-1.3zM465.5 490.0h1.3v1.3h-1.3zM465.8 488.4h1.3v1.3h-1.3zM466.2 486.3h1.3v1.3h-1.3zM466.5 484.4h1.3v1.3h-1.3zM466.8 441.3h1.3v1.3h-1.3zM467.1 463.1h1.3v1.3h-1.3zM467.4 468.7h1.3v1.3h-1.3zM467.7 486.8h1.3v1.3h-1.3zM468.0 478.9h1.3v1.3h-1.3zM468.3 489.0h1.3v1.3h-1.3zM468.6 475.2h1.3v1.3h-1.3zM469.0 473.4h1.3v1.3h-1.3zM469.3 477.3h1.3v1.3h-1.3zM469.6 478.5h1.3v1.3h-1.3zM469.9 488.3h1.3v1.3h-1.3zM470.2 452.1h1.3v1.3h-1.3zM470.5 486.1h1.3v1.3h-1.3zM470.8 483.3h1.3v1.3h-1.3zM471.1 488.2h1.3v1.3h-1.3zM471.5 467.2h1.3v1.3h-1.3zM471.8 481.2h1.3v1.3h-1.3zM472.1 487.9h1.3v1.3h-1.3zM472.4 476.6h1.3v1.3h-1.3zM472.7 487.4h1.3v1.3h-1.3zM473.0 486.5h1.3v1.3h-1.3zM473.3 486.0h1.3v1.3h-1.3zM473.6 475.8h1.3v1.3h-1.3zM474.0 481.5h1.3v1.3h-1.3zM474.3 486.1h1.3v1.3h-1.3zM474.6 485.1h1.3v1.3h-1.3zM474.9 488.4h1.3v1.3h-1.3zM475.2 484.1h1.3v1.3h-1.3zM475.5 484.7h1.3v1.3h-1.3zM475.8 491.9h1.3v1.3h-1.3zM476.1 463.1h1.3v1.3h-1.3zM476.5 485.1h1.3v1.3h-1.3zM476.8 480.2h1.3v1.3h-1.3zM477.1 492.0h1.3v1.3h-1.3zM477.4 489.4h1.3v1.3h-1.3zM477.7 476.7h1.3v1.3h-1.3zM478.0 473.8h1.3v1.3h-1.3zM478.3 478.1h1.3v1.3h-1.3zM478.6 489.4h1.3v1.3h-1.3zM479.0 487.5h1.3v1.3h-1.3zM479.3 487.0h1.3v1.3h-1.3zM479.6 490.0h1.3v1.3h-1.3zM479.9 491.5h1.3v1.3h-1.3zM480.2 472.6h1.3v1.3h-1.3zM480.5 486.4h1.3v1.3h-1.3zM480.8 482.1h1.3v1.3h-1.3zM481.1 491.0h1.3v1.3h-1.3zM481.4 478.6h1.3v1.3h-1.3zM481.8 490.9h1.3v1.3h-1.3zM482.1 473.2h1.3v1.3h-1.3zM482.4 468.5h1.3v1.3h-1.3zM482.7 474.9h1.3v1.3h-1.3zM483.0 485.9h1.3v1.3h-1.3zM483.3 483.7h1.3v1.3h-1.3zM483.6 489.4h1.3v1.3h-1.3zM483.9 455.1h1.3v1.3h-1.3zM484.3 478.9h1.3v1.3h-1.3zM484.6 487.8h1.3v1.3h-1.3zM484.9 481.2h1.3v1.3h-1.3zM485.2 489.3h1.3v1.3h-1.3zM485.5 491.3h1.3v1.3h-1.3zM485.8 471.6h1.3v1.3h-1.3zM486.1 487.0h1.3v1.3h-1.3zM486.4 479.8h1.3v1.3h-1.3zM486.8 470.1h1.3v1.3h-1.3zM487.1 469.6h1.3v1.3h-1.3zM487.4 490.7h1.3v1.3h-1.3zM487.7 478.7h1.3v1.3h-1.3zM488.0 482.4h1.3v1.3h-1.3zM488.3 487.6h1.3v1.3h-1.3zM488.6 456.4h1.3v1.3h-1.3zM488.9 462.9h1.3v1.3h-1.3zM489.3 491.1h1.3v1.3h-1.3zM489.6 481.8h1.3v1.3h-1.3zM489.9 483.4h1.3v1.3h-1.3zM490.2 462.5h1.3v1.3h-1.3zM490.5 475.6h1.3v1.3h-1.3zM490.8 480.6h1.3v1.3h-1.3zM491.1 485.9h1.3v1.3h-1.3zM491.4 489.6h1.3v1.3h-1.3zM491.8 491.6h1.3v1.3h-1.3zM492.1 490.3h1.3v1.3h-1.3zM492.4 486.5h1.3v1.3h-1.3zM492.7 399.3h1.3v1.3h-1.3zM493.0 478.0h1.3v1.3h-1.3zM493.3 489.9h1.3v1.3h-1.3zM493.6 460.9h1.3v1.3h-1.3zM493.9 475.3h1.3v1.3h-1.3zM494.2 468.1h1.3v1.3h-1.3zM494.6 487.6h1.3v1.3h-1.3zM494.9 463.7h1.3v1.3h-1.3zM495.2 449.2h1.3v1.3h-1.3zM495.5 455.6h1.3v1.3h-1.3zM495.8 463.0h1.3v1.3h-1.3zM496.1 470.2h1.3v1.3h-1.3zM496.4 483.9h1.3v1.3h-1.3zM496.7 489.6h1.3v1.3h-1.3zM497.1 486.7h1.3v1.3h-1.3zM497.4 465.0h1.3v1.3h-1.3zM497.7 485.9h1.3v1.3h-1.3zM498.0 488.7h1.3v1.3h-1.3zM498.3 482.2h1.3v1.3h-1.3zM498.6 487.3h1.3v1.3h-1.3zM498.9 481.1h1.3v1.3h-1.3zM499.2 480.9h1.3v1.3h-1.3zM499.6 484.7h1.3v1.3h-1.3zM499.9 454.6h1.3v1.3h-1.3zM500.2 456.6h1.3v1.3h-1.3zM500.5 485.3h1.3v1.3h-1.3zM500.8 491.5h1.3v1.3h-1.3zM501.1 474.1h1.3v1.3h-1.3zM501.4 477.0h1.3v1.3h-1.3zM501.7 474.9h1.3v1.3h-1.3zM502.1 471.0h1.3v1.3h-1.3zM502.4 473.3h1.3v1.3h-1.3zM502.7 453.3h1.3v1.3h-1.3zM503.0 485.9h1.3v1.3h-1.3zM503.3 484.7h1.3v1.3h-1.3zM503.6 454.2h1.3v1.3h-1.3zM503.9 460.8h1.3v1.3h-1.3zM504.2 468.1h1.3v1.3h-1.3zM504.6 445.8h1.3v1.3h-1.3zM504.9 467.8h1.3v1.3h-1.3zM505.2 451.5h1.3v1.3h-1.3zM505.5 482.8h1.3v1.3h-1.3zM505.8 468.8h1.3v1.3h-1.3zM506.1 486.9h1.3v1.3h-1.3zM506.4 473.7h1.3v1.3h-1.3zM506.7 475.4h1.3v1.3h-1.3zM507.0 469.2h1.3v1.3h-1.3zM507.4 469.0h1.3v1.3h-1.3zM507.7 481.5h1.3v1.3h-1.3zM508.0 471.2h1.3v1.3h-1.3zM508.3 442.9h1.3v1.3h-1.3zM508.6 456.5h1.3v1.3h-1.3zM508.9 458.4h1.3v1.3h-1.3zM509.2 449.7h1.3v1.3h-1.3zM509.5 487.3h1.3v1.3h-1.3zM509.9 438.2h1.3v1.3h-1.3zM510.2 453.7h1.3v1.3h-1.3zM510.5 477.0h1.3v1.3h-1.3zM510.8 477.3h1.3v1.3h-1.3zM511.1 460.6h1.3v1.3h-1.3zM511.4 482.9h1.3v1.3h-1.3zM511.7 429.9h1.3v1.3h-1.3zM512.0 474.1h1.3v1.3h-1.3zM512.4 446.2h1.3v1.3h-1.3zM512.7 415.6h1.3v1.3h-1.3zM513.0 475.0h1.3v1.3h-1.3zM513.3 437.5h1.3v1.3h-1.3zM513.6 465.4h1.3v1.3h-1.3zM513.9 469.3h1.3v1.3h-1.3zM514.2 479.3h1.3v1.3h-1.3zM514.5 467.7h1.3v1.3h-1.3zM514.9 482.5h1.3v1.3h-1.3zM515.2 467.8h1.3v1.3h-1.3zM515.5 456.7h1.3v1.3h-1.3zM515.8 453.0h1.3v1.3h-1.3zM516.1 473.1h1.3v1.3h-1.3zM516.4 469.0h1.3v1.3h-1.3zM516.7 481.8h1.3v1.3h-1.3zM517.0 451.5h1.3v1.3h-1.3zM517.4 491.3h1.3v1.3h-1.3zM517.7 487.0h1.3v1.3h-1.3zM518.0 469.7h1.3v1.3h-1.3zM518.3 483.0h1.3v1.3h-1.3zM518.6 469.8h1.3v1.3h-1.3zM518.9 445.1h1.3v1.3h-1.3zM519.2 473.6h1.3v1.3h-1.3zM519.5 488.4h1.3v1.3h-1.3zM519.8 419.1h1.3v1.3h-1.3zM520.2 450.9h1.3v1.3h-1.3zM520.5 489.1h1.3v1.3h-1.3zM520.8 471.9h1.3v1.3h-1.3zM521.1 481.4h1.3v1.3h-1.3zM521.4 469.4h1.3v1.3h-1.3zM521.7 488.9h1.3v1.3h-1.3zM522.0 466.5h1.3v1.3h-1.3zM522.3 471.0h1.3v1.3h-1.3zM522.7 485.3h1.3v1.3h-1.3zM523.0 427.0h1.3v1.3h-1.3zM523.3 453.2h1.3v1.3h-1.3zM523.6 482.7h1.3v1.3h-1.3zM523.9 476.3h1.3v1.3h-1.3zM524.2 477.7h1.3v1.3h-1.3zM524.5 459.0h1.3v1.3h-1.3zM524.8 433.6h1.3v1.3h-1.3zM525.2 461.0h1.3v1.3h-1.3zM525.5 468.6h1.3v1.3h-1.3zM525.8 469.1h1.3v1.3h-1.3zM526.1 442.9h1.3v1.3h-1.3zM526.4 404.1h1.3v1.3h-1.3zM526.7 450.8h1.3v1.3h-1.3zM527.0 476.5h1.3v1.3h-1.3zM527.3 439.5h1.3v1.3h-1.3zM527.7 471.7h1.3v1.3h-1.3zM528.0 483.4h1.3v1.3h-1.3zM528.3 481.7h1.3v1.3h-1.3zM528.6 474.1h1.3v1.3h-1.3zM528.9 409.7h1.3v1.3h-1.3zM529.2 449.1h1.3v1.3h-1.3zM529.5 486.1h1.3v1.3h-1.3zM529.8 467.8h1.3v1.3h-1.3zM530.2 479.0h1.3v1.3h-1.3zM530.5 479.7h1.3v1.3h-1.3zM530.8 485.3h1.3v1.3h-1.3zM531.1 458.7h1.3v1.3h-1.3zM531.4 489.1h1.3v1.3h-1.3zM531.7 470.4h1.3v1.3h-1.3zM532.0 481.2h1.3v1.3h-1.3zM532.3 451.9h1.3v1.3h-1.3zM532.6 491.8h1.3v1.3h-1.3zM533.0 474.4h1.3v1.3h-1.3zM533.3 447.1h1.3v1.3h-1.3zM533.6 456.9h1.3v1.3h-1.3zM533.9 476.0h1.3v1.3h-1.3zM534.2 453.5h1.3v1.3h-1.3zM534.5 488.5h1.3v1.3h-1.3zM534.8 481.8h1.3v1.3h-1.3zM535.1 415.3h1.3v1.3h-1.3zM535.5 485.1h1.3v1.3h-1.3zM535.8 486.8h1.3v1.3h-1.3zM536.1 410.7h1.3v1.3h-1.3zM536.4 442.6h1.3v1.3h-1.3zM536.7 477.5h1.3v1.3h-1.3zM537.0 481.1h1.3v1.3h-1.3zM537.3 425.4h1.3v1.3h-1.3zM537.6 427.8h1.3v1.3h-1.3zM538.0 468.4h1.3v1.3h-1.3zM538.3 447.9h1.3v1.3h-1.3zM538.6 474.2h1.3v1.3h-1.3zM538.9 468.2h1.3v1.3h-1.3zM539.2 454.5h1.3v1.3h-1.3zM539.5 477.8h1.3v1.3h-1.3zM539.8 451.0h1.3v1.3h-1.3zM540.1 438.4h1.3v1.3h-1.3zM540.5 477.0h1.3v1.3h-1.3zM540.8 487.2h1.3v1.3h-1.3zM541.1 485.2h1.3v1.3h-1.3zM541.4 477.0h1.3v1.3h-1.3zM541.7 471.2h1.3v1.3h-1.3zM542.0 461.1h1.3v1.3h-1.3zM542.3 482.8h1.3v1.3h-1.3zM542.6 480.1h1.3v1.3h-1.3zM543.0 482.3h1.3v1.3h-1.3zM543.3 469.7h1.3v1.3h-1.3zM543.6 457.2h1.3v1.3h-1.3zM543.9 474.9h1.3v1.3h-1.3zM544.2 462.9h1.3v1.3h-1.3zM544.5 481.1h1.3v1.3h-1.3zM544.8 463.0h1.3v1.3h-1.3zM545.1 463.7h1.3v1.3h-1.3zM545.5 436.3h1.3v1.3h-1.3zM545.8 433.4h1.3v1.3h-1.3zM546.1 483.0h1.3v1.3h-1.3zM546.4 469.7h1.3v1.3h-1.3zM546.7 459.9h1.3v1.3h-1.3zM547.0 471.8h1.3v1.3h-1.3zM547.3 479.4h1.3v1.3h-1.3zM547.6 461.8h1.3v1.3h-1.3zM547.9 459.6h1.3v1.3h-1.3zM548.3 485.4h1.3v1.3h-1.3zM548.6 447.2h1.3v1.3h-1.3zM548.9 467.2h1.3v1.3h-1.3zM549.2 464.0h1.3v1.3h-1.3zM549.5 478.5h1.3v1.3h-1.3zM549.8 463.7h1.3v1.3h-1.3zM550.1 457.4h1.3v1.3h-1.3zM550.4 470.1h1.3v1.3h-1.3zM550.8 472.6h1.3v1.3h-1.3zM551.1 475.5h1.3v1.3h-1.3zM551.4 479.0h1.3v1.3h-1.3zM551.7 443.6h1.3v1.3h-1.3zM552.0 434.4h1.3v1.3h-1.3zM552.3 465.6h1.3v1.3h-1.3zM552.6 482.6h1.3v1.3h-1.3zM552.9 465.9h1.3v1.3h-1.3zM553.3 462.1h1.3v1.3h-1.3zM553.6 471.8h1.3v1.3h-1.3zM553.9 466.5h1.3v1.3h-1.3zM554.2 400.0h1.3v1.3h-1.3zM554.5 479.0h1.3v1.3h-1.3zM554.8 476.0h1.3v1.3h-1.3zM555.1 471.3h1.3v1.3h-1.3zM555.4 487.6h1.3v1.3h-1.3zM555.8 458.2h1.3v1.3h-1.3zM556.1 434.3h1.3v1.3h-1.3zM556.4 477.0h1.3v1.3h-1.3zM556.7 478.8h1.3v1.3h-1.3zM557.0 444.0h1.3v1.3h-1.3zM557.3 476.7h1.3v1.3h-1.3zM557.6 470.0h1.3v1.3h-1.3zM557.9 443.7h1.3v1.3h-1.3zM558.3 455.9h1.3v1.3h-1.3zM558.6 448.8h1.3v1.3h-1.3zM558.9 478.5h1.3v1.3h-1.3zM559.2 480.2h1.3v1.3h-1.3zM559.5 455.1h1.3v1.3h-1.3zM559.8 450.7h1.3v1.3h-1.3zM560.1 488.4h1.3v1.3h-1.3zM560.4 470.4h1.3v1.3h-1.3zM560.7 463.7h1.3v1.3h-1.3zM561.1 461.0h1.3v1.3h-1.3zM561.4 483.6h1.3v1.3h-1.3zM561.7 466.9h1.3v1.3h-1.3zM562.0 439.5h1.3v1.3h-1.3zM562.3 480.5h1.3v1.3h-1.3zM562.6 470.8h1.3v1.3h-1.3zM562.9 477.1h1.3v1.3h-1.3zM563.2 487.6h1.3v1.3h-1.3zM563.6 457.6h1.3v1.3h-1.3zM563.9 448.8h1.3v1.3h-1.3zM564.2 488.2h1.3v1.3h-1.3zM564.5 478.7h1.3v1.3h-1.3zM564.8 436.4h1.3v1.3h-1.3zM565.1 467.5h1.3v1.3h-1.3zM565.4 422.1h1.3v1.3h-1.3zM565.7 483.7h1.3v1.3h-1.3zM566.1 430.8h1.3v1.3h-1.3zM566.4 455.3h1.3v1.3h-1.3zM566.7 491.7h1.3v1.3h-1.3zM567.0 468.4h1.3v1.3h-1.3zM567.3 468.8h1.3v1.3h-1.3zM567.6 468.9h1.3v1.3h-1.3zM567.9 481.4h1.3v1.3h-1.3zM568.2 473.5h1.3v1.3h-1.3zM568.6 487.6h1.3v1.3h-1.3zM568.9 478.4h1.3v1.3h-1.3zM569.2 441.7h1.3v1.3h-1.3zM569.5 429.0h1.3v1.3h-1.3zM569.8 461.4h1.3v1.3h-1.3zM570.1 409.9h1.3v1.3h-1.3zM570.4 482.8h1.3v1.3h-1.3zM570.7 400.3h1.3v1.3h-1.3zM571.1 475.1h1.3v1.3h-1.3zM571.4 486.7h1.3v1.3h-1.3zM571.7 460.1h1.3v1.3h-1.3zM572.0 433.6h1.3v1.3h-1.3zM572.3 453.6h1.3v1.3h-1.3zM572.6 436.0h1.3v1.3h-1.3zM572.9 467.1h1.3v1.3h-1.3zM573.2 477.2h1.3v1.3h-1.3zM573.5 458.9h1.3v1.3h-1.3zM573.9 436.9h1.3v1.3h-1.3zM574.2 463.0h1.3v1.3h-1.3zM574.5 456.9h1.3v1.3h-1.3zM574.8 406.3h1.3v1.3h-1.3zM575.1 446.8h1.3v1.3h-1.3zM575.4 426.5h1.3v1.3h-1.3zM575.7 470.2h1.3v1.3h-1.3zM576.0 434.7h1.3v1.3h-1.3zM576.4 447.8h1.3v1.3h-1.3zM576.7 488.8h1.3v1.3h-1.3zM577.0 413.3h1.3v1.3h-1.3zM577.3 456.0h1.3v1.3h-1.3zM577.6 474.9h1.3v1.3h-1.3zM577.9 460.3h1.3v1.3h-1.3zM578.2 487.1h1.3v1.3h-1.3zM578.5 478.0h1.3v1.3h-1.3zM578.9 478.5h1.3v1.3h-1.3zM579.2 446.2h1.3v1.3h-1.3zM579.5 456.0h1.3v1.3h-1.3zM579.8 477.1h1.3v1.3h-1.3zM580.1 454.8h1.3v1.3h-1.3zM580.4 472.0h1.3v1.3h-1.3zM580.7 404.3h1.3v1.3h-1.3zM581.0 462.6h1.3v1.3h-1.3zM581.4 468.0h1.3v1.3h-1.3zM581.7 463.0h1.3v1.3h-1.3zM582.0 442.8h1.3v1.3h-1.3zM582.3 451.4h1.3v1.3h-1.3zM582.6 397.1h1.3v1.3h-1.3zM582.9 471.9h1.3v1.3h-1.3zM583.2 430.8h1.3v1.3h-1.3zM583.5 403.2h1.3v1.3h-1.3zM583.9 469.7h1.3v1.3h-1.3zM584.2 464.1h1.3v1.3h-1.3zM584.5 475.0h1.3v1.3h-1.3zM584.8 474.4h1.3v1.3h-1.3zM585.1 469.7h1.3v1.3h-1.3zM585.4 491.7h1.3v1.3h-1.3zM585.7 430.6h1.3v1.3h-1.3zM586.0 403.1h1.3v1.3h-1.3zM586.3 455.0h1.3v1.3h-1.3zM586.7 464.4h1.3v1.3h-1.3zM587.0 458.9h1.3v1.3h-1.3zM587.3 441.6h1.3v1.3h-1.3zM587.6 433.0h1.3v1.3h-1.3zM587.9 473.5h1.3v1.3h-1.3zM588.2 476.7h1.3v1.3h-1.3zM588.5 482.9h1.3v1.3h-1.3zM588.8 421.6h1.3v1.3h-1.3zM589.2 488.4h1.3v1.3h-1.3zM589.5 442.2h1.3v1.3h-1.3zM589.8 468.9h1.3v1.3h-1.3zM590.1 441.7h1.3v1.3h-1.3zM590.4 416.1h1.3v1.3h-1.3zM590.7 470.8h1.3v1.3h-1.3zM591.0 467.5h1.3v1.3h-1.3zM591.3 447.5h1.3v1.3h-1.3zM591.7 458.8h1.3v1.3h-1.3zM592.0 433.0h1.3v1.3h-1.3zM592.3 447.7h1.3v1.3h-1.3zM592.6 479.2h1.3v1.3h-1.3zM592.9 482.3h1.3v1.3h-1.3zM593.2 459.5h1.3v1.3h-1.3zM593.5 485.7h1.3v1.3h-1.3zM593.8 484.8h1.3v1.3h-1.3zM594.2 477.8h1.3v1.3h-1.3zM594.5 476.0h1.3v1.3h-1.3zM594.8 457.0h1.3v1.3h-1.3zM595.1 461.5h1.3v1.3h-1.3zM595.4 471.8h1.3v1.3h-1.3zM595.7 452.4h1.3v1.3h-1.3zM596.0 426.6h1.3v1.3h-1.3zM596.3 467.6h1.3v1.3h-1.3zM596.7 467.2h1.3v1.3h-1.3zM597.0 470.3h1.3v1.3h-1.3zM597.3 466.0h1.3v1.3h-1.3zM597.6 458.6h1.3v1.3h-1.3zM597.9 458.0h1.3v1.3h-1.3zM598.2 481.1h1.3v1.3h-1.3zM598.5 481.8h1.3v1.3h-1.3zM598.8 479.2h1.3v1.3h-1.3zM599.1 426.9h1.3v1.3h-1.3zM599.5 472.8h1.3v1.3h-1.3zM599.8 467.8h1.3v1.3h-1.3zM600.1 462.5h1.3v1.3h-1.3zM600.4 414.0h1.3v1.3h-1.3zM600.7 441.4h1.3v1.3h-1.3zM601.0 452.8h1.3v1.3h-1.3zM601.3 470.5h1.3v1.3h-1.3zM601.6 452.2h1.3v1.3h-1.3zM602.0 474.1h1.3v1.3h-1.3zM602.3 404.3h1.3v1.3h-1.3zM602.6 464.3h1.3v1.3h-1.3zM602.9 460.4h1.3v1.3h-1.3zM603.2 476.9h1.3v1.3h-1.3zM603.5 430.3h1.3v1.3h-1.3zM603.8 483.4h1.3v1.3h-1.3zM604.1 433.6h1.3v1.3h-1.3zM604.5 457.1h1.3v1.3h-1.3zM604.8 479.0h1.3v1.3h-1.3zM605.1 470.7h1.3v1.3h-1.3zM605.4 492.7h1.3v1.3h-1.3zM605.7 486.0h1.3v1.3h-1.3zM606.0 451.3h1.3v1.3h-1.3zM606.3 456.5h1.3v1.3h-1.3zM606.6 452.8h1.3v1.3h-1.3zM607.0 420.5h1.3v1.3h-1.3zM607.3 460.6h1.3v1.3h-1.3zM607.6 478.0h1.3v1.3h-1.3zM607.9 475.7h1.3v1.3h-1.3zM608.2 442.6h1.3v1.3h-1.3zM608.5 416.7h1.3v1.3h-1.3zM608.8 470.6h1.3v1.3h-1.3zM609.1 387.5h1.3v1.3h-1.3zM609.5 455.7h1.3v1.3h-1.3zM609.8 371.1h1.3v1.3h-1.3zM610.1 484.6h1.3v1.3h-1.3zM610.4 365.3h1.3v1.3h-1.3zM610.7 458.8h1.3v1.3h-1.3zM611.0 438.0h1.3v1.3h-1.3zM611.3 490.4h1.3v1.3h-1.3zM611.6 482.8h1.3v1.3h-1.3zM611.9 490.6h1.3v1.3h-1.3zM612.3 469.8h1.3v1.3h-1.3zM612.6 361.6h1.3v1.3h-1.3zM612.9 455.2h1.3v1.3h-1.3zM613.2 457.4h1.3v1.3h-1.3zM613.5 369.5h1.3v1.3h-1.3zM613.8 460.5h1.3v1.3h-1.3zM614.1 451.5h1.3v1.3h-1.3zM614.4 436.7h1.3v1.3h-1.3zM614.8 465.9h1.3v1.3h-1.3zM615.1 477.4h1.3v1.3h-1.3zM615.4 409.8h1.3v1.3h-1.3zM615.7 468.8h1.3v1.3h-1.3zM616.0 452.9h1.3v1.3h-1.3zM616.3 483.4h1.3v1.3h-1.3zM616.6 486.8h1.3v1.3h-1.3zM616.9 472.9h1.3v1.3h-1.3zM617.3 462.0h1.3v1.3h-1.3zM617.6 436.6h1.3v1.3h-1.3zM617.9 481.4h1.3v1.3h-1.3zM618.2 390.9h1.3v1.3h-1.3zM618.5 325.9h1.3v1.3h-1.3zM618.8 448.8h1.3v1.3h-1.3zM619.1 475.4h1.3v1.3h-1.3zM619.4 445.9h1.3v1.3h-1.3zM619.8 442.0h1.3v1.3h-1.3zM620.1 414.4h1.3v1.3h-1.3zM620.4 470.3h1.3v1.3h-1.3zM620.7 457.0h1.3v1.3h-1.3zM621.0 407.4h1.3v1.3h-1.3zM621.3 447.7h1.3v1.3h-1.3zM621.6 432.4h1.3v1.3h-1.3zM621.9 455.0h1.3v1.3h-1.3zM622.3 395.5h1.3v1.3h-1.3zM622.6 438.0h1.3v1.3h-1.3zM622.9 470.8h1.3v1.3h-1.3zM623.2 460.4h1.3v1.3h-1.3zM623.5 459.8h1.3v1.3h-1.3zM623.8 394.1h1.3v1.3h-1.3zM624.1 392.0h1.3v1.3h-1.3zM624.4 458.7h1.3v1.3h-1.3zM624.7 431.3h1.3v1.3h-1.3zM625.1 421.7h1.3v1.3h-1.3zM625.4 491.4h1.3v1.3h-1.3zM625.7 489.5h1.3v1.3h-1.3zM626.0 458.8h1.3v1.3h-1.3zM626.3 377.3h1.3v1.3h-1.3zM626.6 478.3h1.3v1.3h-1.3zM626.9 430.4h1.3v1.3h-1.3zM627.2 377.3h1.3v1.3h-1.3zM627.6 457.0h1.3v1.3h-1.3zM627.9 460.5h1.3v1.3h-1.3zM628.2 476.5h1.3v1.3h-1.3zM628.5 398.5h1.3v1.3h-1.3zM628.8 325.9h1.3v1.3h-1.3zM629.1 474.9h1.3v1.3h-1.3zM629.4 459.2h1.3v1.3h-1.3zM629.7 491.3h1.3v1.3h-1.3zM630.1 478.9h1.3v1.3h-1.3zM630.4 454.0h1.3v1.3h-1.3zM630.7 493.1h1.3v1.3h-1.3zM631.0 466.0h1.3v1.3h-1.3zM631.3 415.1h1.3v1.3h-1.3zM631.6 427.0h1.3v1.3h-1.3zM631.9 479.7h1.3v1.3h-1.3zM632.2 422.7h1.3v1.3h-1.3zM632.6 432.5h1.3v1.3h-1.3zM632.9 445.5h1.3v1.3h-1.3zM633.2 428.2h1.3v1.3h-1.3zM633.5 456.5h1.3v1.3h-1.3zM633.8 459.1h1.3v1.3h-1.3zM634.1 492.3h1.3v1.3h-1.3zM634.4 360.2h1.3v1.3h-1.3zM634.7 448.4h1.3v1.3h-1.3zM635.1 325.9h1.3v1.3h-1.3zM635.4 425.9h1.3v1.3h-1.3zM635.7 490.8h1.3v1.3h-1.3zM636.0 472.3h1.3v1.3h-1.3zM636.3 398.0h1.3v1.3h-1.3zM636.6 343.7h1.3v1.3h-1.3zM636.9 389.7h1.3v1.3h-1.3zM637.2 467.8h1.3v1.3h-1.3zM637.5 465.9h1.3v1.3h-1.3zM637.9 462.1h1.3v1.3h-1.3zM638.2 325.9h1.3v1.3h-1.3zM638.5 470.1h1.3v1.3h-1.3zM638.8 481.2h1.3v1.3h-1.3zM639.1 430.0h1.3v1.3h-1.3zM639.4 465.3h1.3v1.3h-1.3zM639.7 464.8h1.3v1.3h-1.3zM640.0 466.0h1.3v1.3h-1.3zM640.4 336.7h1.3v1.3h-1.3zM640.7 479.2h1.3v1.3h-1.3zM641.0 457.4h1.3v1.3h-1.3zM641.3 468.5h1.3v1.3h-1.3zM641.6 413.1h1.3v1.3h-1.3zM641.9 429.9h1.3v1.3h-1.3zM642.2 432.8h1.3v1.3h-1.3zM642.5 425.5h1.3v1.3h-1.3zM642.9 346.0h1.3v1.3h-1.3zM643.2 421.0h1.3v1.3h-1.3zM643.5 325.9h1.3v1.3h-1.3zM643.8 478.4h1.3v1.3h-1.3zM644.1 325.9h1.3v1.3h-1.3zM644.4 481.0h1.3v1.3h-1.3zM644.7 492.0h1.3v1.3h-1.3zM645.0 491.6h1.3v1.3h-1.3zM645.4 474.4h1.3v1.3h-1.3zM645.7 485.4h1.3v1.3h-1.3zM646.0 475.4h1.3v1.3h-1.3zM646.3 445.0h1.3v1.3h-1.3zM646.6 461.9h1.3v1.3h-1.3zM646.9 483.1h1.3v1.3h-1.3zM647.2 413.8h1.3v1.3h-1.3zM647.5 485.7h1.3v1.3h-1.3zM647.9 466.7h1.3v1.3h-1.3zM648.2 462.4h1.3v1.3h-1.3zM648.5 492.6h1.3v1.3h-1.3zM648.8 437.2h1.3v1.3h-1.3zM649.1 453.0h1.3v1.3h-1.3zM649.4 364.0h1.3v1.3h-1.3zM649.7 428.7h1.3v1.3h-1.3zM650.0 482.9h1.3v1.3h-1.3zM650.3 483.0h1.3v1.3h-1.3zM650.7 374.7h1.3v1.3h-1.3zM651.0 374.9h1.3v1.3h-1.3zM651.3 441.3h1.3v1.3h-1.3zM651.6 370.2h1.3v1.3h-1.3zM651.9 423.7h1.3v1.3h-1.3zM652.2 473.3h1.3v1.3h-1.3zM652.5 371.8h1.3v1.3h-1.3zM652.8 381.2h1.3v1.3h-1.3zM653.2 433.8h1.3v1.3h-1.3zM653.5 403.0h1.3v1.3h-1.3zM653.8 369.9h1.3v1.3h-1.3zM654.1 427.1h1.3v1.3h-1.3zM654.4 392.3h1.3v1.3h-1.3zM654.7 412.9h1.3v1.3h-1.3zM655.0 456.5h1.3v1.3h-1.3zM655.3 404.2h1.3v1.3h-1.3zM655.7 325.9h1.3v1.3h-1.3zM656.0 366.7h1.3v1.3h-1.3zM656.3 325.9h1.3v1.3h-1.3zM656.6 464.0h1.3v1.3h-1.3zM656.9 399.6h1.3v1.3h-1.3zM657.2 389.2h1.3v1.3h-1.3zM657.5 489.3h1.3v1.3h-1.3zM657.8 460.5h1.3v1.3h-1.3zM658.2 382.3h1.3v1.3h-1.3zM658.5 419.7h1.3v1.3h-1.3zM658.8 419.8h1.3v1.3h-1.3zM659.1 439.4h1.3v1.3h-1.3zM659.4 484.4h1.3v1.3h-1.3zM659.7 457.4h1.3v1.3h-1.3zM660.0 337.7h1.3v1.3h-1.3zM660.3 445.6h1.3v1.3h-1.3zM660.7 364.9h1.3v1.3h-1.3zM661.0 405.4h1.3v1.3h-1.3zM661.3 412.7h1.3v1.3h-1.3zM661.6 375.4h1.3v1.3h-1.3zM661.9 348.9h1.3v1.3h-1.3zM662.2 427.9h1.3v1.3h-1.3zM662.5 468.5h1.3v1.3h-1.3zM662.8 478.2h1.3v1.3h-1.3zM663.1 463.4h1.3v1.3h-1.3zM663.5 453.0h1.3v1.3h-1.3zM663.8 453.2h1.3v1.3h-1.3zM664.1 455.1h1.3v1.3h-1.3zM664.4 430.9h1.3v1.3h-1.3zM664.7 443.0h1.3v1.3h-1.3zM665.0 432.2h1.3v1.3h-1.3zM665.3 433.1h1.3v1.3h-1.3zM665.6 461.3h1.3v1.3h-1.3zM666.0 479.0h1.3v1.3h-1.3zM666.3 444.1h1.3v1.3h-1.3zM666.6 433.7h1.3v1.3h-1.3zM666.9 400.9h1.3v1.3h-1.3zM667.2 447.0h1.3v1.3h-1.3zM667.5 325.9h1.3v1.3h-1.3zM667.8 429.7h1.3v1.3h-1.3zM668.1 481.8h1.3v1.3h-1.3zM668.5 365.6h1.3v1.3h-1.3zM668.8 432.0h1.3v1.3h-1.3zM669.1 473.8h1.3v1.3h-1.3zM669.4 413.5h1.3v1.3h-1.3zM669.7 489.2h1.3v1.3h-1.3zM670.0 450.9h1.3v1.3h-1.3zM670.3 464.1h1.3v1.3h-1.3zM670.6 446.3h1.3v1.3h-1.3zM671.0 458.7h1.3v1.3h-1.3zM671.3 345.5h1.3v1.3h-1.3zM671.6 483.7h1.3v1.3h-1.3zM671.9 399.6h1.3v1.3h-1.3zM672.2 478.9h1.3v1.3h-1.3zM672.5 478.7h1.3v1.3h-1.3zM672.8 479.3h1.3v1.3h-1.3zM673.1 479.6h1.3v1.3h-1.3zM673.5 438.8h1.3v1.3h-1.3zM673.8 470.4h1.3v1.3h-1.3zM674.1 325.9h1.3v1.3h-1.3zM674.4 325.9h1.3v1.3h-1.3zM674.7 475.9h1.3v1.3h-1.3zM675.0 429.5h1.3v1.3h-1.3zM675.3 417.2h1.3v1.3h-1.3zM675.6 435.5h1.3v1.3h-1.3zM675.9 378.6h1.3v1.3h-1.3zM676.3 384.3h1.3v1.3h-1.3zM676.6 462.1h1.3v1.3h-1.3zM676.9 422.9h1.3v1.3h-1.3zM677.2 464.3h1.3v1.3h-1.3zM677.5 472.2h1.3v1.3h-1.3zM677.8 471.4h1.3v1.3h-1.3zM678.1 351.0h1.3v1.3h-1.3zM678.4 365.5h1.3v1.3h-1.3zM678.8 480.5h1.3v1.3h-1.3zM679.1 325.9h1.3v1.3h-1.3zM679.4 464.7h1.3v1.3h-1.3zM679.7 325.9h1.3v1.3h-1.3zM680.0 451.4h1.3v1.3h-1.3zM680.3 336.4h1.3v1.3h-1.3zM680.6 387.0h1.3v1.3h-1.3zM680.9 449.4h1.3v1.3h-1.3zM681.3 490.5h1.3v1.3h-1.3zM681.6 445.4h1.3v1.3h-1.3zM681.9 418.0h1.3v1.3h-1.3zM682.2 449.1h1.3v1.3h-1.3zM682.5 476.9h1.3v1.3h-1.3zM682.8 443.8h1.3v1.3h-1.3zM683.1 325.9h1.3v1.3h-1.3zM683.4 448.3h1.3v1.3h-1.3zM683.8 485.0h1.3v1.3h-1.3zM684.1 360.3h1.3v1.3h-1.3zM684.4 444.5h1.3v1.3h-1.3zM684.7 406.5h1.3v1.3h-1.3zM685.0 479.3h1.3v1.3h-1.3zM685.3 437.9h1.3v1.3h-1.3zM685.6 491.9h1.3v1.3h-1.3zM685.9 325.9h1.3v1.3h-1.3zM686.3 472.9h1.3v1.3h-1.3zM686.6 404.6h1.3v1.3h-1.3zM686.9 473.9h1.3v1.3h-1.3zM687.2 466.8h1.3v1.3h-1.3zM687.5 492.4h1.3v1.3h-1.3zM687.8 422.7h1.3v1.3h-1.3zM688.1 471.5h1.3v1.3h-1.3zM688.4 434.8h1.3v1.3h-1.3zM688.8 469.0h1.3v1.3h-1.3zM689.1 325.9h1.3v1.3h-1.3zM689.4 419.5h1.3v1.3h-1.3zM689.7 397.4h1.3v1.3h-1.3zM690.0 325.9h1.3v1.3h-1.3zM690.3 325.9h1.3v1.3h-1.3zM690.6 397.3h1.3v1.3h-1.3zM690.9 485.1h1.3v1.3h-1.3zM691.2 488.7h1.3v1.3h-1.3zM691.6 493.1h1.3v1.3h-1.3zM691.9 466.4h1.3v1.3h-1.3zM692.2 484.9h1.3v1.3h-1.3zM692.5 484.0h1.3v1.3h-1.3zM692.8 325.9h1.3v1.3h-1.3zM693.1 325.9h1.3v1.3h-1.3zM693.4 481.1h1.3v1.3h-1.3zM693.7 484.3h1.3v1.3h-1.3zM694.1 455.6h1.3v1.3h-1.3zM694.4 475.1h1.3v1.3h-1.3zM694.7 442.9h1.3v1.3h-1.3zM695.0 451.8h1.3v1.3h-1.3zM695.3 379.2h1.3v1.3h-1.3zM695.6 457.7h1.3v1.3h-1.3zM695.9 478.3h1.3v1.3h-1.3zM696.2 339.9h1.3v1.3h-1.3zM696.6 449.2h1.3v1.3h-1.3zM696.9 394.6h1.3v1.3h-1.3zM697.2 348.7h1.3v1.3h-1.3zM697.5 487.2h1.3v1.3h-1.3zM697.8 450.9h1.3v1.3h-1.3zM698.1 465.5h1.3v1.3h-1.3zM698.4 455.8h1.3v1.3h-1.3zM698.7 325.9h1.3v1.3h-1.3zM699.1 325.9h1.3v1.3h-1.3zM699.4 482.9h1.3v1.3h-1.3zM699.7 413.2h1.3v1.3h-1.3zM700.0 454.0h1.3v1.3h-1.3zM700.3 483.9h1.3v1.3h-1.3zM700.6 426.6h1.3v1.3h-1.3zM700.9 417.1h1.3v1.3h-1.3zM701.2 413.0h1.3v1.3h-1.3zM701.6 325.9h1.3v1.3h-1.3zM701.9 325.9h1.3v1.3h-1.3zM702.2 378.0h1.3v1.3h-1.3zM702.5 388.3h1.3v1.3h-1.3zM702.8 425.8h1.3v1.3h-1.3zM703.1 373.8h1.3v1.3h-1.3zM703.4 464.8h1.3v1.3h-1.3zM703.7 451.6h1.3v1.3h-1.3zM704.0 471.8h1.3v1.3h-1.3zM704.4 483.5h1.3v1.3h-1.3zM704.7 456.9h1.3v1.3h-1.3zM705.0 423.3h1.3v1.3h-1.3zM705.3 483.5h1.3v1.3h-1.3zM705.6 423.0h1.3v1.3h-1.3zM705.9 462.0h1.3v1.3h-1.3zM706.2 400.9h1.3v1.3h-1.3zM706.5 390.7h1.3v1.3h-1.3zM706.9 391.3h1.3v1.3h-1.3zM707.2 453.7h1.3v1.3h-1.3zM707.5 343.6h1.3v1.3h-1.3zM707.8 390.8h1.3v1.3h-1.3zM708.1 413.2h1.3v1.3h-1.3zM708.4 408.3h1.3v1.3h-1.3zM708.7 334.1h1.3v1.3h-1.3zM709.0 448.5h1.3v1.3h-1.3zM709.4 431.0h1.3v1.3h-1.3zM709.7 392.1h1.3v1.3h-1.3zM710.0 389.8h1.3v1.3h-1.3zM710.3 359.1h1.3v1.3h-1.3zM710.6 463.5h1.3v1.3h-1.3zM710.9 486.5h1.3v1.3h-1.3zM711.2 473.0h1.3v1.3h-1.3zM711.5 476.8h1.3v1.3h-1.3zM711.9 445.4h1.3v1.3h-1.3zM712.2 482.0h1.3v1.3h-1.3zM712.5 325.9h1.3v1.3h-1.3zM712.8 325.9h1.3v1.3h-1.3zM713.1 471.0h1.3v1.3h-1.3zM713.4 437.8h1.3v1.3h-1.3zM713.7 386.6h1.3v1.3h-1.3zM714.0 474.5h1.3v1.3h-1.3zM714.4 325.9h1.3v1.3h-1.3zM714.7 469.4h1.3v1.3h-1.3zM715.0 325.9h1.3v1.3h-1.3zM715.3 417.4h1.3v1.3h-1.3zM715.6 473.8h1.3v1.3h-1.3zM715.9 441.2h1.3v1.3h-1.3zM716.2 481.9h1.3v1.3h-1.3zM716.5 460.5h1.3v1.3h-1.3zM716.8 467.9h1.3v1.3h-1.3zM717.2 372.6h1.3v1.3h-1.3zM717.5 343.5h1.3v1.3h-1.3zM717.8 483.8h1.3v1.3h-1.3zM718.1 485.5h1.3v1.3h-1.3zM718.4 325.9h1.3v1.3h-1.3zM718.7 325.9h1.3v1.3h-1.3zM719.0 325.9h1.3v1.3h-1.3zM719.3 407.5h1.3v1.3h-1.3zM719.7 325.9h1.3v1.3h-1.3zM720.0 408.2h1.3v1.3h-1.3zM720.3 325.9h1.3v1.3h-1.3zM720.6 490.2h1.3v1.3h-1.3zM720.9 325.9h1.3v1.3h-1.3zM721.2 423.5h1.3v1.3h-1.3zM721.5 425.3h1.3v1.3h-1.3zM721.8 325.9h1.3v1.3h-1.3zM722.2 412.4h1.3v1.3h-1.3zM722.5 325.9h1.3v1.3h-1.3zM722.8 435.9h1.3v1.3h-1.3zM723.1 373.0h1.3v1.3h-1.3zM723.4 418.2h1.3v1.3h-1.3zM723.7 467.3h1.3v1.3h-1.3zM724.0 477.7h1.3v1.3h-1.3zM724.3 382.6h1.3v1.3h-1.3zM724.7 325.9h1.3v1.3h-1.3zM725.0 473.6h1.3v1.3h-1.3zM725.3 410.4h1.3v1.3h-1.3zM725.6 325.9h1.3v1.3h-1.3zM725.9 325.9h1.3v1.3h-1.3zM726.2 325.9h1.3v1.3h-1.3zM726.5 424.8h1.3v1.3h-1.3zM726.8 325.9h1.3v1.3h-1.3zM727.2 325.9h1.3v1.3h-1.3zM727.5 448.5h1.3v1.3h-1.3zM727.8 374.6h1.3v1.3h-1.3zM728.1 325.9h1.3v1.3h-1.3zM728.4 414.6h1.3v1.3h-1.3zM728.7 404.6h1.3v1.3h-1.3zM729.0 358.6h1.3v1.3h-1.3zM729.3 325.9h1.3v1.3h-1.3zM729.6 325.9h1.3v1.3h-1.3zM730.0 401.0h1.3v1.3h-1.3zM730.3 379.1h1.3v1.3h-1.3zM730.6 325.9h1.3v1.3h-1.3zM730.9 325.9h1.3v1.3h-1.3zM731.2 412.6h1.3v1.3h-1.3zM731.5 431.6h1.3v1.3h-1.3zM731.8 461.9h1.3v1.3h-1.3zM732.1 405.1h1.3v1.3h-1.3zM732.5 325.9h1.3v1.3h-1.3zM732.8 376.3h1.3v1.3h-1.3zM733.1 325.9h1.3v1.3h-1.3zM733.4 384.5h1.3v1.3h-1.3zM733.7 325.9h1.3v1.3h-1.3zM734.0 434.1h1.3v1.3h-1.3zM734.3 461.9h1.3v1.3h-1.3zM734.6 347.9h1.3v1.3h-1.3zM735.0 325.9h1.3v1.3h-1.3zM735.3 431.2h1.3v1.3h-1.3zM735.6 325.9h1.3v1.3h-1.3zM735.9 325.9h1.3v1.3h-1.3zM736.2 325.9h1.3v1.3h-1.3zM736.5 380.0h1.3v1.3h-1.3zM736.8 378.2h1.3v1.3h-1.3zM737.1 479.8h1.3v1.3h-1.3zM737.5 472.1h1.3v1.3h-1.3zM737.8 477.0h1.3v1.3h-1.3zM738.1 462.0h1.3v1.3h-1.3zM738.4 413.7h1.3v1.3h-1.3zM738.7 474.5h1.3v1.3h-1.3zM739.0 443.8h1.3v1.3h-1.3zM739.3 482.7h1.3v1.3h-1.3zM739.6 325.9h1.3v1.3h-1.3zM740.0 489.3h1.3v1.3h-1.3zM740.3 430.9h1.3v1.3h-1.3zM740.6 491.4h1.3v1.3h-1.3zM740.9 325.9h1.3v1.3h-1.3zM741.2 492.5h1.3v1.3h-1.3zM741.5 483.4h1.3v1.3h-1.3zM741.8 467.1h1.3v1.3h-1.3zM742.1 325.9h1.3v1.3h-1.3zM742.4 325.9h1.3v1.3h-1.3zM742.8 325.9h1.3v1.3h-1.3zM743.1 450.8h1.3v1.3h-1.3zM743.4 339.1h1.3v1.3h-1.3zM743.7 461.2h1.3v1.3h-1.3zM744.0 325.9h1.3v1.3h-1.3zM744.3 325.9h1.3v1.3h-1.3zM744.6 325.9h1.3v1.3h-1.3zM744.9 346.8h1.3v1.3h-1.3zM745.3 325.9h1.3v1.3h-1.3zM745.6 325.9h1.3v1.3h-1.3zM745.9 325.9h1.3v1.3h-1.3zM746.2 411.5h1.3v1.3h-1.3zM746.5 325.9h1.3v1.3h-1.3zM746.8 350.7h1.3v1.3h-1.3zM747.1 325.9h1.3v1.3h-1.3zM747.4 361.5h1.3v1.3h-1.3zM747.8 325.9h1.3v1.3h-1.3zM748.1 337.4h1.3v1.3h-1.3zM748.4 391.2h1.3v1.3h-1.3zM748.7 325.9h1.3v1.3h-1.3zM749.0 345.0h1.3v1.3h-1.3zM749.3 351.4h1.3v1.3h-1.3zM749.6 350.9h1.3v1.3h-1.3zM749.9 378.8h1.3v1.3h-1.3zM750.3 367.2h1.3v1.3h-1.3zM750.6 415.1h1.3v1.3h-1.3zM750.9 325.9h1.3v1.3h-1.3zM751.2 342.0h1.3v1.3h-1.3zM751.5 333.5h1.3v1.3h-1.3zM751.8 404.0h1.3v1.3h-1.3zM752.1 360.8h1.3v1.3h-1.3zM752.4 325.9h1.3v1.3h-1.3zM752.8 370.2h1.3v1.3h-1.3zM753.1 410.6h1.3v1.3h-1.3zM753.4 349.6h1.3v1.3h-1.3zM753.7 337.7h1.3v1.3h-1.3zM754.0 381.2h1.3v1.3h-1.3zM754.3 387.1h1.3v1.3h-1.3zM754.6 325.9h1.3v1.3h-1.3zM754.9 343.8h1.3v1.3h-1.3zM755.2 358.3h1.3v1.3h-1.3zM755.6 325.9h1.3v1.3h-1.3zM755.9 379.5h1.3v1.3h-1.3zM756.2 424.1h1.3v1.3h-1.3z" class="dot"/>
<polyline points="460.1,482.6 466.1,480.2 473.2,482.2 479.2,481.6 485.3,478.6 491.9,473.1 498.0,474.2 504.0,469.5 510.5,465.5 516.5,468.9 522.9,467.7 529.0,466.9 535.6,455.0 541.9,467.5 548.1,463.1 554.2,466.1 560.2,466.5 566.3,466.5 572.5,457.0 579.0,453.4 585.0,452.4 591.5,452.0 597.7,457.2 604.2,451.4 610.5,424.5 616.6,446.1 622.8,428.6 628.9,451.4 635.0,436.8 641.5,431.5 647.6,437.4 654.0,423.6 660.4,414.0 666.6,420.7 672.7,435.3 678.8,413.4 685.0,425.1 691.4,432.4 697.5,421.3 703.9,414.0 710.1,407.6 716.2,400.3 722.6,393.6 728.8,374.0 734.9,388.6 741.3,408.2 747.4,347.7 754.2,363.8" class="avg" stroke-width="1.3"/>
<path d="M460.1 480.1l2.50 4.25h-5.00zM466.1 477.7l2.50 4.25h-5.00zM473.2 479.7l2.50 4.25h-5.00zM479.2 479.1l2.50 4.25h-5.00zM485.3 476.0l2.50 4.25h-5.00zM491.9 470.6l2.50 4.25h-5.00zM498.0 471.6l2.50 4.25h-5.00zM504.0 467.0l2.50 4.25h-5.00zM510.5 462.9l2.50 4.25h-5.00zM516.5 466.4l2.50 4.25h-5.00zM522.9 465.2l2.50 4.25h-5.00zM529.0 464.4l2.50 4.25h-5.00zM535.6 452.5l2.50 4.25h-5.00zM541.9 465.0l2.50 4.25h-5.00zM548.1 460.5l2.50 4.25h-5.00zM554.2 463.5l2.50 4.25h-5.00zM560.2 463.9l2.50 4.25h-5.00zM566.3 463.9l2.50 4.25h-5.00zM572.5 454.5l2.50 4.25h-5.00zM579.0 450.9l2.50 4.25h-5.00zM585.0 449.8l2.50 4.25h-5.00zM591.5 449.4l2.50 4.25h-5.00zM597.7 454.7l2.50 4.25h-5.00zM604.2 448.8l2.50 4.25h-5.00zM610.5 422.0l2.50 4.25h-5.00zM616.6 443.6l2.50 4.25h-5.00zM622.8 426.1l2.50 4.25h-5.00zM628.9 448.8l2.50 4.25h-5.00zM635.0 434.2l2.50 4.25h-5.00zM641.5 429.0l2.50 4.25h-5.00zM647.6 434.8l2.50 4.25h-5.00zM654.0 421.1l2.50 4.25h-5.00zM660.4 411.5l2.50 4.25h-5.00zM666.6 418.2l2.50 4.25h-5.00zM672.7 432.8l2.50 4.25h-5.00zM678.8 410.9l2.50 4.25h-5.00zM685.0 422.6l2.50 4.25h-5.00zM691.4 429.9l2.50 4.25h-5.00zM697.5 418.8l2.50 4.25h-5.00zM703.9 411.5l2.50 4.25h-5.00zM710.1 405.0l2.50 4.25h-5.00zM716.2 397.7l2.50 4.25h-5.00zM722.6 391.0l2.50 4.25h-5.00zM728.8 371.5l2.50 4.25h-5.00zM734.9 386.1l2.50 4.25h-5.00zM741.3 405.6l2.50 4.25h-5.00zM747.4 345.2l2.50 4.25h-5.00zM754.2 361.2l2.50 4.25h-5.00z" class="tri"/>
<text x="502.3" y="336.0" class="ov" text-anchor="middle">Speed: 2.5m/s</text>
<text x="502.3" y="348.9" class="ov" text-anchor="middle">Learning rate: 0.001</text>
<text x="502.3" y="361.9" class="ov" text-anchor="middle">Epochs: 5</text>
<text x="502.3" y="374.9" class="ov" text-anchor="middle">Batch size: 32</text>
<text x="502.3" y="387.8" class="ov" text-anchor="middle">Time trained: 2 hrs</text>
</svg>
</body></html>
